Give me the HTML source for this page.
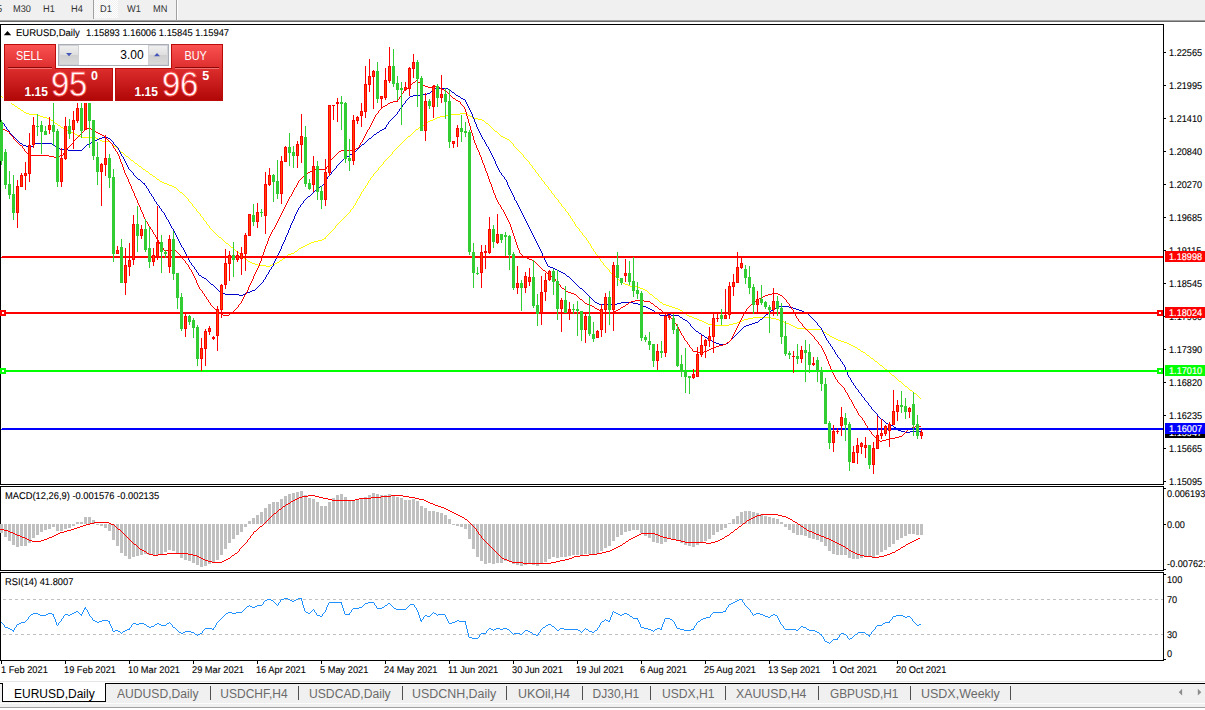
<!DOCTYPE html><html><head><meta charset="utf-8"><title>EURUSD,Daily</title><style>
html,body{margin:0;padding:0}
body{width:1205px;height:710px;overflow:hidden;background:#fff;position:relative;font-family:"Liberation Sans",sans-serif}
div{position:absolute;white-space:nowrap}
.ax{font-size:9.8px;text-rendering:geometricPrecision;line-height:10px;color:#000;left:1169px;transform:scaleX(.936);transform-origin:0 0;-webkit-text-stroke:.1px #000}
.lb{left:1165px;width:40px;height:11px}
.lb span{position:absolute;left:4px;top:2px;font-size:9.8px;text-rendering:geometricPrecision;line-height:10px;color:#fff;transform:scaleX(.936);transform-origin:0 0;-webkit-text-stroke:.2px #fff}
.dt{font-size:9.8px;text-rendering:geometricPrecision;line-height:10px;color:#000;-webkit-text-stroke:.1px #000;transform:scaleX(.944);transform-origin:0 0;top:666px}
.tb{font-size:9.8px;text-rendering:geometricPrecision;line-height:10px;color:#333;top:5px;transform:scaleX(.94);transform-origin:0 0}
.tab{font-size:12px;line-height:12px;color:#6a6a6a;top:688px}
.sep{top:686px;width:1px;height:14px;background:#505050}
</style></head><body>
<div style="left:0;top:0;width:1205px;height:20px;background:#f0f0f0"></div>
<div style="left:0;top:20px;width:1205px;height:1px;background:#a0a0a0"></div>
<div style="left:0;top:21px;width:1205px;height:1px;background:#696969"></div>
<div style="left:94px;top:0;width:24px;height:18px;background:repeating-conic-gradient(#fff 0 25%,#f0f0f0 0 50%) 0 0/2px 2px"></div>
<div style="left:93px;top:0;width:1px;height:19px;background:#a0a0a0"></div>
<div style="left:176px;top:0;width:1px;height:20px;background:#a0a0a0"></div><div style="left:177px;top:0;width:1px;height:20px;background:#fff"></div>
<div class="tb" style="left:-3.2px">5</div>
<div class="tb" style="left:12.5px">M30</div>
<div class="tb" style="left:43.3px">H1</div>
<div class="tb" style="left:70.5px">H4</div>
<div class="tb" style="left:99.7px">D1</div>
<div class="tb" style="left:127.2px">W1</div>
<div class="tb" style="left:153.3px">MN</div>
<svg width="1205" height="710" viewBox="0 0 1205 710" shape-rendering="crispEdges" style="position:absolute;left:0;top:0">
<rect x="0" y="24" width="1164" height="1" fill="#000"/>
<rect x="0" y="24" width="1" height="461" fill="#000"/>
<rect x="0" y="484" width="1164" height="1" fill="#000"/>
<rect x="1163" y="24" width="1" height="461" fill="#000"/>
<rect x="0" y="486" width="1164" height="1" fill="#000"/>
<rect x="0" y="486" width="1" height="85" fill="#000"/>
<rect x="0" y="570" width="1164" height="1" fill="#000"/>
<rect x="1163" y="486" width="1" height="85" fill="#000"/>
<rect x="0" y="572" width="1164" height="1" fill="#000"/>
<rect x="0" y="572" width="1" height="89" fill="#000"/>
<rect x="0" y="660" width="1164" height="1" fill="#000"/>
<rect x="1163" y="572" width="1" height="89" fill="#000"/>
<rect x="1164" y="52" width="2" height="1" fill="#000"/>
<rect x="1164" y="85" width="2" height="1" fill="#000"/>
<rect x="1164" y="118" width="2" height="1" fill="#000"/>
<rect x="1164" y="151" width="2" height="1" fill="#000"/>
<rect x="1164" y="184" width="2" height="1" fill="#000"/>
<rect x="1164" y="217" width="2" height="1" fill="#000"/>
<rect x="1164" y="250" width="2" height="1" fill="#000"/>
<rect x="1164" y="283" width="2" height="1" fill="#000"/>
<rect x="1164" y="316" width="2" height="1" fill="#000"/>
<rect x="1164" y="349" width="2" height="1" fill="#000"/>
<rect x="1164" y="382" width="2" height="1" fill="#000"/>
<rect x="1164" y="415" width="2" height="1" fill="#000"/>
<rect x="1164" y="448" width="2" height="1" fill="#000"/>
<rect x="1164" y="481" width="2" height="1" fill="#000"/>
<rect x="1164" y="488" width="2" height="1" fill="#000"/>
<rect x="1164" y="524" width="2" height="1" fill="#000"/>
<rect x="1164" y="569" width="2" height="1" fill="#000"/>
<rect x="1164" y="574" width="2" height="1" fill="#000"/>
<rect x="1164" y="659" width="2" height="1" fill="#000"/>
<rect x="1" y="661" width="1" height="3" fill="#000"/>
<rect x="65" y="661" width="1" height="3" fill="#000"/>
<rect x="129" y="661" width="1" height="3" fill="#000"/>
<rect x="193" y="661" width="1" height="3" fill="#000"/>
<rect x="257" y="661" width="1" height="3" fill="#000"/>
<rect x="321" y="661" width="1" height="3" fill="#000"/>
<rect x="385" y="661" width="1" height="3" fill="#000"/>
<rect x="449" y="661" width="1" height="3" fill="#000"/>
<rect x="513" y="661" width="1" height="3" fill="#000"/>
<rect x="577" y="661" width="1" height="3" fill="#000"/>
<rect x="641" y="661" width="1" height="3" fill="#000"/>
<rect x="705" y="661" width="1" height="3" fill="#000"/>
<rect x="769" y="661" width="1" height="3" fill="#000"/>
<rect x="833" y="661" width="1" height="3" fill="#000"/>
<rect x="897" y="661" width="1" height="3" fill="#000"/>
<path d="M1 96h1v1h-1zM2 97h1v1h-1zM3 97h1v1h-1zM4 98h1v1h-1zM5 99h1v1h-1zM6 99h1v1h-1zM7 100h1v1h-1zM8 101h1v1h-1zM9 101h1v1h-1zM10 102h1v1h-1zM11 103h1v1h-1zM12 104h1v1h-1zM13 104h1v1h-1zM14 105h1v1h-1zM15 106h1v1h-1zM16 106h1v1h-1zM17 107h1v1h-1zM18 108h1v1h-1zM19 108h1v1h-1zM20 109h1v1h-1zM21 110h1v1h-1zM22 110h1v1h-1zM23 111h1v1h-1zM24 112h1v1h-1zM25 112h1v1h-1zM26 113h1v1h-1zM27 113h1v1h-1zM28 113h1v1h-1zM29 114h1v1h-1zM30 114h1v1h-1zM31 114h1v1h-1zM32 114h1v1h-1zM33 114h1v1h-1zM34 114h1v1h-1zM35 114h1v1h-1zM36 114h1v1h-1zM37 115h1v1h-1zM38 115h1v1h-1zM39 115h1v1h-1zM40 116h1v1h-1zM41 116h1v1h-1zM42 116h1v1h-1zM43 117h1v1h-1zM44 117h1v1h-1zM45 117h1v1h-1zM46 117h1v1h-1zM47 118h1v1h-1zM48 118h1v1h-1zM49 118h1v1h-1zM50 119h1v1h-1zM51 120h1v1h-1zM52 120h1v1h-1zM53 121h1v1h-1zM54 122h1v1h-1zM55 123h1v1h-1zM56 123h1v1h-1zM57 124h1v1h-1zM58 125h1v1h-1zM59 125h1v1h-1zM60 126h1v1h-1zM61 127h1v1h-1zM62 127h1v1h-1zM63 128h1v1h-1zM64 128h1v1h-1zM65 129h1v1h-1zM66 129h1v1h-1zM67 130h1v1h-1zM68 130h1v1h-1zM69 131h1v1h-1zM70 131h1v1h-1zM71 132h1v1h-1zM72 132h1v1h-1zM73 133h1v1h-1zM74 133h1v1h-1zM75 134h1v1h-1zM76 134h1v1h-1zM77 135h1v1h-1zM78 135h1v1h-1zM79 136h1v1h-1zM80 136h1v1h-1zM81 137h1v1h-1zM82 137h1v1h-1zM83 137h1v1h-1zM84 137h1v1h-1zM85 137h1v1h-1zM86 137h1v1h-1zM87 137h1v1h-1zM88 137h1v1h-1zM89 137h1v1h-1zM90 137h1v1h-1zM91 137h1v1h-1zM92 137h1v1h-1zM93 137h1v1h-1zM94 137h1v1h-1zM95 137h1v1h-1zM96 138h1v1h-1zM97 138h1v1h-1zM98 139h1v1h-1zM99 139h1v1h-1zM100 140h1v1h-1zM101 140h1v1h-1zM102 141h1v1h-1zM103 141h1v1h-1zM104 141h1v1h-1zM105 141h1v1h-1zM106 141h1v1h-1zM107 141h1v1h-1zM108 141h1v1h-1zM109 141h1v1h-1zM110 142h1v1h-1zM111 143h1v1h-1zM112 144h1v1h-1zM113 145h1v1h-1zM114 146h1v1h-1zM115 146h1v1h-1zM116 147h1v1h-1zM117 148h1v1h-1zM118 149h1v1h-1zM119 150h1v1h-1zM120 151h1v1h-1zM121 152h1v1h-1zM122 152h1v1h-1zM123 153h1v1h-1zM124 154h1v1h-1zM125 155h1v1h-1zM126 156h1v1h-1zM127 156h1v1h-1zM128 157h1v1h-1zM129 158h1v1h-1zM130 159h1v1h-1zM131 160h1v1h-1zM132 160h1v1h-1zM133 161h1v1h-1zM134 162h1v1h-1zM135 163h1v1h-1zM136 163h1v1h-1zM137 164h1v1h-1zM138 165h1v1h-1zM139 166h1v1h-1zM140 166h1v1h-1zM141 167h1v1h-1zM142 168h1v1h-1zM143 169h1v1h-1zM144 169h1v1h-1zM145 170h1v1h-1zM146 171h1v1h-1zM147 171h1v1h-1zM148 172h1v1h-1zM149 173h1v1h-1zM150 174h1v1h-1zM151 174h1v1h-1zM152 175h1v1h-1zM153 176h1v1h-1zM154 176h1v1h-1zM155 177h1v1h-1zM156 178h1v1h-1zM157 179h1v1h-1zM158 179h1v1h-1zM159 180h1v1h-1zM160 181h1v1h-1zM161 181h1v1h-1zM162 182h1v1h-1zM163 182h1v1h-1zM164 183h1v1h-1zM165 183h1v1h-1zM166 183h1v1h-1zM167 184h1v1h-1zM168 184h1v1h-1zM169 185h1v1h-1zM170 185h1v1h-1zM171 185h1v1h-1zM172 186h1v1h-1zM173 186h1v1h-1zM174 187h1v1h-1zM175 187h1v1h-1zM176 188h1v1h-1zM177 189h1v1h-1zM178 190h1v1h-1zM179 191h1v1h-1zM180 192h1v1h-1zM181 192h1v1h-1zM182 193h1v1h-1zM183 194h1v1h-1zM184 195h1v1h-1zM185 196h1v1h-1zM186 197h1v1h-1zM187 198h1v1h-1zM188 199h1v2h-1zM189 201h1v1h-1zM190 202h1v1h-1zM191 203h1v1h-1zM192 204h1v2h-1zM193 206h1v1h-1zM194 207h1v1h-1zM195 208h1v1h-1zM196 209h1v2h-1zM197 211h1v1h-1zM198 212h1v1h-1zM199 213h1v1h-1zM200 214h1v2h-1zM201 216h1v1h-1zM202 217h1v1h-1zM203 218h1v2h-1zM204 220h1v1h-1zM205 221h1v1h-1zM206 222h1v2h-1zM207 224h1v1h-1zM208 225h1v1h-1zM209 226h1v2h-1zM210 228h1v1h-1zM211 229h1v1h-1zM212 230h1v1h-1zM213 231h1v1h-1zM214 232h1v1h-1zM215 233h1v1h-1zM216 234h1v1h-1zM217 235h1v1h-1zM218 236h1v1h-1zM219 237h1v1h-1zM220 237h1v1h-1zM221 238h1v1h-1zM222 239h1v1h-1zM223 240h1v1h-1zM224 241h1v1h-1zM225 242h1v1h-1zM226 243h1v1h-1zM227 243h1v1h-1zM228 244h1v1h-1zM229 245h1v1h-1zM230 246h1v1h-1zM231 247h1v1h-1zM232 247h1v1h-1zM233 248h1v1h-1zM234 249h1v1h-1zM235 250h1v1h-1zM236 251h1v1h-1zM237 251h1v1h-1zM238 252h1v1h-1zM239 253h1v1h-1zM240 254h1v1h-1zM241 255h1v1h-1zM242 256h1v1h-1zM243 257h1v1h-1zM244 258h1v1h-1zM245 259h1v1h-1zM246 259h1v1h-1zM247 260h1v1h-1zM248 261h1v1h-1zM249 261h1v1h-1zM250 262h1v1h-1zM251 262h1v1h-1zM252 263h1v1h-1zM253 263h1v1h-1zM254 263h1v1h-1zM255 264h1v1h-1zM256 264h1v1h-1zM257 264h1v1h-1zM258 265h1v1h-1zM259 265h1v1h-1zM260 265h1v1h-1zM261 265h1v1h-1zM262 265h1v1h-1zM263 265h1v1h-1zM264 265h1v1h-1zM265 265h1v1h-1zM266 266h1v1h-1zM267 266h1v1h-1zM268 266h1v1h-1zM269 266h1v1h-1zM270 265h1v1h-1zM271 265h1v1h-1zM272 264h1v1h-1zM273 264h1v1h-1zM274 264h1v1h-1zM275 263h1v1h-1zM276 263h1v1h-1zM277 262h1v1h-1zM278 262h1v1h-1zM279 261h1v1h-1zM280 260h1v1h-1zM281 260h1v1h-1zM282 259h1v1h-1zM283 258h1v1h-1zM284 258h1v1h-1zM285 257h1v1h-1zM286 256h1v1h-1zM287 255h1v1h-1zM288 254h1v1h-1zM289 254h1v1h-1zM290 254h1v1h-1zM291 253h1v1h-1zM292 253h1v1h-1zM293 253h1v1h-1zM294 252h1v1h-1zM295 251h1v1h-1zM296 251h1v1h-1zM297 250h1v1h-1zM298 249h1v1h-1zM299 248h1v1h-1zM300 248h1v1h-1zM301 247h1v1h-1zM302 247h1v1h-1zM303 246h1v1h-1zM304 246h1v1h-1zM305 245h1v1h-1zM306 245h1v1h-1zM307 244h1v1h-1zM308 244h1v1h-1zM309 243h1v1h-1zM310 243h1v1h-1zM311 242h1v1h-1zM312 242h1v1h-1zM313 242h1v1h-1zM314 241h1v1h-1zM315 241h1v1h-1zM316 241h1v1h-1zM317 241h1v1h-1zM318 240h1v1h-1zM319 240h1v1h-1zM320 240h1v1h-1zM321 240h1v1h-1zM322 239h1v1h-1zM323 239h1v1h-1zM324 238h1v1h-1zM325 237h1v2h-1zM326 236h1v1h-1zM327 235h1v1h-1zM328 234h1v1h-1zM329 233h1v1h-1zM330 232h1v1h-1zM331 231h1v1h-1zM332 230h1v1h-1zM333 229h1v1h-1zM334 228h1v1h-1zM335 226h1v2h-1zM336 225h1v1h-1zM337 224h1v1h-1zM338 223h1v1h-1zM339 222h1v1h-1zM340 221h1v1h-1zM341 220h1v1h-1zM342 219h1v1h-1zM343 218h1v1h-1zM344 217h1v1h-1zM345 216h1v1h-1zM346 215h1v1h-1zM347 214h1v1h-1zM348 213h1v1h-1zM349 212h1v1h-1zM350 210h1v2h-1zM351 209h1v1h-1zM352 208h1v1h-1zM353 206h1v2h-1zM354 205h1v1h-1zM355 203h1v2h-1zM356 201h1v2h-1zM357 199h1v2h-1zM358 198h1v1h-1zM359 196h1v2h-1zM360 194h1v2h-1zM361 192h1v2h-1zM362 191h1v1h-1zM363 189h1v2h-1zM364 188h1v1h-1zM365 186h1v2h-1zM366 185h1v1h-1zM367 183h1v2h-1zM368 181h1v2h-1zM369 180h1v1h-1zM370 178h1v2h-1zM371 177h1v1h-1zM372 176h1v1h-1zM373 174h1v2h-1zM374 173h1v1h-1zM375 172h1v1h-1zM376 171h1v1h-1zM377 170h1v1h-1zM378 168h1v2h-1zM379 167h1v1h-1zM380 166h1v1h-1zM381 165h1v1h-1zM382 164h1v1h-1zM383 162h1v2h-1zM384 161h1v1h-1zM385 160h1v1h-1zM386 159h1v1h-1zM387 158h1v1h-1zM388 157h1v1h-1zM389 156h1v1h-1zM390 155h1v1h-1zM391 154h1v1h-1zM392 152h1v2h-1zM393 151h1v1h-1zM394 150h1v1h-1zM395 149h1v1h-1zM396 148h1v1h-1zM397 147h1v1h-1zM398 146h1v1h-1zM399 145h1v1h-1zM400 144h1v1h-1zM401 143h1v1h-1zM402 142h1v1h-1zM403 141h1v1h-1zM404 140h1v1h-1zM405 139h1v1h-1zM406 138h1v1h-1zM407 137h1v1h-1zM408 136h1v1h-1zM409 136h1v1h-1zM410 135h1v1h-1zM411 134h1v1h-1zM412 133h1v1h-1zM413 132h1v1h-1zM414 131h1v1h-1zM415 130h1v1h-1zM416 129h1v1h-1zM417 129h1v1h-1zM418 128h1v1h-1zM419 127h1v1h-1zM420 127h1v1h-1zM421 126h1v1h-1zM422 125h1v1h-1zM423 125h1v1h-1zM424 124h1v1h-1zM425 123h1v1h-1zM426 123h1v1h-1zM427 122h1v1h-1zM428 121h1v1h-1zM429 121h1v1h-1zM430 120h1v1h-1zM431 120h1v1h-1zM432 120h1v1h-1zM433 119h1v1h-1zM434 119h1v1h-1zM435 118h1v1h-1zM436 118h1v1h-1zM437 117h1v1h-1zM438 117h1v1h-1zM439 117h1v1h-1zM440 116h1v1h-1zM441 116h1v1h-1zM442 116h1v1h-1zM443 116h1v1h-1zM444 116h1v1h-1zM445 115h1v1h-1zM446 115h1v1h-1zM447 115h1v1h-1zM448 115h1v1h-1zM449 115h1v1h-1zM450 115h1v1h-1zM451 114h1v1h-1zM452 114h1v1h-1zM453 114h1v1h-1zM454 114h1v1h-1zM455 114h1v1h-1zM456 114h1v1h-1zM457 114h1v1h-1zM458 114h1v1h-1zM459 114h1v1h-1zM460 113h1v1h-1zM461 113h1v1h-1zM462 113h1v1h-1zM463 113h1v1h-1zM464 113h1v1h-1zM465 113h1v1h-1zM466 114h1v1h-1zM467 114h1v1h-1zM468 115h1v1h-1zM469 115h1v1h-1zM470 116h1v1h-1zM471 116h1v1h-1zM472 117h1v1h-1zM473 117h1v1h-1zM474 118h1v1h-1zM475 118h1v1h-1zM476 118h1v1h-1zM477 118h1v1h-1zM478 119h1v1h-1zM479 119h1v1h-1zM480 119h1v1h-1zM481 119h1v1h-1zM482 120h1v1h-1zM483 120h1v1h-1zM484 121h1v1h-1zM485 122h1v1h-1zM486 123h1v1h-1zM487 123h1v1h-1zM488 124h1v1h-1zM489 125h1v1h-1zM490 126h1v1h-1zM491 127h1v1h-1zM492 128h1v1h-1zM493 129h1v1h-1zM494 130h1v1h-1zM495 131h1v1h-1zM496 131h1v1h-1zM497 132h1v1h-1zM498 133h1v1h-1zM499 134h1v1h-1zM500 135h1v1h-1zM501 136h1v1h-1zM502 136h1v1h-1zM503 137h1v1h-1zM504 137h1v1h-1zM505 138h1v1h-1zM506 138h1v1h-1zM507 139h1v1h-1zM508 139h1v1h-1zM509 140h1v1h-1zM510 141h1v1h-1zM511 142h1v1h-1zM512 143h1v1h-1zM513 144h1v2h-1zM514 146h1v1h-1zM515 147h1v1h-1zM516 148h1v1h-1zM517 149h1v1h-1zM518 150h1v1h-1zM519 151h1v1h-1zM520 152h1v1h-1zM521 153h1v1h-1zM522 154h1v1h-1zM523 155h1v2h-1zM524 157h1v1h-1zM525 158h1v1h-1zM526 159h1v1h-1zM527 160h1v1h-1zM528 161h1v1h-1zM529 162h1v2h-1zM530 164h1v1h-1zM531 165h1v1h-1zM532 166h1v2h-1zM533 168h1v1h-1zM534 169h1v1h-1zM535 170h1v2h-1zM536 172h1v1h-1zM537 173h1v1h-1zM538 174h1v2h-1zM539 176h1v1h-1zM540 177h1v1h-1zM541 178h1v2h-1zM542 180h1v1h-1zM543 181h1v1h-1zM544 182h1v2h-1zM545 184h1v1h-1zM546 185h1v1h-1zM547 186h1v1h-1zM548 187h1v2h-1zM549 189h1v1h-1zM550 190h1v1h-1zM551 191h1v2h-1zM552 193h1v1h-1zM553 194h1v1h-1zM554 195h1v2h-1zM555 197h1v1h-1zM556 198h1v1h-1zM557 199h1v1h-1zM558 200h1v2h-1zM559 202h1v1h-1zM560 203h1v1h-1zM561 204h1v2h-1zM562 206h1v1h-1zM563 207h1v1h-1zM564 208h1v1h-1zM565 209h1v2h-1zM566 211h1v1h-1zM567 212h1v1h-1zM568 213h1v2h-1zM569 215h1v1h-1zM570 216h1v2h-1zM571 218h1v1h-1zM572 219h1v2h-1zM573 221h1v1h-1zM574 222h1v2h-1zM575 224h1v2h-1zM576 226h1v1h-1zM577 227h1v1h-1zM578 228h1v1h-1zM579 229h1v2h-1zM580 231h1v1h-1zM581 232h1v1h-1zM582 233h1v2h-1zM583 235h1v1h-1zM584 236h1v1h-1zM585 237h1v1h-1zM586 238h1v2h-1zM587 240h1v1h-1zM588 241h1v2h-1zM589 243h1v1h-1zM590 244h1v2h-1zM591 246h1v2h-1zM592 248h1v1h-1zM593 249h1v2h-1zM594 251h1v1h-1zM595 252h1v2h-1zM596 254h1v1h-1zM597 255h1v2h-1zM598 257h1v1h-1zM599 258h1v1h-1zM600 259h1v2h-1zM601 261h1v1h-1zM602 262h1v1h-1zM603 263h1v2h-1zM604 265h1v1h-1zM605 266h1v1h-1zM606 267h1v1h-1zM607 268h1v1h-1zM608 269h1v1h-1zM609 270h1v2h-1zM610 272h1v1h-1zM611 273h1v1h-1zM612 274h1v1h-1zM613 274h1v1h-1zM614 275h1v1h-1zM615 276h1v1h-1zM616 277h1v1h-1zM617 278h1v1h-1zM618 279h1v1h-1zM619 280h1v1h-1zM620 281h1v1h-1zM621 281h1v1h-1zM622 282h1v1h-1zM623 283h1v1h-1zM624 283h1v1h-1zM625 284h1v1h-1zM626 284h1v1h-1zM627 284h1v1h-1zM628 285h1v1h-1zM629 285h1v1h-1zM630 286h1v1h-1zM631 286h1v1h-1zM632 286h1v1h-1zM633 286h1v1h-1zM634 286h1v1h-1zM635 286h1v1h-1zM636 286h1v1h-1zM637 286h1v1h-1zM638 287h1v1h-1zM639 287h1v1h-1zM640 288h1v1h-1zM641 288h1v1h-1zM642 288h1v1h-1zM643 289h1v1h-1zM644 289h1v1h-1zM645 290h1v1h-1zM646 290h1v1h-1zM647 291h1v1h-1zM648 292h1v1h-1zM649 293h1v1h-1zM650 294h1v1h-1zM651 294h1v1h-1zM652 295h1v1h-1zM653 296h1v1h-1zM654 297h1v1h-1zM655 298h1v1h-1zM656 298h1v1h-1zM657 299h1v1h-1zM658 300h1v1h-1zM659 301h1v1h-1zM660 302h1v1h-1zM661 302h1v1h-1zM662 303h1v1h-1zM663 304h1v1h-1zM664 304h1v1h-1zM665 304h1v1h-1zM666 305h1v1h-1zM667 305h1v1h-1zM668 305h1v1h-1zM669 306h1v1h-1zM670 306h1v1h-1zM671 306h1v1h-1zM672 307h1v1h-1zM673 307h1v1h-1zM674 307h1v1h-1zM675 308h1v1h-1zM676 308h1v1h-1zM677 308h1v1h-1zM678 309h1v1h-1zM679 309h1v1h-1zM680 310h1v1h-1zM681 310h1v1h-1zM682 311h1v1h-1zM683 312h1v1h-1zM684 313h1v1h-1zM685 313h1v1h-1zM686 314h1v1h-1zM687 315h1v1h-1zM688 315h1v1h-1zM689 316h1v1h-1zM690 316h1v1h-1zM691 316h1v1h-1zM692 317h1v1h-1zM693 317h1v1h-1zM694 318h1v1h-1zM695 318h1v1h-1zM696 318h1v1h-1zM697 319h1v1h-1zM698 319h1v1h-1zM699 320h1v1h-1zM700 320h1v1h-1zM701 320h1v1h-1zM702 321h1v1h-1zM703 321h1v1h-1zM704 322h1v1h-1zM705 322h1v1h-1zM706 323h1v1h-1zM707 323h1v1h-1zM708 324h1v1h-1zM709 324h1v1h-1zM710 324h1v1h-1zM711 324h1v1h-1zM712 324h1v1h-1zM713 324h1v1h-1zM714 324h1v1h-1zM715 325h1v1h-1zM716 325h1v1h-1zM717 325h1v1h-1zM718 325h1v1h-1zM719 325h1v1h-1zM720 325h1v1h-1zM721 325h1v1h-1zM722 325h1v1h-1zM723 325h1v1h-1zM724 325h1v1h-1zM725 325h1v1h-1zM726 325h1v1h-1zM727 325h1v1h-1zM728 325h1v1h-1zM729 324h1v1h-1zM730 324h1v1h-1zM731 324h1v1h-1zM732 324h1v1h-1zM733 323h1v1h-1zM734 323h1v1h-1zM735 323h1v1h-1zM736 323h1v1h-1zM737 322h1v1h-1zM738 322h1v1h-1zM739 321h1v1h-1zM740 321h1v1h-1zM741 321h1v1h-1zM742 320h1v1h-1zM743 320h1v1h-1zM744 319h1v1h-1zM745 319h1v1h-1zM746 319h1v1h-1zM747 319h1v1h-1zM748 318h1v1h-1zM749 318h1v1h-1zM750 318h1v1h-1zM751 318h1v1h-1zM752 318h1v1h-1zM753 317h1v1h-1zM754 317h1v1h-1zM755 317h1v1h-1zM756 317h1v1h-1zM757 317h1v1h-1zM758 317h1v1h-1zM759 317h1v1h-1zM760 317h1v1h-1zM761 317h1v1h-1zM762 317h1v1h-1zM763 317h1v1h-1zM764 317h1v1h-1zM765 317h1v1h-1zM766 317h1v1h-1zM767 317h1v1h-1zM768 317h1v1h-1zM769 317h1v1h-1zM770 317h1v1h-1zM771 318h1v1h-1zM772 318h1v1h-1zM773 318h1v1h-1zM774 318h1v1h-1zM775 318h1v1h-1zM776 319h1v1h-1zM777 319h1v1h-1zM778 319h1v1h-1zM779 320h1v1h-1zM780 320h1v1h-1zM781 321h1v1h-1zM782 321h1v1h-1zM783 321h1v1h-1zM784 322h1v1h-1zM785 322h1v1h-1zM786 323h1v1h-1zM787 323h1v1h-1zM788 323h1v1h-1zM789 324h1v1h-1zM790 324h1v1h-1zM791 325h1v1h-1zM792 325h1v1h-1zM793 326h1v1h-1zM794 326h1v1h-1zM795 327h1v1h-1zM796 327h1v1h-1zM797 328h1v1h-1zM798 328h1v1h-1zM799 328h1v1h-1zM800 328h1v1h-1zM801 328h1v1h-1zM802 328h1v1h-1zM803 328h1v1h-1zM804 328h1v1h-1zM805 329h1v1h-1zM806 329h1v1h-1zM807 329h1v1h-1zM808 329h1v1h-1zM809 329h1v1h-1zM810 329h1v1h-1zM811 329h1v1h-1zM812 329h1v1h-1zM813 329h1v1h-1zM814 329h1v1h-1zM815 329h1v1h-1zM816 329h1v1h-1zM817 329h1v1h-1zM818 329h1v1h-1zM819 329h1v1h-1zM820 329h1v1h-1zM821 329h1v1h-1zM822 330h1v1h-1zM823 331h1v1h-1zM824 332h1v1h-1zM825 332h1v1h-1zM826 333h1v1h-1zM827 334h1v1h-1zM828 334h1v1h-1zM829 335h1v1h-1zM830 336h1v1h-1zM831 336h1v1h-1zM832 337h1v1h-1zM833 337h1v1h-1zM834 338h1v1h-1zM835 338h1v1h-1zM836 339h1v1h-1zM837 339h1v1h-1zM838 340h1v1h-1zM839 340h1v1h-1zM840 340h1v1h-1zM841 341h1v1h-1zM842 341h1v1h-1zM843 341h1v1h-1zM844 342h1v1h-1zM845 342h1v1h-1zM846 342h1v1h-1zM847 343h1v1h-1zM848 343h1v1h-1zM849 344h1v1h-1zM850 344h1v1h-1zM851 345h1v1h-1zM852 345h1v1h-1zM853 346h1v1h-1zM854 346h1v1h-1zM855 347h1v1h-1zM856 347h1v1h-1zM857 348h1v1h-1zM858 349h1v1h-1zM859 349h1v1h-1zM860 350h1v1h-1zM861 351h1v1h-1zM862 351h1v1h-1zM863 352h1v1h-1zM864 352h1v1h-1zM865 353h1v1h-1zM866 354h1v1h-1zM867 355h1v1h-1zM868 355h1v1h-1zM869 356h1v1h-1zM870 357h1v1h-1zM871 358h1v1h-1zM872 358h1v1h-1zM873 359h1v1h-1zM874 360h1v1h-1zM875 361h1v1h-1zM876 361h1v1h-1zM877 362h1v1h-1zM878 363h1v1h-1zM879 364h1v1h-1zM880 365h1v1h-1zM881 365h1v1h-1zM882 366h1v1h-1zM883 367h1v1h-1zM884 368h1v1h-1zM885 369h1v1h-1zM886 369h1v1h-1zM887 370h1v1h-1zM888 371h1v1h-1zM889 372h1v1h-1zM890 373h1v1h-1zM891 374h1v1h-1zM892 375h1v1h-1zM893 375h1v1h-1zM894 376h1v1h-1zM895 377h1v1h-1zM896 378h1v1h-1zM897 379h1v1h-1zM898 380h1v1h-1zM899 381h1v1h-1zM900 381h1v1h-1zM901 382h1v1h-1zM902 383h1v1h-1zM903 384h1v1h-1zM904 385h1v1h-1zM905 386h1v1h-1zM906 386h1v1h-1zM907 387h1v1h-1zM908 388h1v1h-1zM909 389h1v1h-1zM910 390h1v1h-1zM911 390h1v1h-1zM912 391h1v1h-1zM913 392h1v1h-1zM914 393h1v1h-1zM915 393h1v1h-1zM916 394h1v1h-1zM917 395h1v1h-1zM918 396h1v1h-1zM919 397h1v1h-1zM920 398h1v1h-1z" fill="#ffff00"/>
<path d="M1 120h1v2h-1zM2 122h1v1h-1zM3 123h1v1h-1zM4 124h1v2h-1zM5 126h1v1h-1zM6 127h1v2h-1zM7 129h1v1h-1zM8 130h1v1h-1zM9 131h1v2h-1zM10 133h1v1h-1zM11 134h1v1h-1zM12 135h1v1h-1zM13 136h1v1h-1zM14 137h1v1h-1zM15 138h1v1h-1zM16 139h1v1h-1zM17 140h1v1h-1zM18 141h1v1h-1zM19 142h1v1h-1zM20 143h1v1h-1zM21 143h1v1h-1zM22 144h1v1h-1zM23 145h1v1h-1zM24 145h1v1h-1zM25 145h1v1h-1zM26 146h1v1h-1zM27 146h1v1h-1zM28 146h1v1h-1zM29 146h1v1h-1zM30 146h1v1h-1zM31 146h1v1h-1zM32 146h1v1h-1zM33 144h1v2h-1zM34 143h1v1h-1zM35 143h1v1h-1zM36 143h1v1h-1zM37 143h1v1h-1zM38 143h1v1h-1zM39 143h1v1h-1zM40 143h1v1h-1zM41 143h1v1h-1zM42 143h1v1h-1zM43 143h1v1h-1zM44 143h1v1h-1zM45 143h1v1h-1zM46 143h1v1h-1zM47 143h1v1h-1zM48 143h1v1h-1zM49 143h1v1h-1zM50 143h1v1h-1zM51 143h1v1h-1zM52 144h1v1h-1zM53 145h1v1h-1zM54 145h1v1h-1zM55 146h1v1h-1zM56 146h1v1h-1zM57 147h1v1h-1zM58 148h1v1h-1zM59 148h1v1h-1zM60 149h1v1h-1zM61 149h1v1h-1zM62 149h1v1h-1zM63 149h1v1h-1zM64 149h1v1h-1zM65 149h1v1h-1zM66 149h1v1h-1zM67 149h1v1h-1zM68 150h1v1h-1zM69 150h1v1h-1zM70 150h1v1h-1zM71 150h1v1h-1zM72 150h1v1h-1zM73 150h1v1h-1zM74 150h1v1h-1zM75 150h1v1h-1zM76 150h1v1h-1zM77 150h1v1h-1zM78 150h1v1h-1zM79 150h1v1h-1zM80 150h1v1h-1zM81 150h1v1h-1zM82 149h1v1h-1zM83 148h1v1h-1zM84 147h1v1h-1zM85 146h1v1h-1zM86 145h1v1h-1zM87 144h1v1h-1zM88 144h1v1h-1zM89 143h1v1h-1zM90 143h1v1h-1zM91 142h1v1h-1zM92 142h1v1h-1zM93 142h1v1h-1zM94 141h1v1h-1zM95 140h1v1h-1zM96 140h1v1h-1zM97 139h1v1h-1zM98 139h1v1h-1zM99 138h1v1h-1zM100 138h1v1h-1zM101 138h1v1h-1zM102 137h1v1h-1zM103 137h1v1h-1zM104 137h1v1h-1zM105 137h1v1h-1zM106 137h1v1h-1zM107 137h1v1h-1zM108 138h1v1h-1zM109 138h1v1h-1zM110 139h1v1h-1zM111 140h1v1h-1zM112 141h1v1h-1zM113 142h1v2h-1zM114 144h1v1h-1zM115 145h1v1h-1zM116 146h1v1h-1zM117 147h1v1h-1zM118 148h1v2h-1zM119 150h1v2h-1zM120 152h1v2h-1zM121 154h1v2h-1zM122 156h1v1h-1zM123 157h1v2h-1zM124 159h1v2h-1zM125 161h1v2h-1zM126 163h1v2h-1zM127 165h1v2h-1zM128 167h1v2h-1zM129 169h1v1h-1zM130 170h1v1h-1zM131 171h1v1h-1zM132 172h1v1h-1zM133 173h1v2h-1zM134 175h1v1h-1zM135 176h1v1h-1zM136 177h1v1h-1zM137 178h1v1h-1zM138 179h1v1h-1zM139 179h1v1h-1zM140 180h1v1h-1zM141 181h1v1h-1zM142 182h1v1h-1zM143 183h1v1h-1zM144 183h1v2h-1zM145 185h1v1h-1zM146 186h1v2h-1zM147 188h1v1h-1zM148 189h1v2h-1zM149 191h1v2h-1zM150 193h1v1h-1zM151 194h1v2h-1zM152 196h1v1h-1zM153 197h1v2h-1zM154 199h1v2h-1zM155 201h1v1h-1zM156 202h1v2h-1zM157 204h1v1h-1zM158 205h1v1h-1zM159 206h1v2h-1zM160 208h1v1h-1zM161 209h1v2h-1zM162 211h1v1h-1zM163 212h1v1h-1zM164 213h1v2h-1zM165 215h1v2h-1zM166 217h1v2h-1zM167 219h1v1h-1zM168 220h1v2h-1zM169 222h1v2h-1zM170 224h1v2h-1zM171 226h1v2h-1zM172 228h1v1h-1zM173 229h1v2h-1zM174 231h1v2h-1zM175 233h1v2h-1zM176 235h1v2h-1zM177 237h1v2h-1zM178 239h1v2h-1zM179 241h1v2h-1zM180 243h1v2h-1zM181 245h1v2h-1zM182 247h1v1h-1zM183 248h1v2h-1zM184 250h1v2h-1zM185 252h1v2h-1zM186 254h1v2h-1zM187 256h1v2h-1zM188 258h1v2h-1zM189 260h1v2h-1zM190 262h1v1h-1zM191 263h1v2h-1zM192 265h1v1h-1zM193 266h1v1h-1zM194 267h1v2h-1zM195 269h1v1h-1zM196 270h1v2h-1zM197 272h1v1h-1zM198 273h1v2h-1zM199 275h1v1h-1zM200 275h1v1h-1zM201 276h1v1h-1zM202 277h1v1h-1zM203 277h1v1h-1zM204 278h1v1h-1zM205 278h1v1h-1zM206 279h1v1h-1zM207 280h1v1h-1zM208 281h1v1h-1zM209 282h1v1h-1zM210 283h1v1h-1zM211 284h1v1h-1zM212 284h1v1h-1zM213 285h1v1h-1zM214 286h1v1h-1zM215 287h1v1h-1zM216 288h1v1h-1zM217 289h1v1h-1zM218 290h1v1h-1zM219 291h1v1h-1zM220 291h1v1h-1zM221 292h1v1h-1zM222 292h1v1h-1zM223 293h1v1h-1zM224 293h1v1h-1zM225 294h1v1h-1zM226 294h1v1h-1zM227 294h1v1h-1zM228 294h1v1h-1zM229 294h1v1h-1zM230 294h1v1h-1zM231 294h1v1h-1zM232 294h1v1h-1zM233 294h1v1h-1zM234 294h1v1h-1zM235 294h1v1h-1zM236 294h1v1h-1zM237 294h1v1h-1zM238 294h1v1h-1zM239 295h1v1h-1zM240 295h1v1h-1zM241 295h1v1h-1zM242 295h1v1h-1zM243 294h1v1h-1zM244 294h1v1h-1zM245 293h1v1h-1zM246 293h1v1h-1zM247 292h1v1h-1zM248 292h1v1h-1zM249 292h1v1h-1zM250 291h1v1h-1zM251 291h1v1h-1zM252 290h1v1h-1zM253 290h1v1h-1zM254 290h1v1h-1zM255 289h1v1h-1zM256 288h1v1h-1zM257 287h1v1h-1zM258 286h1v1h-1zM259 285h1v1h-1zM260 284h1v1h-1zM261 283h1v1h-1zM262 282h1v1h-1zM263 280h1v2h-1zM264 279h1v1h-1zM265 277h1v2h-1zM266 275h1v2h-1zM267 274h1v1h-1zM268 272h1v2h-1zM269 270h1v2h-1zM270 269h1v1h-1zM271 267h1v2h-1zM272 266h1v1h-1zM273 263h1v3h-1zM274 261h1v2h-1zM275 259h1v2h-1zM276 257h1v2h-1zM277 255h1v2h-1zM278 253h1v2h-1zM279 251h1v2h-1zM280 249h1v2h-1zM281 246h1v3h-1zM282 244h1v2h-1zM283 242h1v2h-1zM284 240h1v2h-1zM285 237h1v3h-1zM286 235h1v2h-1zM287 233h1v2h-1zM288 230h1v3h-1zM289 228h1v2h-1zM290 225h1v3h-1zM291 223h1v2h-1zM292 221h1v2h-1zM293 219h1v2h-1zM294 216h1v3h-1zM295 214h1v2h-1zM296 212h1v2h-1zM297 210h1v2h-1zM298 208h1v2h-1zM299 207h1v1h-1zM300 205h1v2h-1zM301 204h1v1h-1zM302 203h1v1h-1zM303 201h1v2h-1zM304 200h1v1h-1zM305 199h1v1h-1zM306 198h1v1h-1zM307 197h1v1h-1zM308 196h1v1h-1zM309 196h1v1h-1zM310 195h1v1h-1zM311 194h1v1h-1zM312 193h1v1h-1zM313 192h1v1h-1zM314 191h1v1h-1zM315 190h1v1h-1zM316 189h1v1h-1zM317 189h1v1h-1zM318 188h1v1h-1zM319 187h1v1h-1zM320 186h1v1h-1zM321 186h1v1h-1zM322 185h1v1h-1zM323 184h1v1h-1zM324 182h1v2h-1zM325 181h1v1h-1zM326 179h1v2h-1zM327 177h1v2h-1zM328 176h1v1h-1zM329 175h1v1h-1zM330 174h1v1h-1zM331 172h1v2h-1zM332 171h1v1h-1zM333 170h1v1h-1zM334 169h1v1h-1zM335 168h1v1h-1zM336 166h1v2h-1zM337 165h1v1h-1zM338 164h1v1h-1zM339 163h1v1h-1zM340 162h1v1h-1zM341 161h1v1h-1zM342 160h1v1h-1zM343 159h1v1h-1zM344 158h1v1h-1zM345 157h1v1h-1zM346 157h1v1h-1zM347 156h1v1h-1zM348 156h1v1h-1zM349 155h1v1h-1zM350 154h1v1h-1zM351 154h1v1h-1zM352 153h1v1h-1zM353 152h1v1h-1zM354 152h1v1h-1zM355 151h1v1h-1zM356 150h1v1h-1zM357 149h1v1h-1zM358 148h1v1h-1zM359 147h1v1h-1zM360 146h1v1h-1zM361 145h1v1h-1zM362 144h1v1h-1zM363 144h1v1h-1zM364 143h1v1h-1zM365 142h1v1h-1zM366 141h1v1h-1zM367 140h1v1h-1zM368 139h1v1h-1zM369 138h1v1h-1zM370 138h1v1h-1zM371 137h1v1h-1zM372 136h1v1h-1zM373 135h1v1h-1zM374 134h1v1h-1zM375 134h1v1h-1zM376 133h1v1h-1zM377 132h1v1h-1zM378 132h1v1h-1zM379 131h1v1h-1zM380 130h1v1h-1zM381 130h1v1h-1zM382 129h1v1h-1zM383 129h1v1h-1zM384 128h1v1h-1zM385 127h1v2h-1zM386 125h1v2h-1zM387 124h1v1h-1zM388 122h1v2h-1zM389 121h1v1h-1zM390 120h1v1h-1zM391 119h1v1h-1zM392 118h1v1h-1zM393 117h1v1h-1zM394 116h1v1h-1zM395 115h1v1h-1zM396 114h1v1h-1zM397 112h1v2h-1zM398 111h1v1h-1zM399 109h1v2h-1zM400 108h1v1h-1zM401 107h1v1h-1zM402 105h1v2h-1zM403 104h1v1h-1zM404 103h1v1h-1zM405 101h1v2h-1zM406 100h1v1h-1zM407 99h1v1h-1zM408 98h1v1h-1zM409 97h1v1h-1zM410 96h1v1h-1zM411 96h1v1h-1zM412 96h1v1h-1zM413 95h1v1h-1zM414 95h1v1h-1zM415 95h1v1h-1zM416 95h1v1h-1zM417 95h1v1h-1zM418 95h1v1h-1zM419 95h1v1h-1zM420 95h1v1h-1zM421 95h1v1h-1zM422 95h1v1h-1zM423 94h1v1h-1zM424 94h1v1h-1zM425 94h1v1h-1zM426 94h1v1h-1zM427 93h1v1h-1zM428 93h1v1h-1zM429 93h1v1h-1zM430 92h1v1h-1zM431 91h1v1h-1zM432 90h1v1h-1zM433 89h1v1h-1zM434 88h1v1h-1zM435 88h1v1h-1zM436 88h1v1h-1zM437 88h1v1h-1zM438 88h1v1h-1zM439 88h1v1h-1zM440 88h1v1h-1zM441 88h1v1h-1zM442 88h1v1h-1zM443 88h1v1h-1zM444 88h1v1h-1zM445 88h1v1h-1zM446 88h1v1h-1zM447 88h1v1h-1zM448 89h1v1h-1zM449 89h1v1h-1zM450 90h1v1h-1zM451 91h1v1h-1zM452 92h1v1h-1zM453 92h1v1h-1zM454 93h1v1h-1zM455 94h1v1h-1zM456 95h1v1h-1zM457 95h1v1h-1zM458 96h1v1h-1zM459 96h1v1h-1zM460 97h1v1h-1zM461 98h1v1h-1zM462 98h1v1h-1zM463 99h1v1h-1zM464 99h1v1h-1zM465 100h1v2h-1zM466 102h1v2h-1zM467 104h1v2h-1zM468 106h1v2h-1zM469 108h1v2h-1zM470 110h1v2h-1zM471 112h1v2h-1zM472 114h1v3h-1zM473 117h1v2h-1zM474 119h1v3h-1zM475 122h1v2h-1zM476 124h1v3h-1zM477 127h1v2h-1zM478 129h1v2h-1zM479 131h1v2h-1zM480 133h1v2h-1zM481 135h1v2h-1zM482 137h1v2h-1zM483 139h1v1h-1zM484 140h1v2h-1zM485 142h1v2h-1zM486 144h1v2h-1zM487 146h1v1h-1zM488 147h1v2h-1zM489 149h1v2h-1zM490 151h1v2h-1zM491 153h1v2h-1zM492 155h1v2h-1zM493 157h1v2h-1zM494 159h1v2h-1zM495 161h1v3h-1zM496 164h1v2h-1zM497 166h1v2h-1zM498 168h1v2h-1zM499 170h1v2h-1zM500 172h1v1h-1zM501 173h1v2h-1zM502 175h1v1h-1zM503 176h1v1h-1zM504 177h1v2h-1zM505 179h1v1h-1zM506 180h1v2h-1zM507 182h1v3h-1zM508 185h1v2h-1zM509 187h1v2h-1zM510 189h1v2h-1zM511 191h1v2h-1zM512 193h1v2h-1zM513 195h1v2h-1zM514 197h1v3h-1zM515 200h1v1h-1zM516 201h1v2h-1zM517 203h1v2h-1zM518 205h1v2h-1zM519 207h1v2h-1zM520 209h1v2h-1zM521 211h1v2h-1zM522 213h1v2h-1zM523 215h1v2h-1zM524 217h1v2h-1zM525 219h1v2h-1zM526 221h1v2h-1zM527 223h1v2h-1zM528 225h1v2h-1zM529 227h1v2h-1zM530 229h1v2h-1zM531 231h1v2h-1zM532 233h1v2h-1zM533 235h1v2h-1zM534 237h1v2h-1zM535 239h1v2h-1zM536 241h1v2h-1zM537 243h1v2h-1zM538 245h1v2h-1zM539 247h1v2h-1zM540 249h1v2h-1zM541 251h1v2h-1zM542 253h1v3h-1zM543 256h1v2h-1zM544 258h1v2h-1zM545 260h1v2h-1zM546 262h1v2h-1zM547 264h1v2h-1zM548 266h1v1h-1zM549 266h1v1h-1zM550 267h1v1h-1zM551 267h1v1h-1zM552 267h1v1h-1zM553 268h1v1h-1zM554 268h1v1h-1zM555 269h1v1h-1zM556 269h1v1h-1zM557 270h1v1h-1zM558 270h1v1h-1zM559 271h1v1h-1zM560 271h1v1h-1zM561 272h1v1h-1zM562 272h1v1h-1zM563 273h1v1h-1zM564 273h1v1h-1zM565 274h1v1h-1zM566 275h1v1h-1zM567 276h1v1h-1zM568 276h1v1h-1zM569 277h1v1h-1zM570 278h1v1h-1zM571 279h1v1h-1zM572 280h1v1h-1zM573 281h1v1h-1zM574 282h1v1h-1zM575 283h1v1h-1zM576 284h1v1h-1zM577 285h1v1h-1zM578 286h1v1h-1zM579 287h1v1h-1zM580 288h1v1h-1zM581 288h1v1h-1zM582 289h1v1h-1zM583 290h1v1h-1zM584 291h1v1h-1zM585 292h1v1h-1zM586 293h1v1h-1zM587 294h1v1h-1zM588 295h1v1h-1zM589 296h1v1h-1zM590 297h1v1h-1zM591 298h1v1h-1zM592 299h1v1h-1zM593 300h1v1h-1zM594 301h1v1h-1zM595 302h1v1h-1zM596 302h1v1h-1zM597 303h1v1h-1zM598 303h1v1h-1zM599 304h1v1h-1zM600 304h1v1h-1zM601 304h1v1h-1zM602 304h1v1h-1zM603 304h1v1h-1zM604 304h1v1h-1zM605 304h1v1h-1zM606 304h1v1h-1zM607 304h1v1h-1zM608 304h1v1h-1zM609 304h1v1h-1zM610 304h1v1h-1zM611 304h1v1h-1zM612 304h1v1h-1zM613 304h1v1h-1zM614 304h1v1h-1zM615 304h1v1h-1zM616 304h1v1h-1zM617 303h1v1h-1zM618 303h1v1h-1zM619 303h1v1h-1zM620 303h1v1h-1zM621 302h1v1h-1zM622 302h1v1h-1zM623 302h1v1h-1zM624 302h1v1h-1zM625 302h1v1h-1zM626 302h1v1h-1zM627 302h1v1h-1zM628 302h1v1h-1zM629 302h1v1h-1zM630 302h1v1h-1zM631 302h1v1h-1zM632 302h1v1h-1zM633 303h1v1h-1zM634 303h1v1h-1zM635 303h1v1h-1zM636 303h1v1h-1zM637 303h1v1h-1zM638 304h1v1h-1zM639 304h1v1h-1zM640 304h1v1h-1zM641 305h1v1h-1zM642 305h1v1h-1zM643 306h1v1h-1zM644 306h1v1h-1zM645 306h1v1h-1zM646 307h1v1h-1zM647 307h1v1h-1zM648 308h1v1h-1zM649 308h1v1h-1zM650 309h1v1h-1zM651 309h1v1h-1zM652 310h1v1h-1zM653 310h1v1h-1zM654 311h1v1h-1zM655 312h1v1h-1zM656 312h1v1h-1zM657 313h1v1h-1zM658 313h1v1h-1zM659 314h1v1h-1zM660 315h1v1h-1zM661 315h1v1h-1zM662 315h1v1h-1zM663 315h1v1h-1zM664 315h1v1h-1zM665 315h1v1h-1zM666 315h1v1h-1zM667 315h1v1h-1zM668 314h1v1h-1zM669 314h1v1h-1zM670 314h1v1h-1zM671 315h1v1h-1zM672 315h1v1h-1zM673 315h1v1h-1zM674 315h1v1h-1zM675 315h1v1h-1zM676 315h1v1h-1zM677 315h1v1h-1zM678 315h1v1h-1zM679 316h1v1h-1zM680 317h1v1h-1zM681 317h1v1h-1zM682 318h1v1h-1zM683 319h1v1h-1zM684 319h1v1h-1zM685 320h1v1h-1zM686 320h1v1h-1zM687 321h1v1h-1zM688 322h1v1h-1zM689 323h1v1h-1zM690 324h1v2h-1zM691 326h1v1h-1zM692 327h1v1h-1zM693 328h1v1h-1zM694 329h1v1h-1zM695 330h1v1h-1zM696 331h1v1h-1zM697 331h1v1h-1zM698 332h1v1h-1zM699 333h1v1h-1zM700 333h1v1h-1zM701 334h1v1h-1zM702 335h1v1h-1zM703 335h1v1h-1zM704 336h1v1h-1zM705 337h1v1h-1zM706 337h1v1h-1zM707 338h1v1h-1zM708 339h1v1h-1zM709 339h1v1h-1zM710 340h1v1h-1zM711 340h1v1h-1zM712 341h1v1h-1zM713 342h1v1h-1zM714 342h1v1h-1zM715 342h1v1h-1zM716 343h1v1h-1zM717 343h1v1h-1zM718 343h1v1h-1zM719 344h1v1h-1zM720 344h1v1h-1zM721 344h1v1h-1zM722 344h1v1h-1zM723 344h1v1h-1zM724 344h1v1h-1zM725 344h1v1h-1zM726 343h1v1h-1zM727 343h1v1h-1zM728 342h1v1h-1zM729 341h1v1h-1zM730 340h1v1h-1zM731 339h1v1h-1zM732 338h1v1h-1zM733 337h1v1h-1zM734 336h1v1h-1zM735 335h1v1h-1zM736 334h1v1h-1zM737 333h1v1h-1zM738 332h1v1h-1zM739 331h1v1h-1zM740 330h1v1h-1zM741 329h1v1h-1zM742 328h1v1h-1zM743 327h1v1h-1zM744 326h1v1h-1zM745 326h1v1h-1zM746 325h1v1h-1zM747 325h1v1h-1zM748 325h1v1h-1zM749 324h1v1h-1zM750 324h1v1h-1zM751 324h1v1h-1zM752 323h1v1h-1zM753 323h1v1h-1zM754 323h1v1h-1zM755 322h1v1h-1zM756 322h1v1h-1zM757 322h1v1h-1zM758 321h1v1h-1zM759 320h1v1h-1zM760 319h1v1h-1zM761 319h1v1h-1zM762 318h1v1h-1zM763 317h1v1h-1zM764 316h1v1h-1zM765 315h1v1h-1zM766 314h1v1h-1zM767 314h1v1h-1zM768 313h1v1h-1zM769 312h1v1h-1zM770 311h1v1h-1zM771 310h1v1h-1zM772 310h1v1h-1zM773 309h1v1h-1zM774 309h1v1h-1zM775 308h1v1h-1zM776 307h1v1h-1zM777 307h1v1h-1zM778 306h1v1h-1zM779 306h1v1h-1zM780 306h1v1h-1zM781 306h1v1h-1zM782 306h1v1h-1zM783 306h1v1h-1zM784 306h1v1h-1zM785 306h1v1h-1zM786 306h1v1h-1zM787 306h1v1h-1zM788 306h1v1h-1zM789 307h1v1h-1zM790 307h1v1h-1zM791 307h1v1h-1zM792 307h1v1h-1zM793 308h1v1h-1zM794 308h1v1h-1zM795 308h1v1h-1zM796 309h1v1h-1zM797 309h1v1h-1zM798 309h1v1h-1zM799 310h1v1h-1zM800 310h1v1h-1zM801 310h1v1h-1zM802 311h1v1h-1zM803 311h1v1h-1zM804 312h1v1h-1zM805 312h1v1h-1zM806 313h1v1h-1zM807 313h1v1h-1zM808 314h1v1h-1zM809 315h1v1h-1zM810 316h1v1h-1zM811 317h1v1h-1zM812 318h1v1h-1zM813 319h1v1h-1zM814 320h1v1h-1zM815 321h1v1h-1zM816 322h1v1h-1zM817 323h1v2h-1zM818 325h1v1h-1zM819 326h1v1h-1zM820 327h1v1h-1zM821 328h1v2h-1zM822 330h1v2h-1zM823 332h1v2h-1zM824 334h1v2h-1zM825 336h1v2h-1zM826 338h1v2h-1zM827 340h1v1h-1zM828 341h1v2h-1zM829 343h1v1h-1zM830 344h1v2h-1zM831 346h1v1h-1zM832 347h1v2h-1zM833 349h1v1h-1zM834 350h1v2h-1zM835 352h1v2h-1zM836 354h1v1h-1zM837 355h1v2h-1zM838 357h1v1h-1zM839 358h1v1h-1zM840 359h1v2h-1zM841 361h1v1h-1zM842 362h1v2h-1zM843 364h1v1h-1zM844 365h1v2h-1zM845 367h1v3h-1zM846 370h1v2h-1zM847 372h1v3h-1zM848 375h1v2h-1zM849 377h1v1h-1zM850 378h1v2h-1zM851 380h1v2h-1zM852 382h1v1h-1zM853 383h1v2h-1zM854 385h1v1h-1zM855 386h1v2h-1zM856 388h1v1h-1zM857 389h1v1h-1zM858 390h1v2h-1zM859 392h1v1h-1zM860 393h1v1h-1zM861 394h1v2h-1zM862 396h1v1h-1zM863 397h1v1h-1zM864 398h1v2h-1zM865 400h1v1h-1zM866 401h1v1h-1zM867 402h1v1h-1zM868 403h1v2h-1zM869 405h1v1h-1zM870 406h1v1h-1zM871 407h1v2h-1zM872 409h1v1h-1zM873 410h1v1h-1zM874 411h1v1h-1zM875 412h1v1h-1zM876 413h1v1h-1zM877 414h1v2h-1zM878 416h1v1h-1zM879 417h1v1h-1zM880 418h1v1h-1zM881 419h1v1h-1zM882 419h1v1h-1zM883 420h1v1h-1zM884 421h1v1h-1zM885 422h1v1h-1zM886 423h1v1h-1zM887 423h1v1h-1zM888 424h1v1h-1zM889 424h1v1h-1zM890 424h1v1h-1zM891 425h1v1h-1zM892 425h1v1h-1zM893 426h1v1h-1zM894 427h1v1h-1zM895 427h1v1h-1zM896 428h1v1h-1zM897 429h1v1h-1zM898 430h1v1h-1zM899 430h1v1h-1zM900 430h1v1h-1zM901 431h1v1h-1zM902 431h1v1h-1zM903 431h1v1h-1zM904 431h1v1h-1zM905 432h1v1h-1zM906 432h1v1h-1zM907 432h1v1h-1zM908 432h1v1h-1zM909 432h1v1h-1zM910 431h1v1h-1zM911 431h1v1h-1zM912 431h1v1h-1zM913 431h1v1h-1zM914 431h1v1h-1zM915 431h1v1h-1zM916 431h1v1h-1zM917 431h1v1h-1zM918 431h1v1h-1zM919 431h1v1h-1zM920 431h1v1h-1z" fill="#0000cd"/>
<path d="M2 129h1v1h-1zM3 129h1v1h-1zM4 129h1v1h-1zM5 130h1v1h-1zM6 130h1v1h-1zM7 131h1v1h-1zM8 131h1v1h-1zM9 132h1v2h-1zM10 134h1v1h-1zM11 135h1v1h-1zM12 136h1v1h-1zM13 137h1v2h-1zM14 139h1v1h-1zM15 140h1v1h-1zM16 141h1v1h-1zM17 142h1v1h-1zM18 143h1v1h-1zM19 144h1v1h-1zM20 145h1v1h-1zM21 145h1v1h-1zM22 146h1v2h-1zM23 148h1v1h-1zM24 149h1v2h-1zM25 151h1v1h-1zM26 152h1v1h-1zM27 153h1v1h-1zM28 154h1v1h-1zM29 154h1v1h-1zM30 155h1v1h-1zM31 155h1v1h-1zM32 155h1v1h-1zM33 155h1v1h-1zM34 155h1v1h-1zM35 155h1v1h-1zM36 155h1v1h-1zM37 155h1v1h-1zM38 155h1v1h-1zM39 155h1v1h-1zM40 155h1v1h-1zM41 155h1v1h-1zM42 155h1v1h-1zM43 155h1v1h-1zM44 155h1v1h-1zM45 155h1v1h-1zM46 155h1v1h-1zM47 155h1v1h-1zM48 155h1v1h-1zM49 156h1v1h-1zM50 156h1v1h-1zM51 156h1v1h-1zM52 156h1v1h-1zM53 156h1v1h-1zM54 157h1v1h-1zM55 157h1v1h-1zM56 157h1v1h-1zM57 157h1v1h-1zM58 156h1v1h-1zM59 156h1v1h-1zM60 155h1v1h-1zM61 155h1v1h-1zM62 155h1v1h-1zM63 153h1v2h-1zM64 152h1v1h-1zM65 151h1v1h-1zM66 149h1v2h-1zM67 148h1v1h-1zM68 147h1v1h-1zM69 146h1v1h-1zM70 145h1v1h-1zM71 144h1v1h-1zM72 143h1v1h-1zM73 141h1v2h-1zM74 140h1v1h-1zM75 139h1v1h-1zM76 138h1v1h-1zM77 137h1v1h-1zM78 136h1v1h-1zM79 135h1v1h-1zM80 134h1v1h-1zM81 133h1v1h-1zM82 132h1v1h-1zM83 131h1v1h-1zM84 130h1v1h-1zM85 129h1v1h-1zM86 128h1v1h-1zM87 128h1v1h-1zM88 128h1v1h-1zM89 128h1v1h-1zM90 128h1v1h-1zM91 129h1v1h-1zM92 129h1v1h-1zM93 130h1v1h-1zM94 131h1v1h-1zM95 131h1v1h-1zM96 132h1v1h-1zM97 132h1v1h-1zM98 133h1v1h-1zM99 133h1v1h-1zM100 134h1v1h-1zM101 134h1v1h-1zM102 135h1v1h-1zM103 135h1v1h-1zM104 136h1v1h-1zM105 137h1v1h-1zM106 138h1v1h-1zM107 139h1v1h-1zM108 140h1v1h-1zM109 141h1v1h-1zM110 142h1v1h-1zM111 143h1v1h-1zM112 144h1v2h-1zM113 146h1v2h-1zM114 148h1v1h-1zM115 149h1v2h-1zM116 151h1v1h-1zM117 152h1v2h-1zM118 154h1v2h-1zM119 156h1v3h-1zM120 159h1v3h-1zM121 162h1v2h-1zM122 164h1v3h-1zM123 167h1v3h-1zM124 170h1v3h-1zM125 173h1v2h-1zM126 175h1v2h-1zM127 177h1v2h-1zM128 179h1v3h-1zM129 182h1v2h-1zM130 184h1v2h-1zM131 186h1v3h-1zM132 189h1v2h-1zM133 191h1v2h-1zM134 193h1v3h-1zM135 196h1v2h-1zM136 198h1v2h-1zM137 200h1v3h-1zM138 203h1v2h-1zM139 205h1v2h-1zM140 207h1v3h-1zM141 210h1v2h-1zM142 212h1v2h-1zM143 214h1v3h-1zM144 217h1v2h-1zM145 219h1v2h-1zM146 221h1v1h-1zM147 222h1v2h-1zM148 224h1v2h-1zM149 226h1v1h-1zM150 227h1v2h-1zM151 229h1v1h-1zM152 230h1v2h-1zM153 232h1v2h-1zM154 234h1v1h-1zM155 235h1v2h-1zM156 237h1v2h-1zM157 239h1v1h-1zM158 240h1v2h-1zM159 242h1v2h-1zM160 244h1v1h-1zM161 245h1v2h-1zM162 247h1v1h-1zM163 248h1v2h-1zM164 250h1v1h-1zM165 250h1v1h-1zM166 250h1v1h-1zM167 250h1v1h-1zM168 250h1v1h-1zM169 250h1v1h-1zM170 250h1v1h-1zM171 250h1v1h-1zM172 250h1v1h-1zM173 250h1v1h-1zM174 250h1v1h-1zM175 250h1v1h-1zM176 251h1v1h-1zM177 252h1v1h-1zM178 253h1v1h-1zM179 254h1v1h-1zM180 255h1v2h-1zM181 257h1v1h-1zM182 258h1v1h-1zM183 259h1v1h-1zM184 260h1v1h-1zM185 261h1v2h-1zM186 263h1v1h-1zM187 264h1v1h-1zM188 265h1v2h-1zM189 267h1v2h-1zM190 269h1v1h-1zM191 270h1v2h-1zM192 272h1v2h-1zM193 274h1v2h-1zM194 276h1v2h-1zM195 278h1v2h-1zM196 280h1v3h-1zM197 283h1v2h-1zM198 285h1v2h-1zM199 287h1v2h-1zM200 289h1v1h-1zM201 290h1v1h-1zM202 291h1v2h-1zM203 293h1v1h-1zM204 294h1v2h-1zM205 296h1v1h-1zM206 297h1v2h-1zM207 299h1v1h-1zM208 300h1v2h-1zM209 302h1v1h-1zM210 303h1v2h-1zM211 305h1v1h-1zM212 306h1v1h-1zM213 307h1v1h-1zM214 308h1v1h-1zM215 309h1v1h-1zM216 310h1v1h-1zM217 310h1v1h-1zM218 311h1v1h-1zM219 312h1v1h-1zM220 313h1v1h-1zM221 313h1v1h-1zM222 314h1v1h-1zM223 315h1v1h-1zM224 315h1v1h-1zM225 315h1v1h-1zM226 315h1v1h-1zM227 315h1v1h-1zM228 315h1v1h-1zM229 314h1v1h-1zM230 313h1v1h-1zM231 313h1v1h-1zM232 312h1v1h-1zM233 311h1v2h-1zM234 310h1v1h-1zM235 309h1v1h-1zM236 308h1v1h-1zM237 307h1v1h-1zM238 305h1v2h-1zM239 304h1v1h-1zM240 303h1v1h-1zM241 301h1v2h-1zM242 299h1v2h-1zM243 297h1v2h-1zM244 295h1v2h-1zM245 294h1v1h-1zM246 292h1v2h-1zM247 290h1v2h-1zM248 287h1v3h-1zM249 285h1v2h-1zM250 283h1v2h-1zM251 281h1v2h-1zM252 279h1v2h-1zM253 276h1v3h-1zM254 274h1v2h-1zM255 272h1v2h-1zM256 270h1v2h-1zM257 268h1v2h-1zM258 266h1v2h-1zM259 263h1v3h-1zM260 261h1v2h-1zM261 258h1v3h-1zM262 255h1v3h-1zM263 252h1v3h-1zM264 249h1v3h-1zM265 246h1v3h-1zM266 244h1v2h-1zM267 241h1v3h-1zM268 238h1v3h-1zM269 236h1v2h-1zM270 234h1v2h-1zM271 232h1v2h-1zM272 230h1v2h-1zM273 229h1v1h-1zM274 227h1v2h-1zM275 225h1v2h-1zM276 223h1v2h-1zM277 221h1v2h-1zM278 219h1v2h-1zM279 217h1v2h-1zM280 215h1v2h-1zM281 213h1v2h-1zM282 211h1v2h-1zM283 209h1v2h-1zM284 207h1v2h-1zM285 205h1v2h-1zM286 203h1v2h-1zM287 201h1v2h-1zM288 199h1v2h-1zM289 197h1v2h-1zM290 196h1v1h-1zM291 194h1v2h-1zM292 192h1v2h-1zM293 190h1v2h-1zM294 188h1v2h-1zM295 187h1v1h-1zM296 185h1v2h-1zM297 183h1v2h-1zM298 181h1v2h-1zM299 180h1v1h-1zM300 179h1v1h-1zM301 178h1v1h-1zM302 177h1v1h-1zM303 176h1v1h-1zM304 175h1v1h-1zM305 174h1v1h-1zM306 174h1v1h-1zM307 173h1v1h-1zM308 172h1v1h-1zM309 172h1v1h-1zM310 171h1v1h-1zM311 171h1v1h-1zM312 170h1v1h-1zM313 170h1v1h-1zM314 170h1v1h-1zM315 169h1v1h-1zM316 169h1v1h-1zM317 169h1v1h-1zM318 169h1v1h-1zM319 169h1v1h-1zM320 169h1v1h-1zM321 169h1v1h-1zM322 169h1v1h-1zM323 169h1v1h-1zM324 169h1v1h-1zM325 169h1v1h-1zM326 167h1v2h-1zM327 166h1v1h-1zM328 164h1v2h-1zM329 162h1v2h-1zM330 160h1v2h-1zM331 159h1v1h-1zM332 158h1v1h-1zM333 157h1v1h-1zM334 156h1v1h-1zM335 155h1v1h-1zM336 154h1v1h-1zM337 153h1v1h-1zM338 152h1v1h-1zM339 151h1v1h-1zM340 151h1v1h-1zM341 150h1v1h-1zM342 150h1v1h-1zM343 150h1v1h-1zM344 150h1v1h-1zM345 150h1v1h-1zM346 150h1v1h-1zM347 150h1v1h-1zM348 150h1v1h-1zM349 150h1v1h-1zM350 150h1v1h-1zM351 150h1v1h-1zM352 150h1v1h-1zM353 150h1v1h-1zM354 150h1v1h-1zM355 149h1v1h-1zM356 148h1v1h-1zM357 148h1v1h-1zM358 147h1v1h-1zM359 145h1v2h-1zM360 143h1v2h-1zM361 142h1v1h-1zM362 140h1v2h-1zM363 138h1v2h-1zM364 136h1v2h-1zM365 134h1v2h-1zM366 132h1v2h-1zM367 130h1v2h-1zM368 129h1v1h-1zM369 127h1v2h-1zM370 125h1v2h-1zM371 123h1v2h-1zM372 121h1v2h-1zM373 119h1v2h-1zM374 117h1v2h-1zM375 115h1v2h-1zM376 114h1v1h-1zM377 113h1v1h-1zM378 111h1v2h-1zM379 110h1v1h-1zM380 109h1v1h-1zM381 108h1v1h-1zM382 107h1v1h-1zM383 106h1v1h-1zM384 106h1v1h-1zM385 105h1v1h-1zM386 105h1v1h-1zM387 104h1v1h-1zM388 103h1v1h-1zM389 103h1v1h-1zM390 102h1v1h-1zM391 102h1v1h-1zM392 102h1v1h-1zM393 101h1v1h-1zM394 101h1v1h-1zM395 101h1v1h-1zM396 101h1v1h-1zM397 100h1v2h-1zM398 99h1v1h-1zM399 97h1v2h-1zM400 96h1v1h-1zM401 94h1v2h-1zM402 93h1v1h-1zM403 91h1v2h-1zM404 90h1v1h-1zM405 89h1v1h-1zM406 88h1v1h-1zM407 88h1v1h-1zM408 87h1v1h-1zM409 86h1v1h-1zM410 85h1v1h-1zM411 84h1v1h-1zM412 83h1v1h-1zM413 82h1v1h-1zM414 82h1v1h-1zM415 81h1v1h-1zM416 80h1v1h-1zM417 81h1v1h-1zM418 82h1v1h-1zM419 82h1v1h-1zM420 83h1v1h-1zM421 84h1v1h-1zM422 84h1v1h-1zM423 85h1v1h-1zM424 85h1v1h-1zM425 86h1v1h-1zM426 86h1v1h-1zM427 86h1v1h-1zM428 87h1v1h-1zM429 87h1v1h-1zM430 87h1v1h-1zM431 87h1v1h-1zM432 86h1v1h-1zM433 85h1v1h-1zM434 85h1v1h-1zM435 86h1v1h-1zM436 86h1v1h-1zM437 86h1v1h-1zM438 87h1v1h-1zM439 87h1v1h-1zM440 88h1v1h-1zM441 88h1v1h-1zM442 89h1v1h-1zM443 89h1v1h-1zM444 90h1v1h-1zM445 91h1v1h-1zM446 91h1v1h-1zM447 92h1v1h-1zM448 93h1v1h-1zM449 94h1v1h-1zM450 95h1v1h-1zM451 96h1v1h-1zM452 97h1v1h-1zM453 98h1v1h-1zM454 98h1v1h-1zM455 99h1v1h-1zM456 100h1v1h-1zM457 100h1v1h-1zM458 101h1v1h-1zM459 101h1v1h-1zM460 102h1v2h-1zM461 104h1v1h-1zM462 105h1v1h-1zM463 106h1v1h-1zM464 107h1v2h-1zM465 109h1v3h-1zM466 112h1v4h-1zM467 116h1v3h-1zM468 119h1v4h-1zM469 123h1v3h-1zM470 126h1v4h-1zM471 130h1v3h-1zM472 133h1v3h-1zM473 136h1v4h-1zM474 140h1v3h-1zM475 143h1v2h-1zM476 145h1v3h-1zM477 148h1v2h-1zM478 150h1v2h-1zM479 152h1v3h-1zM480 155h1v2h-1zM481 157h1v3h-1zM482 160h1v3h-1zM483 163h1v2h-1zM484 165h1v3h-1zM485 168h1v3h-1zM486 171h1v2h-1zM487 173h1v3h-1zM488 176h1v3h-1zM489 179h1v3h-1zM490 182h1v2h-1zM491 184h1v3h-1zM492 187h1v3h-1zM493 190h1v3h-1zM494 193h1v2h-1zM495 195h1v3h-1zM496 198h1v2h-1zM497 200h1v2h-1zM498 202h1v2h-1zM499 204h1v1h-1zM500 205h1v2h-1zM501 207h1v2h-1zM502 209h1v1h-1zM503 210h1v2h-1zM504 212h1v2h-1zM505 214h1v2h-1zM506 216h1v2h-1zM507 218h1v2h-1zM508 220h1v2h-1zM509 222h1v2h-1zM510 224h1v3h-1zM511 227h1v3h-1zM512 230h1v3h-1zM513 233h1v3h-1zM514 236h1v3h-1zM515 239h1v3h-1zM516 242h1v3h-1zM517 245h1v3h-1zM518 248h1v2h-1zM519 250h1v3h-1zM520 253h1v1h-1zM521 254h1v1h-1zM522 255h1v1h-1zM523 256h1v1h-1zM524 256h1v1h-1zM525 257h1v1h-1zM526 257h1v1h-1zM527 258h1v1h-1zM528 258h1v1h-1zM529 259h1v1h-1zM530 259h1v1h-1zM531 259h1v1h-1zM532 260h1v1h-1zM533 260h1v1h-1zM534 261h1v1h-1zM535 262h1v1h-1zM536 263h1v1h-1zM537 264h1v1h-1zM538 265h1v1h-1zM539 266h1v1h-1zM540 267h1v1h-1zM541 268h1v1h-1zM542 269h1v1h-1zM543 270h1v1h-1zM544 270h1v1h-1zM545 271h1v1h-1zM546 272h1v1h-1zM547 273h1v1h-1zM548 274h1v1h-1zM549 274h1v1h-1zM550 275h1v1h-1zM551 276h1v1h-1zM552 277h1v1h-1zM553 278h1v1h-1zM554 279h1v1h-1zM555 279h1v2h-1zM556 281h1v1h-1zM557 282h1v1h-1zM558 283h1v1h-1zM559 284h1v1h-1zM560 285h1v2h-1zM561 287h1v1h-1zM562 288h1v1h-1zM563 288h1v1h-1zM564 289h1v1h-1zM565 290h1v1h-1zM566 291h1v1h-1zM567 291h1v1h-1zM568 292h1v1h-1zM569 292h1v1h-1zM570 292h1v1h-1zM571 293h1v1h-1zM572 293h1v1h-1zM573 293h1v1h-1zM574 294h1v1h-1zM575 294h1v1h-1zM576 295h1v1h-1zM577 296h1v1h-1zM578 297h1v1h-1zM579 298h1v1h-1zM580 299h1v1h-1zM581 299h1v1h-1zM582 300h1v1h-1zM583 301h1v1h-1zM584 302h1v1h-1zM585 303h1v1h-1zM586 303h1v1h-1zM587 304h1v1h-1zM588 304h1v1h-1zM589 305h1v1h-1zM590 305h1v1h-1zM591 305h1v1h-1zM592 306h1v1h-1zM593 306h1v1h-1zM594 307h1v1h-1zM595 308h1v1h-1zM596 308h1v1h-1zM597 309h1v1h-1zM598 309h1v1h-1zM599 310h1v1h-1zM600 310h1v1h-1zM601 311h1v1h-1zM602 311h1v1h-1zM603 312h1v1h-1zM604 312h1v1h-1zM605 313h1v1h-1zM606 313h1v1h-1zM607 313h1v1h-1zM608 313h1v1h-1zM609 313h1v1h-1zM610 312h1v1h-1zM611 312h1v1h-1zM612 312h1v1h-1zM613 312h1v1h-1zM614 311h1v1h-1zM615 311h1v1h-1zM616 310h1v1h-1zM617 310h1v1h-1zM618 309h1v1h-1zM619 309h1v1h-1zM620 308h1v1h-1zM621 307h1v1h-1zM622 307h1v1h-1zM623 306h1v1h-1zM624 306h1v1h-1zM625 305h1v1h-1zM626 304h1v1h-1zM627 304h1v1h-1zM628 303h1v1h-1zM629 302h1v1h-1zM630 302h1v1h-1zM631 301h1v1h-1zM632 301h1v1h-1zM633 301h1v1h-1zM634 301h1v1h-1zM635 300h1v1h-1zM636 300h1v1h-1zM637 300h1v1h-1zM638 300h1v1h-1zM639 300h1v1h-1zM640 300h1v1h-1zM641 300h1v1h-1zM642 300h1v1h-1zM643 300h1v1h-1zM644 301h1v1h-1zM645 301h1v1h-1zM646 301h1v1h-1zM647 301h1v1h-1zM648 301h1v1h-1zM649 301h1v1h-1zM650 302h1v1h-1zM651 303h1v1h-1zM652 303h1v1h-1zM653 304h1v1h-1zM654 305h1v1h-1zM655 306h1v1h-1zM656 306h1v1h-1zM657 307h1v1h-1zM658 308h1v1h-1zM659 309h1v1h-1zM660 309h1v1h-1zM661 310h1v1h-1zM662 311h1v1h-1zM663 312h1v1h-1zM664 312h1v1h-1zM665 313h1v1h-1zM666 313h1v1h-1zM667 314h1v1h-1zM668 315h1v1h-1zM669 316h1v1h-1zM670 317h1v1h-1zM671 318h1v1h-1zM672 319h1v2h-1zM673 321h1v1h-1zM674 322h1v1h-1zM675 323h1v1h-1zM676 324h1v2h-1zM677 326h1v1h-1zM678 327h1v2h-1zM679 329h1v2h-1zM680 331h1v2h-1zM681 333h1v2h-1zM682 335h1v1h-1zM683 336h1v2h-1zM684 338h1v2h-1zM685 340h1v1h-1zM686 341h1v1h-1zM687 342h1v2h-1zM688 344h1v1h-1zM689 345h1v2h-1zM690 347h1v1h-1zM691 348h1v1h-1zM692 349h1v2h-1zM693 351h1v1h-1zM694 351h1v1h-1zM695 351h1v1h-1zM696 351h1v1h-1zM697 352h1v1h-1zM698 352h1v1h-1zM699 352h1v1h-1zM700 352h1v1h-1zM701 352h1v1h-1zM702 352h1v1h-1zM703 352h1v1h-1zM704 351h1v1h-1zM705 351h1v1h-1zM706 351h1v1h-1zM707 350h1v1h-1zM708 350h1v1h-1zM709 349h1v1h-1zM710 349h1v1h-1zM711 348h1v1h-1zM712 348h1v1h-1zM713 348h1v1h-1zM714 347h1v1h-1zM715 347h1v1h-1zM716 346h1v1h-1zM717 346h1v1h-1zM718 346h1v1h-1zM719 345h1v1h-1zM720 345h1v1h-1zM721 345h1v1h-1zM722 345h1v1h-1zM723 344h1v1h-1zM724 344h1v1h-1zM725 344h1v1h-1zM726 343h1v1h-1zM727 342h1v1h-1zM728 342h1v1h-1zM729 341h1v1h-1zM730 340h1v1h-1zM731 338h1v2h-1zM732 336h1v2h-1zM733 334h1v2h-1zM734 332h1v2h-1zM735 330h1v2h-1zM736 328h1v2h-1zM737 326h1v2h-1zM738 324h1v2h-1zM739 322h1v2h-1zM740 320h1v2h-1zM741 318h1v2h-1zM742 316h1v2h-1zM743 314h1v2h-1zM744 312h1v2h-1zM745 311h1v1h-1zM746 309h1v2h-1zM747 308h1v1h-1zM748 307h1v1h-1zM749 306h1v1h-1zM750 305h1v1h-1zM751 304h1v1h-1zM752 303h1v1h-1zM753 303h1v1h-1zM754 302h1v1h-1zM755 301h1v1h-1zM756 300h1v1h-1zM757 300h1v1h-1zM758 299h1v1h-1zM759 298h1v1h-1zM760 298h1v1h-1zM761 297h1v1h-1zM762 297h1v1h-1zM763 296h1v1h-1zM764 296h1v1h-1zM765 295h1v1h-1zM766 295h1v1h-1zM767 295h1v1h-1zM768 294h1v1h-1zM769 294h1v1h-1zM770 294h1v1h-1zM771 294h1v1h-1zM772 293h1v1h-1zM773 293h1v1h-1zM774 293h1v1h-1zM775 293h1v1h-1zM776 293h1v1h-1zM777 293h1v1h-1zM778 294h1v1h-1zM779 294h1v1h-1zM780 295h1v1h-1zM781 295h1v1h-1zM782 296h1v1h-1zM783 297h1v1h-1zM784 298h1v1h-1zM785 299h1v1h-1zM786 300h1v2h-1zM787 302h1v1h-1zM788 303h1v1h-1zM789 304h1v2h-1zM790 306h1v1h-1zM791 307h1v2h-1zM792 309h1v1h-1zM793 310h1v2h-1zM794 312h1v2h-1zM795 314h1v2h-1zM796 316h1v2h-1zM797 318h1v1h-1zM798 319h1v2h-1zM799 321h1v1h-1zM800 322h1v1h-1zM801 323h1v1h-1zM802 324h1v2h-1zM803 326h1v1h-1zM804 327h1v1h-1zM805 328h1v1h-1zM806 329h1v1h-1zM807 330h1v1h-1zM808 331h1v1h-1zM809 332h1v1h-1zM810 333h1v1h-1zM811 334h1v1h-1zM812 335h1v1h-1zM813 336h1v1h-1zM814 337h1v2h-1zM815 339h1v1h-1zM816 340h1v1h-1zM817 341h1v1h-1zM818 342h1v2h-1zM819 344h1v1h-1zM820 345h1v1h-1zM821 346h1v2h-1zM822 348h1v2h-1zM823 350h1v2h-1zM824 352h1v2h-1zM825 354h1v2h-1zM826 356h1v3h-1zM827 359h1v2h-1zM828 361h1v3h-1zM829 364h1v2h-1zM830 366h1v3h-1zM831 369h1v2h-1zM832 371h1v2h-1zM833 373h1v2h-1zM834 375h1v2h-1zM835 377h1v2h-1zM836 379h1v1h-1zM837 380h1v2h-1zM838 382h1v1h-1zM839 383h1v1h-1zM840 384h1v1h-1zM841 385h1v1h-1zM842 386h1v1h-1zM843 387h1v1h-1zM844 388h1v2h-1zM845 390h1v2h-1zM846 392h1v1h-1zM847 393h1v2h-1zM848 395h1v2h-1zM849 397h1v2h-1zM850 399h1v1h-1zM851 400h1v2h-1zM852 402h1v2h-1zM853 404h1v2h-1zM854 406h1v2h-1zM855 408h1v1h-1zM856 409h1v2h-1zM857 411h1v2h-1zM858 413h1v2h-1zM859 415h1v1h-1zM860 416h1v1h-1zM861 417h1v1h-1zM862 418h1v2h-1zM863 420h1v1h-1zM864 421h1v2h-1zM865 423h1v2h-1zM866 425h1v1h-1zM867 426h1v2h-1zM868 428h1v2h-1zM869 430h1v1h-1zM870 431h1v1h-1zM871 432h1v2h-1zM872 434h1v1h-1zM873 435h1v1h-1zM874 436h1v1h-1zM875 437h1v1h-1zM876 438h1v1h-1zM877 439h1v1h-1zM878 440h1v1h-1zM879 440h1v1h-1zM880 441h1v1h-1zM881 441h1v1h-1zM882 440h1v1h-1zM883 440h1v1h-1zM884 440h1v1h-1zM885 440h1v1h-1zM886 439h1v1h-1zM887 439h1v1h-1zM888 439h1v1h-1zM889 439h1v1h-1zM890 438h1v1h-1zM891 438h1v1h-1zM892 438h1v1h-1zM893 438h1v1h-1zM894 438h1v1h-1zM895 437h1v1h-1zM896 437h1v1h-1zM897 437h1v1h-1zM898 437h1v1h-1zM899 436h1v1h-1zM900 436h1v1h-1zM901 436h1v1h-1zM902 435h1v1h-1zM903 434h1v1h-1zM904 433h1v1h-1zM905 432h1v1h-1zM906 431h1v1h-1zM907 430h1v1h-1zM908 429h1v1h-1zM909 429h1v1h-1zM910 428h1v1h-1zM911 428h1v1h-1zM912 427h1v1h-1zM913 427h1v1h-1zM914 427h1v1h-1zM915 426h1v1h-1zM916 426h1v1h-1zM917 426h1v1h-1zM918 426h1v1h-1zM919 426h1v1h-1zM920 426h1v1h-1z" fill="#ff0000"/>
<rect x="2" y="256" width="1161" height="1" fill="#ff0000"/>
<rect x="1" y="257" width="1162" height="1" fill="#ff0000"/>
<rect x="2" y="312" width="1161" height="1" fill="#ff0000"/>
<rect x="1" y="313" width="1162" height="1" fill="#ff0000"/>
<rect x="2" y="370" width="1161" height="1" fill="#00ff00"/>
<rect x="1" y="371" width="1162" height="1" fill="#00ff00"/>
<rect x="2" y="428" width="1161" height="1" fill="#0000ff"/>
<rect x="1" y="429" width="1162" height="1" fill="#0000ff"/>
<g id="candles">
<rect x="1" y="120" width="1" height="45" fill="#32cd32"/>
<rect x="0" y="122" width="3" height="39" fill="#32cd32"/>
<rect x="5" y="149" width="1" height="40" fill="#32cd32"/>
<rect x="4" y="152" width="3" height="33" fill="#32cd32"/>
<rect x="9" y="171" width="1" height="28" fill="#32cd32"/>
<rect x="8" y="184" width="3" height="11" fill="#32cd32"/>
<rect x="13" y="175" width="1" height="45" fill="#32cd32"/>
<rect x="12" y="194" width="3" height="19" fill="#32cd32"/>
<rect x="17" y="180" width="1" height="48" fill="#ff0000"/>
<rect x="16" y="186" width="3" height="27" fill="#ff0000"/>
<rect x="17" y="187" width="1" height="25" fill="#ff4500"/>
<rect x="21" y="173" width="1" height="14" fill="#ff0000"/>
<rect x="20" y="175" width="3" height="12" fill="#ff0000"/>
<rect x="21" y="176" width="1" height="10" fill="#ff4500"/>
<rect x="25" y="162" width="1" height="28" fill="#ff0000"/>
<rect x="24" y="173" width="3" height="3" fill="#ff0000"/>
<rect x="25" y="174" width="1" height="1" fill="#ff4500"/>
<rect x="29" y="133" width="1" height="49" fill="#ff0000"/>
<rect x="28" y="145" width="3" height="29" fill="#ff0000"/>
<rect x="29" y="146" width="1" height="27" fill="#ff4500"/>
<rect x="33" y="117" width="1" height="31" fill="#ff0000"/>
<rect x="32" y="125" width="3" height="20" fill="#ff0000"/>
<rect x="33" y="126" width="1" height="18" fill="#ff4500"/>
<rect x="37" y="114" width="1" height="22" fill="#32cd32"/>
<rect x="36" y="126" width="3" height="1" fill="#32cd32"/>
<rect x="41" y="121" width="1" height="33" fill="#32cd32"/>
<rect x="40" y="125" width="3" height="7" fill="#32cd32"/>
<rect x="45" y="126" width="1" height="9" fill="#32cd32"/>
<rect x="44" y="131" width="3" height="4" fill="#32cd32"/>
<rect x="49" y="117" width="1" height="17" fill="#ff0000"/>
<rect x="48" y="125" width="3" height="5" fill="#ff0000"/>
<rect x="49" y="126" width="1" height="3" fill="#ff4500"/>
<rect x="53" y="103" width="1" height="43" fill="#32cd32"/>
<rect x="52" y="125" width="3" height="7" fill="#32cd32"/>
<rect x="57" y="129" width="1" height="58" fill="#32cd32"/>
<rect x="56" y="131" width="3" height="51" fill="#32cd32"/>
<rect x="61" y="148" width="1" height="39" fill="#ff0000"/>
<rect x="60" y="158" width="3" height="24" fill="#ff0000"/>
<rect x="61" y="159" width="1" height="22" fill="#ff4500"/>
<rect x="65" y="117" width="1" height="43" fill="#ff0000"/>
<rect x="64" y="126" width="3" height="33" fill="#ff0000"/>
<rect x="65" y="127" width="1" height="31" fill="#ff4500"/>
<rect x="69" y="119" width="1" height="20" fill="#32cd32"/>
<rect x="68" y="126" width="3" height="8" fill="#32cd32"/>
<rect x="73" y="111" width="1" height="38" fill="#ff0000"/>
<rect x="72" y="120" width="3" height="10" fill="#ff0000"/>
<rect x="73" y="121" width="1" height="8" fill="#ff4500"/>
<rect x="77" y="99" width="1" height="24" fill="#ff0000"/>
<rect x="76" y="108" width="3" height="13" fill="#ff0000"/>
<rect x="77" y="109" width="1" height="11" fill="#ff4500"/>
<rect x="81" y="98" width="1" height="40" fill="#32cd32"/>
<rect x="80" y="108" width="3" height="23" fill="#32cd32"/>
<rect x="85" y="90" width="1" height="40" fill="#ff0000"/>
<rect x="84" y="96" width="3" height="34" fill="#ff0000"/>
<rect x="85" y="97" width="1" height="32" fill="#ff4500"/>
<rect x="89" y="90" width="1" height="58" fill="#32cd32"/>
<rect x="88" y="96" width="3" height="25" fill="#32cd32"/>
<rect x="93" y="120" width="1" height="40" fill="#32cd32"/>
<rect x="92" y="120" width="3" height="36" fill="#32cd32"/>
<rect x="97" y="142" width="1" height="43" fill="#32cd32"/>
<rect x="96" y="157" width="3" height="15" fill="#32cd32"/>
<rect x="101" y="163" width="1" height="43" fill="#ff0000"/>
<rect x="100" y="164" width="3" height="8" fill="#ff0000"/>
<rect x="101" y="165" width="1" height="6" fill="#ff4500"/>
<rect x="105" y="135" width="1" height="41" fill="#ff0000"/>
<rect x="104" y="158" width="3" height="7" fill="#ff0000"/>
<rect x="105" y="159" width="1" height="5" fill="#ff4500"/>
<rect x="109" y="154" width="1" height="34" fill="#32cd32"/>
<rect x="108" y="158" width="3" height="20" fill="#32cd32"/>
<rect x="113" y="169" width="1" height="93" fill="#32cd32"/>
<rect x="112" y="177" width="3" height="77" fill="#32cd32"/>
<rect x="117" y="246" width="1" height="8" fill="#ff0000"/>
<rect x="116" y="250" width="3" height="4" fill="#ff0000"/>
<rect x="117" y="251" width="1" height="2" fill="#ff4500"/>
<rect x="121" y="239" width="1" height="44" fill="#32cd32"/>
<rect x="120" y="247" width="3" height="36" fill="#32cd32"/>
<rect x="125" y="248" width="1" height="47" fill="#ff0000"/>
<rect x="124" y="265" width="3" height="18" fill="#ff0000"/>
<rect x="125" y="266" width="1" height="16" fill="#ff4500"/>
<rect x="129" y="243" width="1" height="33" fill="#ff0000"/>
<rect x="128" y="260" width="3" height="7" fill="#ff0000"/>
<rect x="129" y="261" width="1" height="5" fill="#ff4500"/>
<rect x="133" y="215" width="1" height="50" fill="#ff0000"/>
<rect x="132" y="224" width="3" height="36" fill="#ff0000"/>
<rect x="133" y="225" width="1" height="34" fill="#ff4500"/>
<rect x="137" y="206" width="1" height="46" fill="#32cd32"/>
<rect x="136" y="224" width="3" height="12" fill="#32cd32"/>
<rect x="141" y="225" width="1" height="14" fill="#ff0000"/>
<rect x="140" y="229" width="3" height="7" fill="#ff0000"/>
<rect x="141" y="230" width="1" height="5" fill="#ff4500"/>
<rect x="145" y="219" width="1" height="33" fill="#32cd32"/>
<rect x="144" y="229" width="3" height="21" fill="#32cd32"/>
<rect x="149" y="227" width="1" height="41" fill="#32cd32"/>
<rect x="148" y="248" width="3" height="14" fill="#32cd32"/>
<rect x="153" y="248" width="1" height="18" fill="#ff0000"/>
<rect x="152" y="255" width="3" height="7" fill="#ff0000"/>
<rect x="153" y="256" width="1" height="5" fill="#ff4500"/>
<rect x="157" y="206" width="1" height="54" fill="#ff0000"/>
<rect x="156" y="242" width="3" height="15" fill="#ff0000"/>
<rect x="157" y="243" width="1" height="13" fill="#ff4500"/>
<rect x="161" y="235" width="1" height="38" fill="#32cd32"/>
<rect x="160" y="242" width="3" height="10" fill="#32cd32"/>
<rect x="165" y="250" width="1" height="8" fill="#32cd32"/>
<rect x="164" y="252" width="3" height="2" fill="#32cd32"/>
<rect x="169" y="235" width="1" height="38" fill="#ff0000"/>
<rect x="168" y="239" width="3" height="28" fill="#ff0000"/>
<rect x="169" y="240" width="1" height="26" fill="#ff4500"/>
<rect x="173" y="231" width="1" height="49" fill="#32cd32"/>
<rect x="172" y="239" width="3" height="35" fill="#32cd32"/>
<rect x="177" y="273" width="1" height="36" fill="#32cd32"/>
<rect x="176" y="273" width="3" height="25" fill="#32cd32"/>
<rect x="181" y="293" width="1" height="38" fill="#32cd32"/>
<rect x="180" y="297" width="3" height="32" fill="#32cd32"/>
<rect x="185" y="314" width="1" height="23" fill="#ff0000"/>
<rect x="184" y="316" width="3" height="13" fill="#ff0000"/>
<rect x="185" y="317" width="1" height="11" fill="#ff4500"/>
<rect x="189" y="315" width="1" height="10" fill="#32cd32"/>
<rect x="188" y="316" width="3" height="6" fill="#32cd32"/>
<rect x="193" y="318" width="1" height="20" fill="#32cd32"/>
<rect x="192" y="320" width="3" height="8" fill="#32cd32"/>
<rect x="197" y="325" width="1" height="41" fill="#32cd32"/>
<rect x="196" y="327" width="3" height="32" fill="#32cd32"/>
<rect x="201" y="338" width="1" height="33" fill="#ff0000"/>
<rect x="200" y="348" width="3" height="11" fill="#ff0000"/>
<rect x="201" y="349" width="1" height="9" fill="#ff4500"/>
<rect x="205" y="329" width="1" height="37" fill="#ff0000"/>
<rect x="204" y="331" width="3" height="18" fill="#ff0000"/>
<rect x="205" y="332" width="1" height="16" fill="#ff4500"/>
<rect x="209" y="326" width="1" height="9" fill="#ff0000"/>
<rect x="208" y="328" width="3" height="4" fill="#ff0000"/>
<rect x="209" y="329" width="1" height="2" fill="#ff4500"/>
<rect x="213" y="336" width="1" height="4" fill="#ff0000"/>
<rect x="212" y="337" width="3" height="2" fill="#ff0000"/>
<rect x="217" y="306" width="1" height="45" fill="#ff0000"/>
<rect x="216" y="309" width="3" height="27" fill="#ff0000"/>
<rect x="217" y="310" width="1" height="25" fill="#ff4500"/>
<rect x="221" y="284" width="1" height="34" fill="#ff0000"/>
<rect x="220" y="285" width="3" height="25" fill="#ff0000"/>
<rect x="221" y="286" width="1" height="23" fill="#ff4500"/>
<rect x="225" y="249" width="1" height="40" fill="#ff0000"/>
<rect x="224" y="263" width="3" height="22" fill="#ff0000"/>
<rect x="225" y="264" width="1" height="20" fill="#ff4500"/>
<rect x="229" y="251" width="1" height="30" fill="#ff0000"/>
<rect x="228" y="255" width="3" height="9" fill="#ff0000"/>
<rect x="229" y="256" width="1" height="7" fill="#ff4500"/>
<rect x="233" y="242" width="1" height="35" fill="#32cd32"/>
<rect x="232" y="255" width="3" height="5" fill="#32cd32"/>
<rect x="237" y="251" width="1" height="11" fill="#ff0000"/>
<rect x="236" y="255" width="3" height="5" fill="#ff0000"/>
<rect x="237" y="256" width="1" height="3" fill="#ff4500"/>
<rect x="241" y="247" width="1" height="28" fill="#ff0000"/>
<rect x="240" y="253" width="3" height="6" fill="#ff0000"/>
<rect x="241" y="254" width="1" height="4" fill="#ff4500"/>
<rect x="245" y="233" width="1" height="38" fill="#ff0000"/>
<rect x="244" y="235" width="3" height="19" fill="#ff0000"/>
<rect x="245" y="236" width="1" height="17" fill="#ff4500"/>
<rect x="249" y="214" width="1" height="22" fill="#ff0000"/>
<rect x="248" y="214" width="3" height="22" fill="#ff0000"/>
<rect x="249" y="215" width="1" height="20" fill="#ff4500"/>
<rect x="253" y="204" width="1" height="22" fill="#32cd32"/>
<rect x="252" y="215" width="3" height="7" fill="#32cd32"/>
<rect x="257" y="203" width="1" height="25" fill="#ff0000"/>
<rect x="256" y="212" width="3" height="10" fill="#ff0000"/>
<rect x="257" y="213" width="1" height="8" fill="#ff4500"/>
<rect x="261" y="209" width="1" height="8" fill="#32cd32"/>
<rect x="260" y="212" width="3" height="1" fill="#32cd32"/>
<rect x="265" y="172" width="1" height="62" fill="#ff0000"/>
<rect x="264" y="184" width="3" height="32" fill="#ff0000"/>
<rect x="265" y="185" width="1" height="30" fill="#ff4500"/>
<rect x="269" y="168" width="1" height="18" fill="#ff0000"/>
<rect x="268" y="175" width="3" height="10" fill="#ff0000"/>
<rect x="269" y="176" width="1" height="8" fill="#ff4500"/>
<rect x="273" y="174" width="1" height="28" fill="#32cd32"/>
<rect x="272" y="175" width="3" height="7" fill="#32cd32"/>
<rect x="277" y="160" width="1" height="39" fill="#32cd32"/>
<rect x="276" y="181" width="3" height="13" fill="#32cd32"/>
<rect x="281" y="156" width="1" height="48" fill="#ff0000"/>
<rect x="280" y="161" width="3" height="33" fill="#ff0000"/>
<rect x="281" y="162" width="1" height="31" fill="#ff4500"/>
<rect x="285" y="146" width="1" height="16" fill="#ff0000"/>
<rect x="284" y="147" width="3" height="15" fill="#ff0000"/>
<rect x="285" y="148" width="1" height="13" fill="#ff4500"/>
<rect x="289" y="133" width="1" height="33" fill="#32cd32"/>
<rect x="288" y="147" width="3" height="6" fill="#32cd32"/>
<rect x="293" y="146" width="1" height="22" fill="#32cd32"/>
<rect x="292" y="152" width="3" height="4" fill="#32cd32"/>
<rect x="297" y="141" width="1" height="27" fill="#ff0000"/>
<rect x="296" y="144" width="3" height="12" fill="#ff0000"/>
<rect x="297" y="145" width="1" height="10" fill="#ff4500"/>
<rect x="301" y="114" width="1" height="49" fill="#ff0000"/>
<rect x="300" y="136" width="3" height="9" fill="#ff0000"/>
<rect x="301" y="137" width="1" height="7" fill="#ff4500"/>
<rect x="305" y="126" width="1" height="61" fill="#32cd32"/>
<rect x="304" y="137" width="3" height="47" fill="#32cd32"/>
<rect x="309" y="179" width="1" height="11" fill="#32cd32"/>
<rect x="308" y="183" width="3" height="6" fill="#32cd32"/>
<rect x="313" y="156" width="1" height="36" fill="#ff0000"/>
<rect x="312" y="166" width="3" height="19" fill="#ff0000"/>
<rect x="313" y="167" width="1" height="17" fill="#ff4500"/>
<rect x="317" y="161" width="1" height="39" fill="#32cd32"/>
<rect x="316" y="166" width="3" height="26" fill="#32cd32"/>
<rect x="321" y="186" width="1" height="23" fill="#32cd32"/>
<rect x="320" y="191" width="3" height="9" fill="#32cd32"/>
<rect x="325" y="159" width="1" height="47" fill="#ff0000"/>
<rect x="324" y="172" width="3" height="28" fill="#ff0000"/>
<rect x="325" y="173" width="1" height="26" fill="#ff4500"/>
<rect x="329" y="105" width="1" height="71" fill="#ff0000"/>
<rect x="328" y="105" width="3" height="68" fill="#ff0000"/>
<rect x="329" y="106" width="1" height="66" fill="#ff4500"/>
<rect x="333" y="105" width="1" height="15" fill="#ff0000"/>
<rect x="332" y="105" width="3" height="1" fill="#ff0000"/>
<rect x="337" y="98" width="1" height="24" fill="#ff0000"/>
<rect x="336" y="102" width="3" height="2" fill="#ff0000"/>
<rect x="341" y="96" width="1" height="34" fill="#32cd32"/>
<rect x="340" y="102" width="3" height="2" fill="#32cd32"/>
<rect x="345" y="102" width="1" height="61" fill="#32cd32"/>
<rect x="344" y="103" width="3" height="56" fill="#32cd32"/>
<rect x="349" y="139" width="1" height="32" fill="#32cd32"/>
<rect x="348" y="158" width="3" height="3" fill="#32cd32"/>
<rect x="353" y="115" width="1" height="50" fill="#ff0000"/>
<rect x="352" y="120" width="3" height="41" fill="#ff0000"/>
<rect x="353" y="121" width="1" height="39" fill="#ff4500"/>
<rect x="357" y="116" width="1" height="8" fill="#ff0000"/>
<rect x="356" y="117" width="3" height="4" fill="#ff0000"/>
<rect x="357" y="118" width="1" height="2" fill="#ff4500"/>
<rect x="361" y="103" width="1" height="24" fill="#ff0000"/>
<rect x="360" y="111" width="3" height="5" fill="#ff0000"/>
<rect x="361" y="112" width="1" height="3" fill="#ff4500"/>
<rect x="365" y="66" width="1" height="52" fill="#ff0000"/>
<rect x="364" y="84" width="3" height="28" fill="#ff0000"/>
<rect x="365" y="85" width="1" height="26" fill="#ff4500"/>
<rect x="369" y="59" width="1" height="33" fill="#ff0000"/>
<rect x="368" y="76" width="3" height="9" fill="#ff0000"/>
<rect x="369" y="77" width="1" height="7" fill="#ff4500"/>
<rect x="373" y="70" width="1" height="39" fill="#ff0000"/>
<rect x="372" y="71" width="3" height="6" fill="#ff0000"/>
<rect x="373" y="72" width="1" height="4" fill="#ff4500"/>
<rect x="377" y="62" width="1" height="41" fill="#32cd32"/>
<rect x="376" y="71" width="3" height="28" fill="#32cd32"/>
<rect x="381" y="96" width="1" height="12" fill="#ff0000"/>
<rect x="380" y="96" width="3" height="3" fill="#ff0000"/>
<rect x="381" y="97" width="1" height="1" fill="#ff4500"/>
<rect x="385" y="68" width="1" height="32" fill="#ff0000"/>
<rect x="384" y="80" width="3" height="18" fill="#ff0000"/>
<rect x="385" y="81" width="1" height="16" fill="#ff4500"/>
<rect x="389" y="47" width="1" height="36" fill="#ff0000"/>
<rect x="388" y="66" width="3" height="15" fill="#ff0000"/>
<rect x="389" y="67" width="1" height="13" fill="#ff4500"/>
<rect x="393" y="49" width="1" height="38" fill="#32cd32"/>
<rect x="392" y="66" width="3" height="18" fill="#32cd32"/>
<rect x="397" y="76" width="1" height="24" fill="#32cd32"/>
<rect x="396" y="83" width="3" height="7" fill="#32cd32"/>
<rect x="401" y="82" width="1" height="43" fill="#32cd32"/>
<rect x="400" y="88" width="3" height="2" fill="#32cd32"/>
<rect x="405" y="82" width="1" height="9" fill="#ff0000"/>
<rect x="404" y="87" width="3" height="3" fill="#ff0000"/>
<rect x="405" y="88" width="1" height="1" fill="#ff4500"/>
<rect x="409" y="67" width="1" height="29" fill="#ff0000"/>
<rect x="408" y="68" width="3" height="21" fill="#ff0000"/>
<rect x="409" y="69" width="1" height="19" fill="#ff4500"/>
<rect x="413" y="54" width="1" height="24" fill="#ff0000"/>
<rect x="412" y="62" width="3" height="7" fill="#ff0000"/>
<rect x="413" y="63" width="1" height="5" fill="#ff4500"/>
<rect x="417" y="60" width="1" height="47" fill="#32cd32"/>
<rect x="416" y="62" width="3" height="17" fill="#32cd32"/>
<rect x="421" y="76" width="1" height="55" fill="#32cd32"/>
<rect x="420" y="78" width="3" height="53" fill="#32cd32"/>
<rect x="425" y="93" width="1" height="48" fill="#ff0000"/>
<rect x="424" y="101" width="3" height="30" fill="#ff0000"/>
<rect x="425" y="102" width="1" height="28" fill="#ff4500"/>
<rect x="429" y="99" width="1" height="10" fill="#32cd32"/>
<rect x="428" y="101" width="3" height="5" fill="#32cd32"/>
<rect x="433" y="85" width="1" height="33" fill="#ff0000"/>
<rect x="432" y="86" width="3" height="21" fill="#ff0000"/>
<rect x="433" y="87" width="1" height="19" fill="#ff4500"/>
<rect x="437" y="84" width="1" height="23" fill="#32cd32"/>
<rect x="436" y="86" width="3" height="12" fill="#32cd32"/>
<rect x="441" y="75" width="1" height="28" fill="#ff0000"/>
<rect x="440" y="94" width="3" height="4" fill="#ff0000"/>
<rect x="441" y="95" width="1" height="2" fill="#ff4500"/>
<rect x="445" y="88" width="1" height="31" fill="#32cd32"/>
<rect x="444" y="94" width="3" height="8" fill="#32cd32"/>
<rect x="449" y="89" width="1" height="59" fill="#32cd32"/>
<rect x="448" y="101" width="3" height="41" fill="#32cd32"/>
<rect x="453" y="141" width="1" height="7" fill="#ff0000"/>
<rect x="452" y="141" width="3" height="3" fill="#ff0000"/>
<rect x="453" y="142" width="1" height="1" fill="#ff4500"/>
<rect x="457" y="125" width="1" height="22" fill="#ff0000"/>
<rect x="456" y="128" width="3" height="9" fill="#ff0000"/>
<rect x="457" y="129" width="1" height="7" fill="#ff4500"/>
<rect x="461" y="115" width="1" height="27" fill="#32cd32"/>
<rect x="460" y="128" width="3" height="4" fill="#32cd32"/>
<rect x="465" y="122" width="1" height="15" fill="#32cd32"/>
<rect x="464" y="131" width="3" height="2" fill="#32cd32"/>
<rect x="469" y="130" width="1" height="125" fill="#32cd32"/>
<rect x="468" y="132" width="3" height="120" fill="#32cd32"/>
<rect x="473" y="243" width="1" height="45" fill="#32cd32"/>
<rect x="472" y="252" width="3" height="21" fill="#32cd32"/>
<rect x="477" y="267" width="1" height="8" fill="#32cd32"/>
<rect x="476" y="273" width="3" height="1" fill="#32cd32"/>
<rect x="481" y="245" width="1" height="43" fill="#ff0000"/>
<rect x="480" y="252" width="3" height="21" fill="#ff0000"/>
<rect x="481" y="253" width="1" height="19" fill="#ff4500"/>
<rect x="485" y="245" width="1" height="24" fill="#ff0000"/>
<rect x="484" y="251" width="3" height="2" fill="#ff0000"/>
<rect x="489" y="217" width="1" height="37" fill="#ff0000"/>
<rect x="488" y="229" width="3" height="24" fill="#ff0000"/>
<rect x="489" y="230" width="1" height="22" fill="#ff4500"/>
<rect x="493" y="225" width="1" height="23" fill="#32cd32"/>
<rect x="492" y="229" width="3" height="13" fill="#32cd32"/>
<rect x="497" y="214" width="1" height="30" fill="#ff0000"/>
<rect x="496" y="234" width="3" height="9" fill="#ff0000"/>
<rect x="497" y="235" width="1" height="7" fill="#ff4500"/>
<rect x="501" y="234" width="1" height="9" fill="#32cd32"/>
<rect x="500" y="234" width="3" height="6" fill="#32cd32"/>
<rect x="505" y="232" width="1" height="24" fill="#32cd32"/>
<rect x="504" y="235" width="3" height="2" fill="#32cd32"/>
<rect x="509" y="235" width="1" height="35" fill="#32cd32"/>
<rect x="508" y="236" width="3" height="19" fill="#32cd32"/>
<rect x="513" y="252" width="1" height="38" fill="#32cd32"/>
<rect x="512" y="254" width="3" height="34" fill="#32cd32"/>
<rect x="517" y="266" width="1" height="28" fill="#ff0000"/>
<rect x="516" y="283" width="3" height="5" fill="#ff0000"/>
<rect x="517" y="284" width="1" height="3" fill="#ff4500"/>
<rect x="521" y="280" width="1" height="31" fill="#32cd32"/>
<rect x="520" y="283" width="3" height="5" fill="#32cd32"/>
<rect x="525" y="272" width="1" height="21" fill="#ff0000"/>
<rect x="524" y="276" width="3" height="12" fill="#ff0000"/>
<rect x="525" y="277" width="1" height="10" fill="#ff4500"/>
<rect x="529" y="268" width="1" height="18" fill="#ff0000"/>
<rect x="528" y="277" width="3" height="5" fill="#ff0000"/>
<rect x="529" y="278" width="1" height="3" fill="#ff4500"/>
<rect x="533" y="260" width="1" height="48" fill="#32cd32"/>
<rect x="532" y="277" width="3" height="29" fill="#32cd32"/>
<rect x="537" y="294" width="1" height="32" fill="#32cd32"/>
<rect x="536" y="305" width="3" height="9" fill="#32cd32"/>
<rect x="541" y="276" width="1" height="49" fill="#ff0000"/>
<rect x="540" y="292" width="3" height="21" fill="#ff0000"/>
<rect x="541" y="293" width="1" height="19" fill="#ff4500"/>
<rect x="545" y="273" width="1" height="28" fill="#ff0000"/>
<rect x="544" y="280" width="3" height="12" fill="#ff0000"/>
<rect x="545" y="281" width="1" height="10" fill="#ff4500"/>
<rect x="549" y="270" width="1" height="11" fill="#ff0000"/>
<rect x="548" y="271" width="3" height="9" fill="#ff0000"/>
<rect x="549" y="272" width="1" height="7" fill="#ff4500"/>
<rect x="553" y="269" width="1" height="26" fill="#32cd32"/>
<rect x="552" y="271" width="3" height="11" fill="#32cd32"/>
<rect x="557" y="270" width="1" height="50" fill="#32cd32"/>
<rect x="556" y="281" width="3" height="28" fill="#32cd32"/>
<rect x="561" y="298" width="1" height="34" fill="#ff0000"/>
<rect x="560" y="300" width="3" height="9" fill="#ff0000"/>
<rect x="561" y="301" width="1" height="7" fill="#ff4500"/>
<rect x="565" y="286" width="1" height="27" fill="#32cd32"/>
<rect x="564" y="300" width="3" height="13" fill="#32cd32"/>
<rect x="569" y="302" width="1" height="18" fill="#ff0000"/>
<rect x="568" y="309" width="3" height="4" fill="#ff0000"/>
<rect x="569" y="310" width="1" height="2" fill="#ff4500"/>
<rect x="573" y="304" width="1" height="10" fill="#32cd32"/>
<rect x="572" y="309" width="3" height="1" fill="#32cd32"/>
<rect x="577" y="301" width="1" height="35" fill="#32cd32"/>
<rect x="576" y="309" width="3" height="2" fill="#32cd32"/>
<rect x="581" y="311" width="1" height="30" fill="#32cd32"/>
<rect x="580" y="311" width="3" height="19" fill="#32cd32"/>
<rect x="585" y="314" width="1" height="29" fill="#ff0000"/>
<rect x="584" y="316" width="3" height="14" fill="#ff0000"/>
<rect x="585" y="317" width="1" height="12" fill="#ff4500"/>
<rect x="589" y="297" width="1" height="39" fill="#32cd32"/>
<rect x="588" y="316" width="3" height="18" fill="#32cd32"/>
<rect x="593" y="322" width="1" height="20" fill="#32cd32"/>
<rect x="592" y="334" width="3" height="5" fill="#32cd32"/>
<rect x="597" y="330" width="1" height="8" fill="#ff0000"/>
<rect x="596" y="331" width="3" height="7" fill="#ff0000"/>
<rect x="597" y="332" width="1" height="5" fill="#ff4500"/>
<rect x="601" y="304" width="1" height="33" fill="#ff0000"/>
<rect x="600" y="309" width="3" height="21" fill="#ff0000"/>
<rect x="601" y="310" width="1" height="19" fill="#ff4500"/>
<rect x="605" y="293" width="1" height="40" fill="#ff0000"/>
<rect x="604" y="297" width="3" height="13" fill="#ff0000"/>
<rect x="605" y="298" width="1" height="11" fill="#ff4500"/>
<rect x="609" y="291" width="1" height="34" fill="#32cd32"/>
<rect x="608" y="297" width="3" height="13" fill="#32cd32"/>
<rect x="613" y="262" width="1" height="69" fill="#ff0000"/>
<rect x="612" y="265" width="3" height="45" fill="#ff0000"/>
<rect x="613" y="266" width="1" height="43" fill="#ff4500"/>
<rect x="617" y="252" width="1" height="34" fill="#32cd32"/>
<rect x="616" y="265" width="3" height="13" fill="#32cd32"/>
<rect x="621" y="278" width="1" height="7" fill="#32cd32"/>
<rect x="620" y="278" width="3" height="5" fill="#32cd32"/>
<rect x="625" y="259" width="1" height="23" fill="#ff0000"/>
<rect x="624" y="273" width="3" height="3" fill="#ff0000"/>
<rect x="625" y="274" width="1" height="1" fill="#ff4500"/>
<rect x="629" y="261" width="1" height="24" fill="#32cd32"/>
<rect x="628" y="273" width="3" height="9" fill="#32cd32"/>
<rect x="633" y="257" width="1" height="40" fill="#32cd32"/>
<rect x="632" y="281" width="3" height="10" fill="#32cd32"/>
<rect x="637" y="282" width="1" height="17" fill="#32cd32"/>
<rect x="636" y="290" width="3" height="4" fill="#32cd32"/>
<rect x="641" y="291" width="1" height="50" fill="#32cd32"/>
<rect x="640" y="293" width="3" height="45" fill="#32cd32"/>
<rect x="645" y="335" width="1" height="7" fill="#32cd32"/>
<rect x="644" y="337" width="3" height="3" fill="#32cd32"/>
<rect x="649" y="332" width="1" height="18" fill="#32cd32"/>
<rect x="648" y="341" width="3" height="4" fill="#32cd32"/>
<rect x="653" y="344" width="1" height="23" fill="#32cd32"/>
<rect x="652" y="344" width="3" height="17" fill="#32cd32"/>
<rect x="657" y="344" width="1" height="26" fill="#ff0000"/>
<rect x="656" y="351" width="3" height="10" fill="#ff0000"/>
<rect x="657" y="352" width="1" height="8" fill="#ff4500"/>
<rect x="661" y="341" width="1" height="17" fill="#32cd32"/>
<rect x="660" y="351" width="3" height="2" fill="#32cd32"/>
<rect x="665" y="314" width="1" height="43" fill="#ff0000"/>
<rect x="664" y="316" width="3" height="37" fill="#ff0000"/>
<rect x="665" y="317" width="1" height="35" fill="#ff4500"/>
<rect x="669" y="315" width="1" height="5" fill="#ff0000"/>
<rect x="668" y="316" width="3" height="2" fill="#ff0000"/>
<rect x="673" y="314" width="1" height="20" fill="#32cd32"/>
<rect x="672" y="318" width="3" height="12" fill="#32cd32"/>
<rect x="677" y="324" width="1" height="43" fill="#32cd32"/>
<rect x="676" y="329" width="3" height="37" fill="#32cd32"/>
<rect x="681" y="355" width="1" height="22" fill="#32cd32"/>
<rect x="680" y="364" width="3" height="8" fill="#32cd32"/>
<rect x="685" y="348" width="1" height="45" fill="#32cd32"/>
<rect x="684" y="371" width="3" height="6" fill="#32cd32"/>
<rect x="689" y="376" width="1" height="18" fill="#32cd32"/>
<rect x="688" y="376" width="3" height="2" fill="#32cd32"/>
<rect x="693" y="369" width="1" height="10" fill="#ff0000"/>
<rect x="692" y="374" width="3" height="4" fill="#ff0000"/>
<rect x="693" y="375" width="1" height="2" fill="#ff4500"/>
<rect x="697" y="347" width="1" height="30" fill="#ff0000"/>
<rect x="696" y="354" width="3" height="23" fill="#ff0000"/>
<rect x="697" y="355" width="1" height="21" fill="#ff4500"/>
<rect x="701" y="335" width="1" height="22" fill="#ff0000"/>
<rect x="700" y="345" width="3" height="10" fill="#ff0000"/>
<rect x="701" y="346" width="1" height="8" fill="#ff4500"/>
<rect x="705" y="339" width="1" height="19" fill="#ff0000"/>
<rect x="704" y="340" width="3" height="6" fill="#ff0000"/>
<rect x="705" y="341" width="1" height="4" fill="#ff4500"/>
<rect x="709" y="327" width="1" height="20" fill="#ff0000"/>
<rect x="708" y="336" width="3" height="5" fill="#ff0000"/>
<rect x="709" y="337" width="1" height="3" fill="#ff4500"/>
<rect x="713" y="314" width="1" height="39" fill="#ff0000"/>
<rect x="712" y="318" width="3" height="19" fill="#ff0000"/>
<rect x="713" y="319" width="1" height="17" fill="#ff4500"/>
<rect x="717" y="314" width="1" height="8" fill="#ff0000"/>
<rect x="716" y="318" width="3" height="1" fill="#ff0000"/>
<rect x="721" y="309" width="1" height="16" fill="#32cd32"/>
<rect x="720" y="315" width="3" height="4" fill="#32cd32"/>
<rect x="725" y="289" width="1" height="30" fill="#ff0000"/>
<rect x="724" y="315" width="3" height="4" fill="#ff0000"/>
<rect x="725" y="316" width="1" height="2" fill="#ff4500"/>
<rect x="729" y="282" width="1" height="37" fill="#ff0000"/>
<rect x="728" y="286" width="3" height="29" fill="#ff0000"/>
<rect x="729" y="287" width="1" height="27" fill="#ff4500"/>
<rect x="733" y="274" width="1" height="22" fill="#ff0000"/>
<rect x="732" y="282" width="3" height="5" fill="#ff0000"/>
<rect x="733" y="283" width="1" height="3" fill="#ff4500"/>
<rect x="737" y="252" width="1" height="31" fill="#ff0000"/>
<rect x="736" y="267" width="3" height="16" fill="#ff0000"/>
<rect x="737" y="268" width="1" height="14" fill="#ff4500"/>
<rect x="741" y="258" width="1" height="11" fill="#ff0000"/>
<rect x="740" y="263" width="3" height="5" fill="#ff0000"/>
<rect x="741" y="264" width="1" height="3" fill="#ff4500"/>
<rect x="745" y="265" width="1" height="19" fill="#32cd32"/>
<rect x="744" y="269" width="3" height="9" fill="#32cd32"/>
<rect x="749" y="266" width="1" height="28" fill="#32cd32"/>
<rect x="748" y="277" width="3" height="11" fill="#32cd32"/>
<rect x="753" y="284" width="1" height="30" fill="#32cd32"/>
<rect x="752" y="287" width="3" height="18" fill="#32cd32"/>
<rect x="757" y="291" width="1" height="21" fill="#ff0000"/>
<rect x="756" y="299" width="3" height="6" fill="#ff0000"/>
<rect x="757" y="300" width="1" height="4" fill="#ff4500"/>
<rect x="761" y="285" width="1" height="20" fill="#32cd32"/>
<rect x="760" y="299" width="3" height="4" fill="#32cd32"/>
<rect x="765" y="301" width="1" height="8" fill="#32cd32"/>
<rect x="764" y="302" width="3" height="5" fill="#32cd32"/>
<rect x="769" y="305" width="1" height="28" fill="#32cd32"/>
<rect x="768" y="307" width="3" height="3" fill="#32cd32"/>
<rect x="773" y="288" width="1" height="28" fill="#ff0000"/>
<rect x="772" y="301" width="3" height="9" fill="#ff0000"/>
<rect x="773" y="302" width="1" height="7" fill="#ff4500"/>
<rect x="777" y="296" width="1" height="20" fill="#32cd32"/>
<rect x="776" y="301" width="3" height="8" fill="#32cd32"/>
<rect x="781" y="303" width="1" height="41" fill="#32cd32"/>
<rect x="780" y="308" width="3" height="29" fill="#32cd32"/>
<rect x="785" y="321" width="1" height="35" fill="#32cd32"/>
<rect x="784" y="336" width="3" height="18" fill="#32cd32"/>
<rect x="789" y="351" width="1" height="8" fill="#32cd32"/>
<rect x="788" y="353" width="3" height="2" fill="#32cd32"/>
<rect x="793" y="351" width="1" height="22" fill="#ff0000"/>
<rect x="792" y="356" width="3" height="1" fill="#ff0000"/>
<rect x="797" y="344" width="1" height="20" fill="#32cd32"/>
<rect x="796" y="356" width="3" height="3" fill="#32cd32"/>
<rect x="801" y="346" width="1" height="17" fill="#ff0000"/>
<rect x="800" y="350" width="3" height="9" fill="#ff0000"/>
<rect x="801" y="351" width="1" height="7" fill="#ff4500"/>
<rect x="805" y="340" width="1" height="42" fill="#32cd32"/>
<rect x="804" y="350" width="3" height="3" fill="#32cd32"/>
<rect x="809" y="344" width="1" height="29" fill="#32cd32"/>
<rect x="808" y="352" width="3" height="13" fill="#32cd32"/>
<rect x="813" y="357" width="1" height="9" fill="#ff0000"/>
<rect x="812" y="363" width="3" height="2" fill="#ff0000"/>
<rect x="817" y="357" width="1" height="25" fill="#32cd32"/>
<rect x="816" y="360" width="3" height="11" fill="#32cd32"/>
<rect x="821" y="367" width="1" height="24" fill="#32cd32"/>
<rect x="820" y="371" width="3" height="13" fill="#32cd32"/>
<rect x="825" y="378" width="1" height="46" fill="#32cd32"/>
<rect x="824" y="384" width="3" height="40" fill="#32cd32"/>
<rect x="829" y="421" width="1" height="28" fill="#32cd32"/>
<rect x="828" y="423" width="3" height="20" fill="#32cd32"/>
<rect x="833" y="425" width="1" height="27" fill="#ff0000"/>
<rect x="832" y="431" width="3" height="12" fill="#ff0000"/>
<rect x="833" y="432" width="1" height="10" fill="#ff4500"/>
<rect x="837" y="428" width="1" height="6" fill="#ff0000"/>
<rect x="836" y="431" width="3" height="1" fill="#ff0000"/>
<rect x="841" y="407" width="1" height="29" fill="#ff0000"/>
<rect x="840" y="417" width="3" height="9" fill="#ff0000"/>
<rect x="841" y="418" width="1" height="7" fill="#ff4500"/>
<rect x="845" y="413" width="1" height="28" fill="#32cd32"/>
<rect x="844" y="418" width="3" height="7" fill="#32cd32"/>
<rect x="849" y="422" width="1" height="49" fill="#32cd32"/>
<rect x="848" y="424" width="3" height="38" fill="#32cd32"/>
<rect x="853" y="446" width="1" height="17" fill="#ff0000"/>
<rect x="852" y="452" width="3" height="11" fill="#ff0000"/>
<rect x="853" y="453" width="1" height="9" fill="#ff4500"/>
<rect x="857" y="438" width="1" height="26" fill="#ff0000"/>
<rect x="856" y="445" width="3" height="8" fill="#ff0000"/>
<rect x="857" y="446" width="1" height="6" fill="#ff4500"/>
<rect x="861" y="442" width="1" height="12" fill="#ff0000"/>
<rect x="860" y="443" width="3" height="4" fill="#ff0000"/>
<rect x="861" y="444" width="1" height="2" fill="#ff4500"/>
<rect x="865" y="437" width="1" height="21" fill="#ff0000"/>
<rect x="864" y="445" width="3" height="3" fill="#ff0000"/>
<rect x="865" y="446" width="1" height="1" fill="#ff4500"/>
<rect x="869" y="445" width="1" height="24" fill="#32cd32"/>
<rect x="868" y="445" width="3" height="20" fill="#32cd32"/>
<rect x="873" y="442" width="1" height="32" fill="#ff0000"/>
<rect x="872" y="448" width="3" height="17" fill="#ff0000"/>
<rect x="873" y="449" width="1" height="15" fill="#ff4500"/>
<rect x="877" y="416" width="1" height="33" fill="#ff0000"/>
<rect x="876" y="435" width="3" height="14" fill="#ff0000"/>
<rect x="877" y="436" width="1" height="12" fill="#ff4500"/>
<rect x="881" y="419" width="1" height="20" fill="#ff0000"/>
<rect x="880" y="433" width="3" height="3" fill="#ff0000"/>
<rect x="881" y="434" width="1" height="1" fill="#ff4500"/>
<rect x="885" y="425" width="1" height="11" fill="#ff0000"/>
<rect x="884" y="426" width="3" height="8" fill="#ff0000"/>
<rect x="885" y="427" width="1" height="6" fill="#ff4500"/>
<rect x="889" y="422" width="1" height="25" fill="#ff0000"/>
<rect x="888" y="424" width="3" height="7" fill="#ff0000"/>
<rect x="889" y="425" width="1" height="5" fill="#ff4500"/>
<rect x="893" y="390" width="1" height="35" fill="#ff0000"/>
<rect x="892" y="411" width="3" height="14" fill="#ff0000"/>
<rect x="893" y="412" width="1" height="12" fill="#ff4500"/>
<rect x="897" y="400" width="1" height="21" fill="#ff0000"/>
<rect x="896" y="405" width="3" height="7" fill="#ff0000"/>
<rect x="897" y="406" width="1" height="5" fill="#ff4500"/>
<rect x="901" y="391" width="1" height="22" fill="#32cd32"/>
<rect x="900" y="405" width="3" height="2" fill="#32cd32"/>
<rect x="905" y="398" width="1" height="21" fill="#32cd32"/>
<rect x="904" y="406" width="3" height="6" fill="#32cd32"/>
<rect x="909" y="407" width="1" height="11" fill="#ff0000"/>
<rect x="908" y="408" width="3" height="4" fill="#ff0000"/>
<rect x="909" y="409" width="1" height="2" fill="#ff4500"/>
<rect x="913" y="392" width="1" height="44" fill="#32cd32"/>
<rect x="912" y="404" width="3" height="21" fill="#32cd32"/>
<rect x="917" y="415" width="1" height="24" fill="#32cd32"/>
<rect x="916" y="424" width="3" height="12" fill="#32cd32"/>
<rect x="921" y="429" width="1" height="10" fill="#ff0000"/>
<rect x="920" y="432" width="3" height="4" fill="#ff0000"/>
<rect x="921" y="433" width="1" height="2" fill="#ff4500"/>
</g>
<rect x="0" y="310" width="6" height="6" fill="#ff0000"/>
<rect x="2" y="312" width="2" height="2" fill="#fff"/>
<rect x="1157" y="310" width="6" height="6" fill="#ff0000"/>
<rect x="1159" y="312" width="2" height="2" fill="#fff"/>
<rect x="0" y="368" width="6" height="6" fill="#00ff00"/>
<rect x="2" y="370" width="2" height="2" fill="#fff"/>
<rect x="1157" y="368" width="6" height="6" fill="#00ff00"/>
<rect x="1159" y="370" width="2" height="2" fill="#fff"/>
<rect x="0" y="524" width="3" height="9" fill="#c0c0c0"/>
<rect x="4" y="524" width="3" height="13" fill="#c0c0c0"/>
<rect x="8" y="524" width="3" height="17" fill="#c0c0c0"/>
<rect x="12" y="524" width="3" height="21" fill="#c0c0c0"/>
<rect x="16" y="524" width="3" height="23" fill="#c0c0c0"/>
<rect x="20" y="524" width="3" height="22" fill="#c0c0c0"/>
<rect x="24" y="524" width="3" height="22" fill="#c0c0c0"/>
<rect x="28" y="524" width="3" height="19" fill="#c0c0c0"/>
<rect x="32" y="524" width="3" height="14" fill="#c0c0c0"/>
<rect x="36" y="524" width="3" height="11" fill="#c0c0c0"/>
<rect x="40" y="524" width="3" height="8" fill="#c0c0c0"/>
<rect x="44" y="524" width="3" height="6" fill="#c0c0c0"/>
<rect x="48" y="524" width="3" height="5" fill="#c0c0c0"/>
<rect x="52" y="524" width="3" height="3" fill="#c0c0c0"/>
<rect x="56" y="524" width="3" height="7" fill="#c0c0c0"/>
<rect x="60" y="524" width="3" height="7" fill="#c0c0c0"/>
<rect x="64" y="524" width="3" height="5" fill="#c0c0c0"/>
<rect x="68" y="524" width="3" height="4" fill="#c0c0c0"/>
<rect x="72" y="524" width="3" height="2" fill="#c0c0c0"/>
<rect x="76" y="522" width="3" height="2" fill="#c0c0c0"/>
<rect x="80" y="522" width="3" height="2" fill="#c0c0c0"/>
<rect x="84" y="517" width="3" height="7" fill="#c0c0c0"/>
<rect x="88" y="517" width="3" height="7" fill="#c0c0c0"/>
<rect x="92" y="520" width="3" height="4" fill="#c0c0c0"/>
<rect x="96" y="524" width="3" height="1" fill="#c0c0c0"/>
<rect x="100" y="524" width="3" height="2" fill="#c0c0c0"/>
<rect x="104" y="524" width="3" height="4" fill="#c0c0c0"/>
<rect x="108" y="524" width="3" height="7" fill="#c0c0c0"/>
<rect x="112" y="524" width="3" height="16" fill="#c0c0c0"/>
<rect x="116" y="524" width="3" height="22" fill="#c0c0c0"/>
<rect x="120" y="524" width="3" height="29" fill="#c0c0c0"/>
<rect x="124" y="524" width="3" height="32" fill="#c0c0c0"/>
<rect x="128" y="524" width="3" height="35" fill="#c0c0c0"/>
<rect x="132" y="524" width="3" height="33" fill="#c0c0c0"/>
<rect x="136" y="524" width="3" height="32" fill="#c0c0c0"/>
<rect x="140" y="524" width="3" height="31" fill="#c0c0c0"/>
<rect x="144" y="524" width="3" height="30" fill="#c0c0c0"/>
<rect x="148" y="524" width="3" height="31" fill="#c0c0c0"/>
<rect x="152" y="524" width="3" height="31" fill="#c0c0c0"/>
<rect x="156" y="524" width="3" height="31" fill="#c0c0c0"/>
<rect x="160" y="524" width="3" height="30" fill="#c0c0c0"/>
<rect x="164" y="524" width="3" height="28" fill="#c0c0c0"/>
<rect x="168" y="524" width="3" height="26" fill="#c0c0c0"/>
<rect x="172" y="524" width="3" height="27" fill="#c0c0c0"/>
<rect x="176" y="524" width="3" height="30" fill="#c0c0c0"/>
<rect x="180" y="524" width="3" height="34" fill="#c0c0c0"/>
<rect x="184" y="524" width="3" height="36" fill="#c0c0c0"/>
<rect x="188" y="524" width="3" height="37" fill="#c0c0c0"/>
<rect x="192" y="524" width="3" height="39" fill="#c0c0c0"/>
<rect x="196" y="524" width="3" height="41" fill="#c0c0c0"/>
<rect x="200" y="524" width="3" height="43" fill="#c0c0c0"/>
<rect x="204" y="524" width="3" height="42" fill="#c0c0c0"/>
<rect x="208" y="524" width="3" height="40" fill="#c0c0c0"/>
<rect x="212" y="524" width="3" height="38" fill="#c0c0c0"/>
<rect x="216" y="524" width="3" height="36" fill="#c0c0c0"/>
<rect x="220" y="524" width="3" height="31" fill="#c0c0c0"/>
<rect x="224" y="524" width="3" height="25" fill="#c0c0c0"/>
<rect x="228" y="524" width="3" height="19" fill="#c0c0c0"/>
<rect x="232" y="524" width="3" height="15" fill="#c0c0c0"/>
<rect x="236" y="524" width="3" height="11" fill="#c0c0c0"/>
<rect x="240" y="524" width="3" height="8" fill="#c0c0c0"/>
<rect x="244" y="524" width="3" height="3" fill="#c0c0c0"/>
<rect x="248" y="521" width="3" height="3" fill="#c0c0c0"/>
<rect x="252" y="518" width="3" height="6" fill="#c0c0c0"/>
<rect x="256" y="515" width="3" height="9" fill="#c0c0c0"/>
<rect x="260" y="512" width="3" height="12" fill="#c0c0c0"/>
<rect x="264" y="508" width="3" height="16" fill="#c0c0c0"/>
<rect x="268" y="504" width="3" height="20" fill="#c0c0c0"/>
<rect x="272" y="502" width="3" height="22" fill="#c0c0c0"/>
<rect x="276" y="502" width="3" height="22" fill="#c0c0c0"/>
<rect x="280" y="499" width="3" height="25" fill="#c0c0c0"/>
<rect x="284" y="496" width="3" height="28" fill="#c0c0c0"/>
<rect x="288" y="494" width="3" height="30" fill="#c0c0c0"/>
<rect x="292" y="493" width="3" height="31" fill="#c0c0c0"/>
<rect x="296" y="492" width="3" height="32" fill="#c0c0c0"/>
<rect x="300" y="491" width="3" height="33" fill="#c0c0c0"/>
<rect x="304" y="495" width="3" height="29" fill="#c0c0c0"/>
<rect x="308" y="498" width="3" height="26" fill="#c0c0c0"/>
<rect x="312" y="499" width="3" height="25" fill="#c0c0c0"/>
<rect x="316" y="502" width="3" height="22" fill="#c0c0c0"/>
<rect x="320" y="506" width="3" height="18" fill="#c0c0c0"/>
<rect x="324" y="506" width="3" height="18" fill="#c0c0c0"/>
<rect x="328" y="502" width="3" height="22" fill="#c0c0c0"/>
<rect x="332" y="498" width="3" height="26" fill="#c0c0c0"/>
<rect x="336" y="495" width="3" height="29" fill="#c0c0c0"/>
<rect x="340" y="494" width="3" height="30" fill="#c0c0c0"/>
<rect x="344" y="497" width="3" height="27" fill="#c0c0c0"/>
<rect x="348" y="500" width="3" height="24" fill="#c0c0c0"/>
<rect x="352" y="500" width="3" height="24" fill="#c0c0c0"/>
<rect x="356" y="499" width="3" height="25" fill="#c0c0c0"/>
<rect x="360" y="498" width="3" height="26" fill="#c0c0c0"/>
<rect x="364" y="497" width="3" height="27" fill="#c0c0c0"/>
<rect x="368" y="495" width="3" height="29" fill="#c0c0c0"/>
<rect x="372" y="493" width="3" height="31" fill="#c0c0c0"/>
<rect x="376" y="494" width="3" height="30" fill="#c0c0c0"/>
<rect x="380" y="495" width="3" height="29" fill="#c0c0c0"/>
<rect x="384" y="495" width="3" height="29" fill="#c0c0c0"/>
<rect x="388" y="494" width="3" height="30" fill="#c0c0c0"/>
<rect x="392" y="496" width="3" height="28" fill="#c0c0c0"/>
<rect x="396" y="497" width="3" height="27" fill="#c0c0c0"/>
<rect x="400" y="498" width="3" height="26" fill="#c0c0c0"/>
<rect x="404" y="500" width="3" height="24" fill="#c0c0c0"/>
<rect x="408" y="500" width="3" height="24" fill="#c0c0c0"/>
<rect x="412" y="499" width="3" height="25" fill="#c0c0c0"/>
<rect x="416" y="501" width="3" height="23" fill="#c0c0c0"/>
<rect x="420" y="506" width="3" height="18" fill="#c0c0c0"/>
<rect x="424" y="508" width="3" height="16" fill="#c0c0c0"/>
<rect x="428" y="511" width="3" height="13" fill="#c0c0c0"/>
<rect x="432" y="511" width="3" height="13" fill="#c0c0c0"/>
<rect x="436" y="512" width="3" height="12" fill="#c0c0c0"/>
<rect x="440" y="513" width="3" height="11" fill="#c0c0c0"/>
<rect x="444" y="515" width="3" height="9" fill="#c0c0c0"/>
<rect x="448" y="519" width="3" height="5" fill="#c0c0c0"/>
<rect x="452" y="524" width="3" height="1" fill="#c0c0c0"/>
<rect x="456" y="524" width="3" height="2" fill="#c0c0c0"/>
<rect x="460" y="524" width="3" height="3" fill="#c0c0c0"/>
<rect x="464" y="524" width="3" height="5" fill="#c0c0c0"/>
<rect x="468" y="524" width="3" height="15" fill="#c0c0c0"/>
<rect x="472" y="524" width="3" height="25" fill="#c0c0c0"/>
<rect x="476" y="524" width="3" height="33" fill="#c0c0c0"/>
<rect x="480" y="524" width="3" height="37" fill="#c0c0c0"/>
<rect x="484" y="524" width="3" height="40" fill="#c0c0c0"/>
<rect x="488" y="524" width="3" height="39" fill="#c0c0c0"/>
<rect x="492" y="524" width="3" height="40" fill="#c0c0c0"/>
<rect x="496" y="524" width="3" height="39" fill="#c0c0c0"/>
<rect x="500" y="524" width="3" height="39" fill="#c0c0c0"/>
<rect x="504" y="524" width="3" height="37" fill="#c0c0c0"/>
<rect x="508" y="524" width="3" height="37" fill="#c0c0c0"/>
<rect x="512" y="524" width="3" height="40" fill="#c0c0c0"/>
<rect x="516" y="524" width="3" height="41" fill="#c0c0c0"/>
<rect x="520" y="524" width="3" height="42" fill="#c0c0c0"/>
<rect x="524" y="524" width="3" height="41" fill="#c0c0c0"/>
<rect x="528" y="524" width="3" height="40" fill="#c0c0c0"/>
<rect x="532" y="524" width="3" height="41" fill="#c0c0c0"/>
<rect x="536" y="524" width="3" height="42" fill="#c0c0c0"/>
<rect x="540" y="524" width="3" height="40" fill="#c0c0c0"/>
<rect x="544" y="524" width="3" height="38" fill="#c0c0c0"/>
<rect x="548" y="524" width="3" height="35" fill="#c0c0c0"/>
<rect x="552" y="524" width="3" height="33" fill="#c0c0c0"/>
<rect x="556" y="524" width="3" height="34" fill="#c0c0c0"/>
<rect x="560" y="524" width="3" height="33" fill="#c0c0c0"/>
<rect x="564" y="524" width="3" height="33" fill="#c0c0c0"/>
<rect x="568" y="524" width="3" height="32" fill="#c0c0c0"/>
<rect x="572" y="524" width="3" height="31" fill="#c0c0c0"/>
<rect x="576" y="524" width="3" height="31" fill="#c0c0c0"/>
<rect x="580" y="524" width="3" height="31" fill="#c0c0c0"/>
<rect x="584" y="524" width="3" height="30" fill="#c0c0c0"/>
<rect x="588" y="524" width="3" height="30" fill="#c0c0c0"/>
<rect x="592" y="524" width="3" height="30" fill="#c0c0c0"/>
<rect x="596" y="524" width="3" height="30" fill="#c0c0c0"/>
<rect x="600" y="524" width="3" height="27" fill="#c0c0c0"/>
<rect x="604" y="524" width="3" height="24" fill="#c0c0c0"/>
<rect x="608" y="524" width="3" height="22" fill="#c0c0c0"/>
<rect x="612" y="524" width="3" height="17" fill="#c0c0c0"/>
<rect x="616" y="524" width="3" height="13" fill="#c0c0c0"/>
<rect x="620" y="524" width="3" height="11" fill="#c0c0c0"/>
<rect x="624" y="524" width="3" height="8" fill="#c0c0c0"/>
<rect x="628" y="524" width="3" height="7" fill="#c0c0c0"/>
<rect x="632" y="524" width="3" height="6" fill="#c0c0c0"/>
<rect x="636" y="524" width="3" height="6" fill="#c0c0c0"/>
<rect x="640" y="524" width="3" height="9" fill="#c0c0c0"/>
<rect x="644" y="524" width="3" height="12" fill="#c0c0c0"/>
<rect x="648" y="524" width="3" height="14" fill="#c0c0c0"/>
<rect x="652" y="524" width="3" height="18" fill="#c0c0c0"/>
<rect x="656" y="524" width="3" height="19" fill="#c0c0c0"/>
<rect x="660" y="524" width="3" height="20" fill="#c0c0c0"/>
<rect x="664" y="524" width="3" height="18" fill="#c0c0c0"/>
<rect x="668" y="524" width="3" height="15" fill="#c0c0c0"/>
<rect x="672" y="524" width="3" height="16" fill="#c0c0c0"/>
<rect x="676" y="524" width="3" height="17" fill="#c0c0c0"/>
<rect x="680" y="524" width="3" height="19" fill="#c0c0c0"/>
<rect x="684" y="524" width="3" height="21" fill="#c0c0c0"/>
<rect x="688" y="524" width="3" height="22" fill="#c0c0c0"/>
<rect x="692" y="524" width="3" height="23" fill="#c0c0c0"/>
<rect x="696" y="524" width="3" height="21" fill="#c0c0c0"/>
<rect x="700" y="524" width="3" height="19" fill="#c0c0c0"/>
<rect x="704" y="524" width="3" height="17" fill="#c0c0c0"/>
<rect x="708" y="524" width="3" height="15" fill="#c0c0c0"/>
<rect x="712" y="524" width="3" height="11" fill="#c0c0c0"/>
<rect x="716" y="524" width="3" height="8" fill="#c0c0c0"/>
<rect x="720" y="524" width="3" height="6" fill="#c0c0c0"/>
<rect x="724" y="524" width="3" height="4" fill="#c0c0c0"/>
<rect x="728" y="523" width="3" height="1" fill="#c0c0c0"/>
<rect x="732" y="519" width="3" height="5" fill="#c0c0c0"/>
<rect x="736" y="516" width="3" height="8" fill="#c0c0c0"/>
<rect x="740" y="512" width="3" height="12" fill="#c0c0c0"/>
<rect x="744" y="511" width="3" height="13" fill="#c0c0c0"/>
<rect x="748" y="511" width="3" height="13" fill="#c0c0c0"/>
<rect x="752" y="512" width="3" height="12" fill="#c0c0c0"/>
<rect x="756" y="513" width="3" height="11" fill="#c0c0c0"/>
<rect x="760" y="514" width="3" height="10" fill="#c0c0c0"/>
<rect x="764" y="516" width="3" height="8" fill="#c0c0c0"/>
<rect x="768" y="517" width="3" height="7" fill="#c0c0c0"/>
<rect x="772" y="518" width="3" height="6" fill="#c0c0c0"/>
<rect x="776" y="519" width="3" height="5" fill="#c0c0c0"/>
<rect x="780" y="522" width="3" height="2" fill="#c0c0c0"/>
<rect x="784" y="524" width="3" height="3" fill="#c0c0c0"/>
<rect x="788" y="524" width="3" height="6" fill="#c0c0c0"/>
<rect x="792" y="524" width="3" height="9" fill="#c0c0c0"/>
<rect x="796" y="524" width="3" height="11" fill="#c0c0c0"/>
<rect x="800" y="524" width="3" height="11" fill="#c0c0c0"/>
<rect x="804" y="524" width="3" height="12" fill="#c0c0c0"/>
<rect x="808" y="524" width="3" height="14" fill="#c0c0c0"/>
<rect x="812" y="524" width="3" height="15" fill="#c0c0c0"/>
<rect x="816" y="524" width="3" height="16" fill="#c0c0c0"/>
<rect x="820" y="524" width="3" height="18" fill="#c0c0c0"/>
<rect x="824" y="524" width="3" height="22" fill="#c0c0c0"/>
<rect x="828" y="524" width="3" height="27" fill="#c0c0c0"/>
<rect x="832" y="524" width="3" height="30" fill="#c0c0c0"/>
<rect x="836" y="524" width="3" height="31" fill="#c0c0c0"/>
<rect x="840" y="524" width="3" height="31" fill="#c0c0c0"/>
<rect x="844" y="524" width="3" height="31" fill="#c0c0c0"/>
<rect x="848" y="524" width="3" height="34" fill="#c0c0c0"/>
<rect x="852" y="524" width="3" height="35" fill="#c0c0c0"/>
<rect x="856" y="524" width="3" height="35" fill="#c0c0c0"/>
<rect x="860" y="524" width="3" height="34" fill="#c0c0c0"/>
<rect x="864" y="524" width="3" height="33" fill="#c0c0c0"/>
<rect x="868" y="524" width="3" height="33" fill="#c0c0c0"/>
<rect x="872" y="524" width="3" height="33" fill="#c0c0c0"/>
<rect x="876" y="524" width="3" height="31" fill="#c0c0c0"/>
<rect x="880" y="524" width="3" height="28" fill="#c0c0c0"/>
<rect x="884" y="524" width="3" height="26" fill="#c0c0c0"/>
<rect x="888" y="524" width="3" height="23" fill="#c0c0c0"/>
<rect x="892" y="524" width="3" height="20" fill="#c0c0c0"/>
<rect x="896" y="524" width="3" height="16" fill="#c0c0c0"/>
<rect x="900" y="524" width="3" height="14" fill="#c0c0c0"/>
<rect x="904" y="524" width="3" height="12" fill="#c0c0c0"/>
<rect x="908" y="524" width="3" height="10" fill="#c0c0c0"/>
<rect x="912" y="524" width="3" height="10" fill="#c0c0c0"/>
<rect x="916" y="524" width="3" height="11" fill="#c0c0c0"/>
<rect x="920" y="524" width="3" height="11" fill="#c0c0c0"/>
<path d="M0 529h1v1h-1zM1 529h1v1h-1zM2 529h1v1h-1zM3 529h1v1h-1zM4 530h1v1h-1zM5 530h1v1h-1zM6 530h1v1h-1zM7 530h1v1h-1zM8 531h1v1h-1zM9 531h1v1h-1zM10 532h1v1h-1zM11 532h1v1h-1zM12 532h1v1h-1zM13 533h1v1h-1zM14 533h1v1h-1zM15 534h1v1h-1zM16 534h1v1h-1zM17 535h1v1h-1zM18 535h1v1h-1zM19 535h1v1h-1zM20 536h1v1h-1zM21 536h1v1h-1zM22 537h1v1h-1zM23 537h1v1h-1zM24 537h1v1h-1zM25 538h1v1h-1zM26 538h1v1h-1zM27 539h1v1h-1zM28 539h1v1h-1zM29 540h1v1h-1zM30 540h1v1h-1zM31 540h1v1h-1zM32 541h1v1h-1zM33 541h1v1h-1zM34 541h1v1h-1zM35 541h1v1h-1zM36 541h1v1h-1zM37 541h1v1h-1zM38 541h1v1h-1zM39 541h1v1h-1zM40 541h1v1h-1zM41 540h1v1h-1zM42 540h1v1h-1zM43 540h1v1h-1zM44 539h1v1h-1zM45 539h1v1h-1zM46 539h1v1h-1zM47 538h1v1h-1zM48 538h1v1h-1zM49 537h1v1h-1zM50 537h1v1h-1zM51 537h1v1h-1zM52 536h1v1h-1zM53 536h1v1h-1zM54 535h1v1h-1zM55 535h1v1h-1zM56 534h1v1h-1zM57 534h1v1h-1zM58 533h1v1h-1zM59 533h1v1h-1zM60 532h1v1h-1zM61 532h1v1h-1zM62 532h1v1h-1zM63 532h1v1h-1zM64 531h1v1h-1zM65 531h1v1h-1zM66 531h1v1h-1zM67 530h1v1h-1zM68 530h1v1h-1zM69 530h1v1h-1zM70 530h1v1h-1zM71 529h1v1h-1zM72 529h1v1h-1zM73 529h1v1h-1zM74 528h1v1h-1zM75 528h1v1h-1zM76 528h1v1h-1zM77 527h1v1h-1zM78 527h1v1h-1zM79 527h1v1h-1zM80 526h1v1h-1zM81 526h1v1h-1zM82 526h1v1h-1zM83 525h1v1h-1zM84 525h1v1h-1zM85 525h1v1h-1zM86 524h1v1h-1zM87 524h1v1h-1zM88 524h1v1h-1zM89 524h1v1h-1zM90 523h1v1h-1zM91 523h1v1h-1zM92 523h1v1h-1zM93 523h1v1h-1zM94 522h1v1h-1zM95 522h1v1h-1zM96 522h1v1h-1zM97 522h1v1h-1zM98 522h1v1h-1zM99 522h1v1h-1zM100 522h1v1h-1zM101 522h1v1h-1zM102 522h1v1h-1zM103 522h1v1h-1zM104 522h1v1h-1zM105 522h1v1h-1zM106 522h1v1h-1zM107 522h1v1h-1zM108 522h1v1h-1zM109 523h1v1h-1zM110 523h1v1h-1zM111 524h1v1h-1zM112 524h1v1h-1zM113 524h1v1h-1zM114 525h1v1h-1zM115 526h1v1h-1zM116 527h1v1h-1zM117 528h1v1h-1zM118 529h1v1h-1zM119 529h1v1h-1zM120 530h1v1h-1zM121 531h1v1h-1zM122 532h1v1h-1zM123 533h1v1h-1zM124 534h1v1h-1zM125 535h1v1h-1zM126 536h1v1h-1zM127 537h1v1h-1zM128 538h1v1h-1zM129 539h1v1h-1zM130 540h1v1h-1zM131 541h1v1h-1zM132 542h1v1h-1zM133 543h1v1h-1zM134 544h1v1h-1zM135 544h1v1h-1zM136 545h1v1h-1zM137 546h1v1h-1zM138 547h1v1h-1zM139 548h1v1h-1zM140 549h1v1h-1zM141 549h1v1h-1zM142 550h1v1h-1zM143 550h1v1h-1zM144 551h1v1h-1zM145 551h1v1h-1zM146 552h1v1h-1zM147 553h1v1h-1zM148 553h1v1h-1zM149 554h1v1h-1zM150 554h1v1h-1zM151 554h1v1h-1zM152 554h1v1h-1zM153 555h1v1h-1zM154 555h1v1h-1zM155 555h1v1h-1zM156 555h1v1h-1zM157 555h1v1h-1zM158 554h1v1h-1zM159 554h1v1h-1zM160 554h1v1h-1zM161 554h1v1h-1zM162 554h1v1h-1zM163 554h1v1h-1zM164 554h1v1h-1zM165 554h1v1h-1zM166 554h1v1h-1zM167 553h1v1h-1zM168 553h1v1h-1zM169 553h1v1h-1zM170 553h1v1h-1zM171 553h1v1h-1zM172 553h1v1h-1zM173 553h1v1h-1zM174 553h1v1h-1zM175 553h1v1h-1zM176 553h1v1h-1zM177 553h1v1h-1zM178 553h1v1h-1zM179 553h1v1h-1zM180 553h1v1h-1zM181 553h1v1h-1zM182 553h1v1h-1zM183 553h1v1h-1zM184 553h1v1h-1zM185 553h1v1h-1zM186 553h1v1h-1zM187 553h1v1h-1zM188 554h1v1h-1zM189 554h1v1h-1zM190 554h1v1h-1zM191 554h1v1h-1zM192 554h1v1h-1zM193 555h1v1h-1zM194 555h1v1h-1zM195 555h1v1h-1zM196 555h1v1h-1zM197 556h1v1h-1zM198 556h1v1h-1zM199 557h1v1h-1zM200 557h1v1h-1zM201 558h1v1h-1zM202 558h1v1h-1zM203 559h1v1h-1zM204 559h1v1h-1zM205 560h1v1h-1zM206 560h1v1h-1zM207 560h1v1h-1zM208 561h1v1h-1zM209 561h1v1h-1zM210 561h1v1h-1zM211 561h1v1h-1zM212 562h1v1h-1zM213 562h1v1h-1zM214 562h1v1h-1zM215 562h1v1h-1zM216 562h1v1h-1zM217 562h1v1h-1zM218 562h1v1h-1zM219 562h1v1h-1zM220 562h1v1h-1zM221 562h1v1h-1zM222 561h1v1h-1zM223 561h1v1h-1zM224 560h1v1h-1zM225 560h1v1h-1zM226 559h1v1h-1zM227 559h1v1h-1zM228 558h1v1h-1zM229 558h1v1h-1zM230 557h1v1h-1zM231 556h1v1h-1zM232 555h1v1h-1zM233 555h1v1h-1zM234 554h1v1h-1zM235 553h1v1h-1zM236 553h1v1h-1zM237 552h1v1h-1zM238 551h1v1h-1zM239 549h1v2h-1zM240 548h1v1h-1zM241 547h1v1h-1zM242 546h1v1h-1zM243 545h1v1h-1zM244 544h1v1h-1zM245 543h1v1h-1zM246 542h1v1h-1zM247 540h1v2h-1zM248 539h1v1h-1zM249 538h1v1h-1zM250 536h1v2h-1zM251 535h1v1h-1zM252 534h1v1h-1zM253 532h1v2h-1zM254 531h1v1h-1zM255 531h1v1h-1zM256 530h1v1h-1zM257 529h1v1h-1zM258 528h1v1h-1zM259 527h1v1h-1zM260 526h1v1h-1zM261 526h1v1h-1zM262 525h1v1h-1zM263 524h1v1h-1zM264 523h1v1h-1zM265 522h1v1h-1zM266 521h1v1h-1zM267 520h1v1h-1zM268 519h1v1h-1zM269 518h1v1h-1zM270 517h1v1h-1zM271 516h1v1h-1zM272 515h1v1h-1zM273 514h1v1h-1zM274 513h1v1h-1zM275 513h1v1h-1zM276 512h1v1h-1zM277 511h1v1h-1zM278 510h1v1h-1zM279 509h1v1h-1zM280 509h1v1h-1zM281 508h1v1h-1zM282 507h1v1h-1zM283 506h1v1h-1zM284 506h1v1h-1zM285 505h1v1h-1zM286 504h1v1h-1zM287 504h1v1h-1zM288 503h1v1h-1zM289 503h1v1h-1zM290 502h1v1h-1zM291 501h1v1h-1zM292 501h1v1h-1zM293 500h1v1h-1zM294 500h1v1h-1zM295 499h1v1h-1zM296 499h1v1h-1zM297 498h1v1h-1zM298 498h1v1h-1zM299 497h1v1h-1zM300 497h1v1h-1zM301 497h1v1h-1zM302 496h1v1h-1zM303 496h1v1h-1zM304 496h1v1h-1zM305 496h1v1h-1zM306 496h1v1h-1zM307 496h1v1h-1zM308 495h1v1h-1zM309 495h1v1h-1zM310 495h1v1h-1zM311 495h1v1h-1zM312 495h1v1h-1zM313 495h1v1h-1zM314 495h1v1h-1zM315 496h1v1h-1zM316 496h1v1h-1zM317 496h1v1h-1zM318 496h1v1h-1zM319 497h1v1h-1zM320 497h1v1h-1zM321 497h1v1h-1zM322 497h1v1h-1zM323 498h1v1h-1zM324 498h1v1h-1zM325 498h1v1h-1zM326 498h1v1h-1zM327 498h1v1h-1zM328 499h1v1h-1zM329 499h1v1h-1zM330 499h1v1h-1zM331 499h1v1h-1zM332 500h1v1h-1zM333 500h1v1h-1zM334 500h1v1h-1zM335 500h1v1h-1zM336 500h1v1h-1zM337 500h1v1h-1zM338 500h1v1h-1zM339 500h1v1h-1zM340 500h1v1h-1zM341 500h1v1h-1zM342 500h1v1h-1zM343 500h1v1h-1zM344 500h1v1h-1zM345 500h1v1h-1zM346 500h1v1h-1zM347 500h1v1h-1zM348 500h1v1h-1zM349 500h1v1h-1zM350 500h1v1h-1zM351 500h1v1h-1zM352 500h1v1h-1zM353 500h1v1h-1zM354 500h1v1h-1zM355 499h1v1h-1zM356 499h1v1h-1zM357 499h1v1h-1zM358 499h1v1h-1zM359 498h1v1h-1zM360 498h1v1h-1zM361 498h1v1h-1zM362 498h1v1h-1zM363 498h1v1h-1zM364 498h1v1h-1zM365 498h1v1h-1zM366 498h1v1h-1zM367 498h1v1h-1zM368 498h1v1h-1zM369 498h1v1h-1zM370 498h1v1h-1zM371 497h1v1h-1zM372 497h1v1h-1zM373 497h1v1h-1zM374 497h1v1h-1zM375 497h1v1h-1zM376 497h1v1h-1zM377 497h1v1h-1zM378 497h1v1h-1zM379 497h1v1h-1zM380 497h1v1h-1zM381 496h1v1h-1zM382 496h1v1h-1zM383 496h1v1h-1zM384 496h1v1h-1zM385 496h1v1h-1zM386 496h1v1h-1zM387 496h1v1h-1zM388 496h1v1h-1zM389 496h1v1h-1zM390 496h1v1h-1zM391 495h1v1h-1zM392 495h1v1h-1zM393 495h1v1h-1zM394 495h1v1h-1zM395 495h1v1h-1zM396 495h1v1h-1zM397 495h1v1h-1zM398 495h1v1h-1zM399 495h1v1h-1zM400 495h1v1h-1zM401 495h1v1h-1zM402 495h1v1h-1zM403 496h1v1h-1zM404 496h1v1h-1zM405 496h1v1h-1zM406 496h1v1h-1zM407 496h1v1h-1zM408 496h1v1h-1zM409 497h1v1h-1zM410 497h1v1h-1zM411 497h1v1h-1zM412 497h1v1h-1zM413 497h1v1h-1zM414 497h1v1h-1zM415 498h1v1h-1zM416 498h1v1h-1zM417 498h1v1h-1zM418 498h1v1h-1zM419 499h1v1h-1zM420 499h1v1h-1zM421 499h1v1h-1zM422 499h1v1h-1zM423 499h1v1h-1zM424 500h1v1h-1zM425 500h1v1h-1zM426 501h1v1h-1zM427 501h1v1h-1zM428 502h1v1h-1zM429 502h1v1h-1zM430 503h1v1h-1zM431 503h1v1h-1zM432 503h1v1h-1zM433 504h1v1h-1zM434 504h1v1h-1zM435 505h1v1h-1zM436 505h1v1h-1zM437 505h1v1h-1zM438 506h1v1h-1zM439 506h1v1h-1zM440 506h1v1h-1zM441 507h1v1h-1zM442 507h1v1h-1zM443 507h1v1h-1zM444 508h1v1h-1zM445 508h1v1h-1zM446 509h1v1h-1zM447 509h1v1h-1zM448 510h1v1h-1zM449 510h1v1h-1zM450 511h1v1h-1zM451 511h1v1h-1zM452 512h1v1h-1zM453 512h1v1h-1zM454 513h1v1h-1zM455 513h1v1h-1zM456 514h1v1h-1zM457 514h1v1h-1zM458 515h1v1h-1zM459 515h1v1h-1zM460 516h1v1h-1zM461 516h1v1h-1zM462 517h1v1h-1zM463 517h1v1h-1zM464 518h1v1h-1zM465 519h1v1h-1zM466 519h1v1h-1zM467 520h1v1h-1zM468 521h1v1h-1zM469 522h1v1h-1zM470 523h1v1h-1zM471 524h1v1h-1zM472 525h1v1h-1zM473 526h1v1h-1zM474 527h1v1h-1zM475 528h1v1h-1zM476 529h1v2h-1zM477 531h1v1h-1zM478 532h1v2h-1zM479 534h1v1h-1zM480 535h1v1h-1zM481 536h1v2h-1zM482 538h1v1h-1zM483 539h1v1h-1zM484 540h1v1h-1zM485 541h1v1h-1zM486 542h1v1h-1zM487 543h1v1h-1zM488 544h1v1h-1zM489 545h1v1h-1zM490 546h1v1h-1zM491 547h1v1h-1zM492 548h1v1h-1zM493 549h1v1h-1zM494 550h1v1h-1zM495 551h1v1h-1zM496 552h1v1h-1zM497 553h1v1h-1zM498 554h1v1h-1zM499 555h1v1h-1zM500 556h1v1h-1zM501 557h1v1h-1zM502 558h1v1h-1zM503 558h1v1h-1zM504 559h1v1h-1zM505 559h1v1h-1zM506 559h1v1h-1zM507 560h1v1h-1zM508 560h1v1h-1zM509 561h1v1h-1zM510 561h1v1h-1zM511 561h1v1h-1zM512 562h1v1h-1zM513 562h1v1h-1zM514 562h1v1h-1zM515 562h1v1h-1zM516 562h1v1h-1zM517 562h1v1h-1zM518 562h1v1h-1zM519 562h1v1h-1zM520 562h1v1h-1zM521 562h1v1h-1zM522 562h1v1h-1zM523 563h1v1h-1zM524 563h1v1h-1zM525 563h1v1h-1zM526 563h1v1h-1zM527 563h1v1h-1zM528 563h1v1h-1zM529 563h1v1h-1zM530 563h1v1h-1zM531 563h1v1h-1zM532 563h1v1h-1zM533 563h1v1h-1zM534 563h1v1h-1zM535 563h1v1h-1zM536 563h1v1h-1zM537 563h1v1h-1zM538 563h1v1h-1zM539 563h1v1h-1zM540 563h1v1h-1zM541 563h1v1h-1zM542 563h1v1h-1zM543 563h1v1h-1zM544 563h1v1h-1zM545 563h1v1h-1zM546 563h1v1h-1zM547 563h1v1h-1zM548 563h1v1h-1zM549 563h1v1h-1zM550 563h1v1h-1zM551 562h1v1h-1zM552 562h1v1h-1zM553 562h1v1h-1zM554 562h1v1h-1zM555 562h1v1h-1zM556 561h1v1h-1zM557 561h1v1h-1zM558 561h1v1h-1zM559 561h1v1h-1zM560 560h1v1h-1zM561 560h1v1h-1zM562 560h1v1h-1zM563 560h1v1h-1zM564 560h1v1h-1zM565 559h1v1h-1zM566 559h1v1h-1zM567 559h1v1h-1zM568 559h1v1h-1zM569 558h1v1h-1zM570 558h1v1h-1zM571 558h1v1h-1zM572 557h1v1h-1zM573 557h1v1h-1zM574 556h1v1h-1zM575 556h1v1h-1zM576 556h1v1h-1zM577 556h1v1h-1zM578 556h1v1h-1zM579 556h1v1h-1zM580 555h1v1h-1zM581 555h1v1h-1zM582 555h1v1h-1zM583 555h1v1h-1zM584 555h1v1h-1zM585 555h1v1h-1zM586 555h1v1h-1zM587 555h1v1h-1zM588 555h1v1h-1zM589 554h1v1h-1zM590 554h1v1h-1zM591 554h1v1h-1zM592 554h1v1h-1zM593 554h1v1h-1zM594 554h1v1h-1zM595 554h1v1h-1zM596 554h1v1h-1zM597 553h1v1h-1zM598 553h1v1h-1zM599 553h1v1h-1zM600 553h1v1h-1zM601 553h1v1h-1zM602 552h1v1h-1zM603 552h1v1h-1zM604 552h1v1h-1zM605 552h1v1h-1zM606 551h1v1h-1zM607 551h1v1h-1zM608 551h1v1h-1zM609 551h1v1h-1zM610 550h1v1h-1zM611 550h1v1h-1zM612 549h1v1h-1zM613 549h1v1h-1zM614 548h1v1h-1zM615 548h1v1h-1zM616 547h1v1h-1zM617 547h1v1h-1zM618 546h1v1h-1zM619 546h1v1h-1zM620 545h1v1h-1zM621 545h1v1h-1zM622 544h1v1h-1zM623 543h1v1h-1zM624 543h1v1h-1zM625 542h1v1h-1zM626 541h1v1h-1zM627 541h1v1h-1zM628 540h1v1h-1zM629 539h1v1h-1zM630 539h1v1h-1zM631 538h1v1h-1zM632 538h1v1h-1zM633 537h1v1h-1zM634 537h1v1h-1zM635 536h1v1h-1zM636 536h1v1h-1zM637 535h1v1h-1zM638 535h1v1h-1zM639 534h1v1h-1zM640 534h1v1h-1zM641 533h1v1h-1zM642 533h1v1h-1zM643 533h1v1h-1zM644 533h1v1h-1zM645 533h1v1h-1zM646 533h1v1h-1zM647 533h1v1h-1zM648 533h1v1h-1zM649 533h1v1h-1zM650 533h1v1h-1zM651 533h1v1h-1zM652 533h1v1h-1zM653 533h1v1h-1zM654 533h1v1h-1zM655 534h1v1h-1zM656 534h1v1h-1zM657 534h1v1h-1zM658 535h1v1h-1zM659 535h1v1h-1zM660 536h1v1h-1zM661 536h1v1h-1zM662 536h1v1h-1zM663 537h1v1h-1zM664 537h1v1h-1zM665 537h1v1h-1zM666 537h1v1h-1zM667 538h1v1h-1zM668 538h1v1h-1zM669 538h1v1h-1zM670 538h1v1h-1zM671 539h1v1h-1zM672 539h1v1h-1zM673 539h1v1h-1zM674 539h1v1h-1zM675 539h1v1h-1zM676 540h1v1h-1zM677 540h1v1h-1zM678 540h1v1h-1zM679 540h1v1h-1zM680 540h1v1h-1zM681 541h1v1h-1zM682 541h1v1h-1zM683 541h1v1h-1zM684 541h1v1h-1zM685 542h1v1h-1zM686 542h1v1h-1zM687 542h1v1h-1zM688 542h1v1h-1zM689 542h1v1h-1zM690 542h1v1h-1zM691 542h1v1h-1zM692 542h1v1h-1zM693 542h1v1h-1zM694 542h1v1h-1zM695 542h1v1h-1zM696 542h1v1h-1zM697 542h1v1h-1zM698 542h1v1h-1zM699 542h1v1h-1zM700 542h1v1h-1zM701 542h1v1h-1zM702 542h1v1h-1zM703 542h1v1h-1zM704 542h1v1h-1zM705 542h1v1h-1zM706 543h1v1h-1zM707 543h1v1h-1zM708 543h1v1h-1zM709 543h1v1h-1zM710 543h1v1h-1zM711 542h1v1h-1zM712 542h1v1h-1zM713 542h1v1h-1zM714 542h1v1h-1zM715 541h1v1h-1zM716 541h1v1h-1zM717 541h1v1h-1zM718 540h1v1h-1zM719 540h1v1h-1zM720 539h1v1h-1zM721 539h1v1h-1zM722 538h1v1h-1zM723 538h1v1h-1zM724 537h1v1h-1zM725 536h1v1h-1zM726 536h1v1h-1zM727 535h1v1h-1zM728 535h1v1h-1zM729 534h1v1h-1zM730 533h1v1h-1zM731 532h1v1h-1zM732 532h1v1h-1zM733 531h1v1h-1zM734 530h1v1h-1zM735 529h1v1h-1zM736 529h1v1h-1zM737 528h1v1h-1zM738 527h1v1h-1zM739 526h1v1h-1zM740 526h1v1h-1zM741 525h1v1h-1zM742 524h1v1h-1zM743 523h1v1h-1zM744 523h1v1h-1zM745 522h1v1h-1zM746 521h1v1h-1zM747 520h1v1h-1zM748 520h1v1h-1zM749 519h1v1h-1zM750 519h1v1h-1zM751 518h1v1h-1zM752 518h1v1h-1zM753 517h1v1h-1zM754 517h1v1h-1zM755 516h1v1h-1zM756 516h1v1h-1zM757 515h1v1h-1zM758 515h1v1h-1zM759 515h1v1h-1zM760 515h1v1h-1zM761 514h1v1h-1zM762 514h1v1h-1zM763 514h1v1h-1zM764 514h1v1h-1zM765 514h1v1h-1zM766 514h1v1h-1zM767 514h1v1h-1zM768 514h1v1h-1zM769 514h1v1h-1zM770 514h1v1h-1zM771 514h1v1h-1zM772 514h1v1h-1zM773 514h1v1h-1zM774 514h1v1h-1zM775 514h1v1h-1zM776 514h1v1h-1zM777 514h1v1h-1zM778 515h1v1h-1zM779 515h1v1h-1zM780 515h1v1h-1zM781 515h1v1h-1zM782 516h1v1h-1zM783 516h1v1h-1zM784 516h1v1h-1zM785 516h1v1h-1zM786 517h1v1h-1zM787 517h1v1h-1zM788 518h1v1h-1zM789 518h1v1h-1zM790 519h1v1h-1zM791 519h1v1h-1zM792 520h1v1h-1zM793 521h1v1h-1zM794 521h1v1h-1zM795 522h1v1h-1zM796 522h1v1h-1zM797 523h1v1h-1zM798 524h1v1h-1zM799 524h1v1h-1zM800 525h1v1h-1zM801 526h1v1h-1zM802 526h1v1h-1zM803 527h1v1h-1zM804 528h1v1h-1zM805 528h1v1h-1zM806 529h1v1h-1zM807 530h1v1h-1zM808 530h1v1h-1zM809 531h1v1h-1zM810 531h1v1h-1zM811 531h1v1h-1zM812 532h1v1h-1zM813 532h1v1h-1zM814 533h1v1h-1zM815 533h1v1h-1zM816 534h1v1h-1zM817 534h1v1h-1zM818 534h1v1h-1zM819 535h1v1h-1zM820 535h1v1h-1zM821 536h1v1h-1zM822 536h1v1h-1zM823 536h1v1h-1zM824 537h1v1h-1zM825 537h1v1h-1zM826 538h1v1h-1zM827 538h1v1h-1zM828 538h1v1h-1zM829 539h1v1h-1zM830 539h1v1h-1zM831 540h1v1h-1zM832 540h1v1h-1zM833 541h1v1h-1zM834 541h1v1h-1zM835 542h1v1h-1zM836 542h1v1h-1zM837 543h1v1h-1zM838 543h1v1h-1zM839 544h1v1h-1zM840 544h1v1h-1zM841 545h1v1h-1zM842 545h1v1h-1zM843 546h1v1h-1zM844 546h1v1h-1zM845 547h1v1h-1zM846 548h1v1h-1zM847 548h1v1h-1zM848 549h1v1h-1zM849 550h1v1h-1zM850 550h1v1h-1zM851 551h1v1h-1zM852 551h1v1h-1zM853 552h1v1h-1zM854 552h1v1h-1zM855 553h1v1h-1zM856 553h1v1h-1zM857 554h1v1h-1zM858 554h1v1h-1zM859 554h1v1h-1zM860 555h1v1h-1zM861 555h1v1h-1zM862 555h1v1h-1zM863 555h1v1h-1zM864 556h1v1h-1zM865 556h1v1h-1zM866 556h1v1h-1zM867 556h1v1h-1zM868 556h1v1h-1zM869 556h1v1h-1zM870 556h1v1h-1zM871 556h1v1h-1zM872 557h1v1h-1zM873 557h1v1h-1zM874 557h1v1h-1zM875 557h1v1h-1zM876 557h1v1h-1zM877 557h1v1h-1zM878 557h1v1h-1zM879 556h1v1h-1zM880 556h1v1h-1zM881 556h1v1h-1zM882 556h1v1h-1zM883 556h1v1h-1zM884 555h1v1h-1zM885 555h1v1h-1zM886 555h1v1h-1zM887 554h1v1h-1zM888 554h1v1h-1zM889 554h1v1h-1zM890 553h1v1h-1zM891 553h1v1h-1zM892 552h1v1h-1zM893 552h1v1h-1zM894 552h1v1h-1zM895 551h1v1h-1zM896 550h1v1h-1zM897 550h1v1h-1zM898 549h1v1h-1zM899 549h1v1h-1zM900 548h1v1h-1zM901 547h1v1h-1zM902 547h1v1h-1zM903 546h1v1h-1zM904 546h1v1h-1zM905 545h1v1h-1zM906 544h1v1h-1zM907 544h1v1h-1zM908 543h1v1h-1zM909 543h1v1h-1zM910 542h1v1h-1zM911 542h1v1h-1zM912 541h1v1h-1zM913 541h1v1h-1zM914 540h1v1h-1zM915 540h1v1h-1zM916 539h1v1h-1zM917 539h1v1h-1zM918 538h1v1h-1zM919 538h1v1h-1z" fill="#ff0000"/>
<line x1="3" y1="599.5" x2="1163" y2="599.5" stroke="#c0c0c0" stroke-width="1" stroke-dasharray="3,3"/>
<line x1="3" y1="634.5" x2="1163" y2="634.5" stroke="#c0c0c0" stroke-width="1" stroke-dasharray="3,3"/>
<path d="M1 622h1v1h-1zM2 623h1v1h-1zM3 624h1v1h-1zM4 625h1v2h-1zM5 627h1v1h-1zM6 627h1v1h-1zM7 627h1v1h-1zM8 628h1v1h-1zM9 628h1v1h-1zM10 629h1v1h-1zM11 629h1v1h-1zM12 630h1v1h-1zM13 630h1v2h-1zM14 628h1v2h-1zM15 627h1v1h-1zM16 625h1v2h-1zM17 624h1v1h-1zM18 624h1v1h-1zM19 623h1v1h-1zM20 623h1v1h-1zM21 622h1v1h-1zM22 622h1v1h-1zM23 622h1v1h-1zM24 622h1v1h-1zM25 621h1v1h-1zM26 620h1v1h-1zM27 619h1v1h-1zM28 617h1v2h-1zM29 616h1v1h-1zM30 615h1v1h-1zM31 614h1v1h-1zM32 614h1v1h-1zM33 613h1v1h-1zM34 613h1v1h-1zM35 613h1v1h-1zM36 613h1v1h-1zM37 613h1v1h-1zM38 614h1v1h-1zM39 614h1v1h-1zM40 615h1v1h-1zM41 615h1v1h-1zM42 615h1v1h-1zM43 615h1v1h-1zM44 615h1v1h-1zM45 615h1v1h-1zM46 614h1v1h-1zM47 614h1v1h-1zM48 613h1v1h-1zM49 613h1v1h-1zM50 613h1v1h-1zM51 613h1v1h-1zM52 614h1v1h-1zM53 614h1v3h-1zM54 617h1v2h-1zM55 619h1v3h-1zM56 622h1v3h-1zM57 625h1v1h-1zM58 623h1v2h-1zM59 622h1v1h-1zM60 621h1v1h-1zM61 619h1v2h-1zM62 618h1v1h-1zM63 616h1v2h-1zM64 615h1v1h-1zM65 614h1v1h-1zM66 614h1v1h-1zM67 614h1v1h-1zM68 615h1v1h-1zM69 615h1v1h-1zM70 614h1v1h-1zM71 614h1v1h-1zM72 613h1v1h-1zM73 613h1v1h-1zM74 612h1v1h-1zM75 612h1v1h-1zM76 611h1v1h-1zM77 611h1v1h-1zM78 612h1v1h-1zM79 613h1v1h-1zM80 614h1v1h-1zM81 614h1v2h-1zM82 612h1v2h-1zM83 610h1v2h-1zM84 608h1v2h-1zM85 607h1v2h-1zM86 609h1v1h-1zM87 610h1v2h-1zM88 612h1v2h-1zM89 614h1v2h-1zM90 616h1v1h-1zM91 617h1v1h-1zM92 618h1v2h-1zM93 620h1v1h-1zM94 620h1v1h-1zM95 621h1v1h-1zM96 621h1v1h-1zM97 622h1v1h-1zM98 622h1v1h-1zM99 621h1v1h-1zM100 621h1v1h-1zM101 621h1v1h-1zM102 620h1v1h-1zM103 620h1v1h-1zM104 620h1v1h-1zM105 620h1v1h-1zM106 620h1v1h-1zM107 620h1v1h-1zM108 621h1v1h-1zM109 621h1v3h-1zM110 624h1v2h-1zM111 626h1v2h-1zM112 628h1v3h-1zM113 631h1v1h-1zM114 631h1v1h-1zM115 630h1v1h-1zM116 630h1v1h-1zM117 630h1v1h-1zM118 631h1v1h-1zM119 631h1v1h-1zM120 632h1v1h-1zM121 633h1v1h-1zM122 632h1v1h-1zM123 631h1v1h-1zM124 631h1v1h-1zM125 630h1v1h-1zM126 630h1v1h-1zM127 629h1v1h-1zM128 629h1v1h-1zM129 628h1v2h-1zM130 627h1v1h-1zM131 625h1v2h-1zM132 624h1v1h-1zM133 623h1v1h-1zM134 623h1v1h-1zM135 623h1v1h-1zM136 624h1v1h-1zM137 624h1v1h-1zM138 624h1v1h-1zM139 623h1v1h-1zM140 623h1v1h-1zM141 623h1v1h-1zM142 623h1v1h-1zM143 623h1v1h-1zM144 624h1v1h-1zM145 624h1v1h-1zM146 625h1v1h-1zM147 626h1v1h-1zM148 626h1v1h-1zM149 627h1v1h-1zM150 627h1v1h-1zM151 626h1v1h-1zM152 626h1v1h-1zM153 626h1v1h-1zM154 625h1v1h-1zM155 624h1v1h-1zM156 624h1v1h-1zM157 623h1v1h-1zM158 623h1v1h-1zM159 624h1v1h-1zM160 624h1v1h-1zM161 625h1v1h-1zM162 625h1v1h-1zM163 625h1v1h-1zM164 625h1v1h-1zM165 625h1v1h-1zM166 624h1v1h-1zM167 623h1v1h-1zM168 623h1v1h-1zM169 622h1v1h-1zM170 623h1v1h-1zM171 624h1v1h-1zM172 625h1v2h-1zM173 627h1v1h-1zM174 627h1v1h-1zM175 628h1v1h-1zM176 629h1v1h-1zM177 630h1v1h-1zM178 631h1v1h-1zM179 632h1v1h-1zM180 632h1v1h-1zM181 633h1v1h-1zM182 633h1v1h-1zM183 632h1v1h-1zM184 632h1v1h-1zM185 631h1v1h-1zM186 631h1v1h-1zM187 631h1v1h-1zM188 631h1v1h-1zM189 631h1v1h-1zM190 631h1v1h-1zM191 632h1v1h-1zM192 632h1v1h-1zM193 632h1v1h-1zM194 633h1v1h-1zM195 634h1v1h-1zM196 634h1v1h-1zM197 635h1v1h-1zM198 634h1v1h-1zM199 634h1v1h-1zM200 633h1v1h-1zM201 633h1v1h-1zM202 631h1v2h-1zM203 630h1v1h-1zM204 629h1v1h-1zM205 628h1v1h-1zM206 628h1v1h-1zM207 628h1v1h-1zM208 628h1v1h-1zM209 628h1v1h-1zM210 628h1v1h-1zM211 628h1v1h-1zM212 629h1v1h-1zM213 628h1v2h-1zM214 627h1v1h-1zM215 625h1v2h-1zM216 623h1v2h-1zM217 622h1v1h-1zM218 621h1v1h-1zM219 620h1v1h-1zM220 619h1v1h-1zM221 618h1v1h-1zM222 617h1v1h-1zM223 616h1v1h-1zM224 615h1v1h-1zM225 614h1v1h-1zM226 613h1v1h-1zM227 613h1v1h-1zM228 612h1v1h-1zM229 612h1v1h-1zM230 612h1v1h-1zM231 612h1v1h-1zM232 613h1v1h-1zM233 613h1v1h-1zM234 613h1v1h-1zM235 613h1v1h-1zM236 612h1v1h-1zM237 612h1v1h-1zM238 612h1v1h-1zM239 612h1v1h-1zM240 612h1v1h-1zM241 612h1v1h-1zM242 611h1v1h-1zM243 610h1v1h-1zM244 609h1v1h-1zM245 608h1v1h-1zM246 607h1v1h-1zM247 606h1v1h-1zM248 606h1v1h-1zM249 605h1v1h-1zM250 606h1v1h-1zM251 606h1v1h-1zM252 607h1v1h-1zM253 607h1v1h-1zM254 607h1v1h-1zM255 606h1v1h-1zM256 606h1v1h-1zM257 605h1v1h-1zM258 605h1v1h-1zM259 605h1v1h-1zM260 605h1v1h-1zM261 605h1v1h-1zM262 604h1v1h-1zM263 602h1v2h-1zM264 601h1v1h-1zM265 600h1v1h-1zM266 600h1v1h-1zM267 599h1v1h-1zM268 599h1v1h-1zM269 599h1v1h-1zM270 599h1v1h-1zM271 600h1v1h-1zM272 600h1v1h-1zM273 601h1v1h-1zM274 602h1v1h-1zM275 603h1v1h-1zM276 604h1v1h-1zM277 605h1v1h-1zM278 603h1v2h-1zM279 602h1v1h-1zM280 600h1v2h-1zM281 599h1v1h-1zM282 599h1v1h-1zM283 599h1v1h-1zM284 598h1v1h-1zM285 598h1v1h-1zM286 598h1v1h-1zM287 598h1v1h-1zM288 599h1v1h-1zM289 599h1v1h-1zM290 600h1v1h-1zM291 600h1v1h-1zM292 601h1v1h-1zM293 601h1v1h-1zM294 600h1v1h-1zM295 600h1v1h-1zM296 599h1v1h-1zM297 599h1v1h-1zM298 598h1v1h-1zM299 598h1v1h-1zM300 598h1v1h-1zM301 598h1v3h-1zM302 601h1v4h-1zM303 605h1v3h-1zM304 608h1v3h-1zM305 611h1v1h-1zM306 612h1v1h-1zM307 612h1v1h-1zM308 613h1v1h-1zM309 613h1v1h-1zM310 612h1v1h-1zM311 611h1v1h-1zM312 610h1v1h-1zM313 609h1v1h-1zM314 610h1v2h-1zM315 612h1v1h-1zM316 613h1v2h-1zM317 615h1v1h-1zM318 615h1v1h-1zM319 615h1v1h-1zM320 616h1v1h-1zM321 616h1v1h-1zM322 614h1v2h-1zM323 613h1v1h-1zM324 612h1v1h-1zM325 610h1v2h-1zM326 607h1v3h-1zM327 605h1v2h-1zM328 603h1v2h-1zM329 602h1v1h-1zM330 602h1v1h-1zM331 602h1v1h-1zM332 602h1v1h-1zM333 602h1v1h-1zM334 602h1v1h-1zM335 602h1v1h-1zM336 602h1v1h-1zM337 602h1v1h-1zM338 602h1v1h-1zM339 602h1v1h-1zM340 602h1v1h-1zM341 602h1v3h-1zM342 605h1v3h-1zM343 608h1v3h-1zM344 611h1v3h-1zM345 614h1v1h-1zM346 614h1v1h-1zM347 614h1v1h-1zM348 614h1v1h-1zM349 613h1v2h-1zM350 612h1v1h-1zM351 610h1v2h-1zM352 609h1v1h-1zM353 608h1v1h-1zM354 608h1v1h-1zM355 608h1v1h-1zM356 608h1v1h-1zM357 608h1v1h-1zM358 608h1v1h-1zM359 607h1v1h-1zM360 607h1v1h-1zM361 607h1v1h-1zM362 606h1v1h-1zM363 605h1v1h-1zM364 604h1v1h-1zM365 603h1v1h-1zM366 603h1v1h-1zM367 603h1v1h-1zM368 602h1v1h-1zM369 602h1v1h-1zM370 602h1v1h-1zM371 602h1v1h-1zM372 602h1v1h-1zM373 602h1v1h-1zM374 603h1v2h-1zM375 605h1v1h-1zM376 606h1v2h-1zM377 608h1v1h-1zM378 608h1v1h-1zM379 608h1v1h-1zM380 608h1v1h-1zM381 608h1v1h-1zM382 607h1v1h-1zM383 607h1v1h-1zM384 606h1v1h-1zM385 605h1v1h-1zM386 605h1v1h-1zM387 604h1v1h-1zM388 603h1v1h-1zM389 603h1v1h-1zM390 604h1v1h-1zM391 605h1v1h-1zM392 606h1v1h-1zM393 607h1v1h-1zM394 608h1v1h-1zM395 608h1v1h-1zM396 609h1v1h-1zM397 609h1v1h-1zM398 609h1v1h-1zM399 609h1v1h-1zM400 609h1v1h-1zM401 609h1v1h-1zM402 609h1v1h-1zM403 609h1v1h-1zM404 609h1v1h-1zM405 609h1v1h-1zM406 608h1v1h-1zM407 607h1v1h-1zM408 606h1v1h-1zM409 605h1v1h-1zM410 604h1v1h-1zM411 604h1v1h-1zM412 604h1v1h-1zM413 604h1v1h-1zM414 605h1v2h-1zM415 607h1v1h-1zM416 608h1v2h-1zM417 610h1v2h-1zM418 612h1v3h-1zM419 615h1v3h-1zM420 618h1v3h-1zM421 620h1v2h-1zM422 619h1v1h-1zM423 617h1v2h-1zM424 616h1v1h-1zM425 615h1v1h-1zM426 615h1v1h-1zM427 616h1v1h-1zM428 616h1v1h-1zM429 616h1v1h-1zM430 615h1v1h-1zM431 614h1v1h-1zM432 613h1v1h-1zM433 612h1v1h-1zM434 613h1v1h-1zM435 613h1v1h-1zM436 614h1v1h-1zM437 615h1v1h-1zM438 614h1v1h-1zM439 614h1v1h-1zM440 614h1v1h-1zM441 614h1v1h-1zM442 614h1v1h-1zM443 614h1v1h-1zM444 614h1v1h-1zM445 615h1v2h-1zM446 617h1v2h-1zM447 619h1v2h-1zM448 621h1v2h-1zM449 623h1v1h-1zM450 623h1v1h-1zM451 623h1v1h-1zM452 622h1v1h-1zM453 622h1v1h-1zM454 622h1v1h-1zM455 621h1v1h-1zM456 621h1v1h-1zM457 620h1v1h-1zM458 620h1v1h-1zM459 621h1v1h-1zM460 621h1v1h-1zM461 621h1v1h-1zM462 621h1v1h-1zM463 621h1v1h-1zM464 621h1v1h-1zM465 621h1v4h-1zM466 625h1v4h-1zM467 629h1v4h-1zM468 633h1v4h-1zM469 637h1v1h-1zM470 637h1v1h-1zM471 637h1v1h-1zM472 638h1v1h-1zM473 638h1v1h-1zM474 638h1v1h-1zM475 638h1v1h-1zM476 638h1v1h-1zM477 638h1v1h-1zM478 637h1v1h-1zM479 635h1v2h-1zM480 634h1v1h-1zM481 633h1v1h-1zM482 633h1v1h-1zM483 633h1v1h-1zM484 633h1v1h-1zM485 633h1v1h-1zM486 631h1v2h-1zM487 630h1v1h-1zM488 629h1v1h-1zM489 628h1v1h-1zM490 628h1v1h-1zM491 629h1v1h-1zM492 629h1v1h-1zM493 630h1v1h-1zM494 629h1v1h-1zM495 629h1v1h-1zM496 628h1v1h-1zM497 628h1v1h-1zM498 628h1v1h-1zM499 628h1v1h-1zM500 629h1v1h-1zM501 629h1v1h-1zM502 629h1v1h-1zM503 628h1v1h-1zM504 628h1v1h-1zM505 628h1v1h-1zM506 628h1v1h-1zM507 629h1v1h-1zM508 629h1v1h-1zM509 630h1v1h-1zM510 631h1v1h-1zM511 632h1v1h-1zM512 633h1v1h-1zM513 634h1v1h-1zM514 633h1v1h-1zM515 633h1v1h-1zM516 633h1v1h-1zM517 633h1v1h-1zM518 633h1v1h-1zM519 633h1v1h-1zM520 634h1v1h-1zM521 634h1v1h-1zM522 633h1v1h-1zM523 632h1v1h-1zM524 631h1v1h-1zM525 630h1v1h-1zM526 630h1v1h-1zM527 630h1v1h-1zM528 631h1v1h-1zM529 631h1v1h-1zM530 632h1v1h-1zM531 632h1v1h-1zM532 633h1v1h-1zM533 634h1v1h-1zM534 634h1v1h-1zM535 634h1v1h-1zM536 635h1v1h-1zM537 635h1v1h-1zM538 633h1v2h-1zM539 632h1v1h-1zM540 630h1v2h-1zM541 629h1v1h-1zM542 628h1v1h-1zM543 627h1v1h-1zM544 627h1v1h-1zM545 626h1v1h-1zM546 625h1v1h-1zM547 625h1v1h-1zM548 624h1v1h-1zM549 624h1v1h-1zM550 624h1v1h-1zM551 625h1v1h-1zM552 626h1v1h-1zM553 626h1v1h-1zM554 627h1v1h-1zM555 628h1v1h-1zM556 629h1v1h-1zM557 630h1v1h-1zM558 630h1v1h-1zM559 629h1v1h-1zM560 628h1v1h-1zM561 628h1v1h-1zM562 628h1v1h-1zM563 628h1v1h-1zM564 629h1v1h-1zM565 629h1v1h-1zM566 629h1v1h-1zM567 629h1v1h-1zM568 629h1v1h-1zM569 629h1v1h-1zM570 629h1v1h-1zM571 629h1v1h-1zM572 629h1v1h-1zM573 629h1v1h-1zM574 629h1v1h-1zM575 629h1v1h-1zM576 629h1v1h-1zM577 629h1v1h-1zM578 630h1v1h-1zM579 630h1v1h-1zM580 631h1v1h-1zM581 632h1v1h-1zM582 631h1v1h-1zM583 630h1v1h-1zM584 629h1v1h-1zM585 628h1v1h-1zM586 629h1v1h-1zM587 629h1v1h-1zM588 630h1v1h-1zM589 631h1v1h-1zM590 631h1v1h-1zM591 631h1v1h-1zM592 632h1v1h-1zM593 632h1v1h-1zM594 631h1v1h-1zM595 630h1v1h-1zM596 630h1v1h-1zM597 628h1v2h-1zM598 627h1v1h-1zM599 625h1v2h-1zM600 623h1v2h-1zM601 622h1v1h-1zM602 621h1v1h-1zM603 621h1v1h-1zM604 620h1v1h-1zM605 619h1v1h-1zM606 620h1v1h-1zM607 620h1v1h-1zM608 621h1v1h-1zM609 620h1v2h-1zM610 617h1v3h-1zM611 615h1v2h-1zM612 612h1v3h-1zM613 611h1v1h-1zM614 612h1v1h-1zM615 612h1v1h-1zM616 613h1v1h-1zM617 613h1v1h-1zM618 614h1v1h-1zM619 614h1v1h-1zM620 615h1v1h-1zM621 615h1v1h-1zM622 614h1v1h-1zM623 614h1v1h-1zM624 613h1v1h-1zM625 613h1v1h-1zM626 613h1v1h-1zM627 614h1v1h-1zM628 614h1v1h-1zM629 615h1v1h-1zM630 616h1v1h-1zM631 616h1v1h-1zM632 617h1v1h-1zM633 618h1v1h-1zM634 618h1v1h-1zM635 618h1v1h-1zM636 618h1v1h-1zM637 618h1v2h-1zM638 620h1v2h-1zM639 622h1v2h-1zM640 624h1v3h-1zM641 627h1v1h-1zM642 627h1v1h-1zM643 627h1v1h-1zM644 628h1v1h-1zM645 628h1v1h-1zM646 628h1v1h-1zM647 628h1v1h-1zM648 629h1v1h-1zM649 629h1v1h-1zM650 629h1v1h-1zM651 630h1v1h-1zM652 630h1v1h-1zM653 631h1v1h-1zM654 630h1v1h-1zM655 629h1v1h-1zM656 629h1v1h-1zM657 628h1v1h-1zM658 628h1v1h-1zM659 628h1v1h-1zM660 629h1v1h-1zM661 627h1v3h-1zM662 624h1v3h-1zM663 622h1v2h-1zM664 619h1v3h-1zM665 618h1v1h-1zM666 618h1v1h-1zM667 618h1v1h-1zM668 618h1v1h-1zM669 618h1v1h-1zM670 619h1v1h-1zM671 619h1v1h-1zM672 620h1v1h-1zM673 621h1v1h-1zM674 622h1v2h-1zM675 624h1v2h-1zM676 626h1v2h-1zM677 628h1v1h-1zM678 628h1v1h-1zM679 628h1v1h-1zM680 629h1v1h-1zM681 629h1v1h-1zM682 629h1v1h-1zM683 629h1v1h-1zM684 630h1v1h-1zM685 630h1v1h-1zM686 630h1v1h-1zM687 630h1v1h-1zM688 630h1v1h-1zM689 630h1v1h-1zM690 630h1v1h-1zM691 629h1v1h-1zM692 629h1v1h-1zM693 628h1v2h-1zM694 626h1v2h-1zM695 625h1v1h-1zM696 623h1v2h-1zM697 622h1v1h-1zM698 621h1v1h-1zM699 621h1v1h-1zM700 620h1v1h-1zM701 619h1v1h-1zM702 619h1v1h-1zM703 618h1v1h-1zM704 618h1v1h-1zM705 618h1v1h-1zM706 617h1v1h-1zM707 617h1v1h-1zM708 617h1v1h-1zM709 617h1v1h-1zM710 615h1v2h-1zM711 614h1v1h-1zM712 613h1v1h-1zM713 612h1v1h-1zM714 612h1v1h-1zM715 612h1v1h-1zM716 612h1v1h-1zM717 612h1v1h-1zM718 612h1v1h-1zM719 612h1v1h-1zM720 612h1v1h-1zM721 612h1v1h-1zM722 612h1v1h-1zM723 611h1v1h-1zM724 611h1v1h-1zM725 610h1v2h-1zM726 608h1v2h-1zM727 607h1v1h-1zM728 605h1v2h-1zM729 604h1v1h-1zM730 604h1v1h-1zM731 603h1v1h-1zM732 603h1v1h-1zM733 602h1v1h-1zM734 602h1v1h-1zM735 601h1v1h-1zM736 601h1v1h-1zM737 600h1v1h-1zM738 600h1v1h-1zM739 599h1v1h-1zM740 599h1v1h-1zM741 599h1v1h-1zM742 600h1v2h-1zM743 602h1v1h-1zM744 603h1v2h-1zM745 605h1v1h-1zM746 606h1v1h-1zM747 607h1v1h-1zM748 608h1v1h-1zM749 609h1v1h-1zM750 610h1v2h-1zM751 612h1v1h-1zM752 613h1v2h-1zM753 615h1v1h-1zM754 614h1v1h-1zM755 614h1v1h-1zM756 613h1v1h-1zM757 613h1v1h-1zM758 613h1v1h-1zM759 613h1v1h-1zM760 614h1v1h-1zM761 614h1v1h-1zM762 614h1v1h-1zM763 615h1v1h-1zM764 615h1v1h-1zM765 616h1v1h-1zM766 616h1v1h-1zM767 616h1v1h-1zM768 617h1v1h-1zM769 617h1v1h-1zM770 616h1v1h-1zM771 615h1v1h-1zM772 615h1v1h-1zM773 614h1v1h-1zM774 614h1v1h-1zM775 615h1v1h-1zM776 615h1v1h-1zM777 616h1v2h-1zM778 618h1v2h-1zM779 620h1v2h-1zM780 622h1v2h-1zM781 624h1v1h-1zM782 625h1v1h-1zM783 626h1v2h-1zM784 628h1v1h-1zM785 629h1v1h-1zM786 629h1v1h-1zM787 629h1v1h-1zM788 629h1v1h-1zM789 629h1v1h-1zM790 629h1v1h-1zM791 629h1v1h-1zM792 629h1v1h-1zM793 629h1v1h-1zM794 629h1v1h-1zM795 629h1v1h-1zM796 630h1v1h-1zM797 630h1v1h-1zM798 629h1v1h-1zM799 628h1v1h-1zM800 627h1v1h-1zM801 626h1v1h-1zM802 626h1v1h-1zM803 627h1v1h-1zM804 627h1v1h-1zM805 627h1v1h-1zM806 628h1v1h-1zM807 629h1v1h-1zM808 629h1v1h-1zM809 630h1v1h-1zM810 630h1v1h-1zM811 630h1v1h-1zM812 630h1v1h-1zM813 630h1v1h-1zM814 630h1v1h-1zM815 631h1v1h-1zM816 631h1v1h-1zM817 632h1v1h-1zM818 632h1v1h-1zM819 633h1v1h-1zM820 634h1v1h-1zM821 634h1v2h-1zM822 636h1v1h-1zM823 637h1v2h-1zM824 639h1v2h-1zM825 641h1v1h-1zM826 641h1v1h-1zM827 642h1v1h-1zM828 642h1v1h-1zM829 643h1v1h-1zM830 642h1v1h-1zM831 641h1v1h-1zM832 640h1v1h-1zM833 639h1v1h-1zM834 639h1v1h-1zM835 639h1v1h-1zM836 639h1v1h-1zM837 638h1v2h-1zM838 637h1v1h-1zM839 635h1v2h-1zM840 634h1v1h-1zM841 633h1v1h-1zM842 633h1v1h-1zM843 633h1v1h-1zM844 634h1v1h-1zM845 634h1v1h-1zM846 635h1v1h-1zM847 636h1v2h-1zM848 638h1v1h-1zM849 639h1v1h-1zM850 638h1v1h-1zM851 638h1v1h-1zM852 637h1v1h-1zM853 636h1v1h-1zM854 635h1v1h-1zM855 634h1v1h-1zM856 634h1v1h-1zM857 633h1v1h-1zM858 632h1v1h-1zM859 632h1v1h-1zM860 632h1v1h-1zM861 632h1v1h-1zM862 632h1v1h-1zM863 632h1v1h-1zM864 632h1v1h-1zM865 633h1v1h-1zM866 634h1v1h-1zM867 634h1v1h-1zM868 635h1v1h-1zM869 635h1v2h-1zM870 634h1v1h-1zM871 632h1v2h-1zM872 631h1v1h-1zM873 630h1v1h-1zM874 629h1v1h-1zM875 627h1v2h-1zM876 626h1v1h-1zM877 625h1v1h-1zM878 625h1v1h-1zM879 625h1v1h-1zM880 625h1v1h-1zM881 625h1v1h-1zM882 624h1v1h-1zM883 623h1v1h-1zM884 623h1v1h-1zM885 622h1v1h-1zM886 622h1v1h-1zM887 622h1v1h-1zM888 622h1v1h-1zM889 621h1v2h-1zM890 620h1v1h-1zM891 619h1v1h-1zM892 617h1v2h-1zM893 616h1v1h-1zM894 616h1v1h-1zM895 616h1v1h-1zM896 615h1v1h-1zM897 615h1v1h-1zM898 615h1v1h-1zM899 615h1v1h-1zM900 615h1v1h-1zM901 615h1v1h-1zM902 615h1v1h-1zM903 616h1v1h-1zM904 616h1v1h-1zM905 617h1v1h-1zM906 617h1v1h-1zM907 616h1v1h-1zM908 616h1v1h-1zM909 616h1v1h-1zM910 617h1v1h-1zM911 618h1v1h-1zM912 619h1v2h-1zM913 621h1v1h-1zM914 622h1v1h-1zM915 623h1v1h-1zM916 624h1v1h-1zM917 625h1v1h-1zM918 625h1v1h-1zM919 624h1v1h-1zM920 624h1v1h-1z" fill="#1e90ff"/>
</svg>
<div style="left:16.3px;top:29px;font-size:9.8px;text-rendering:geometricPrecision;line-height:10px;color:#000;-webkit-text-stroke:.1px #000;transform:scaleX(.969);transform-origin:0 0">EURUSD,Daily</div>
<div style="left:86px;top:29px;font-size:9.8px;text-rendering:geometricPrecision;line-height:10px;color:#000;-webkit-text-stroke:.1px #000;transform:scaleX(.955);transform-origin:0 0">1.15893 1.16006 1.15845 1.15947</div>
<div class="ax" style="top:49px">1.22565</div>
<div class="ax" style="top:82px">1.21995</div>
<div class="ax" style="top:115px">1.21410</div>
<div class="ax" style="top:148px">1.20840</div>
<div class="ax" style="top:181px">1.20270</div>
<div class="ax" style="top:214px">1.19685</div>
<div class="ax" style="top:247px">1.19115</div>
<div class="ax" style="top:280px">1.18545</div>
<div class="ax" style="top:313px">1.17960</div>
<div class="ax" style="top:346px">1.17390</div>
<div class="ax" style="top:379px">1.16820</div>
<div class="ax" style="top:412px">1.16235</div>
<div class="ax" style="top:445px">1.15665</div>
<div class="ax" style="top:478px">1.15095</div>
<div class="ax" style="left:1167px;top:490px">0.006193</div>
<div class="ax" style="left:1167px;top:521px">0.00</div>
<div class="ax" style="left:1167px;top:560px">-0.007621</div>
<div class="ax" style="left:1167px;top:576px">100</div>
<div class="ax" style="left:1167px;top:596px">70</div>
<div class="ax" style="left:1167px;top:631px">30</div>
<div class="ax" style="left:1167px;top:650px">0</div>
<div class="lb" style="top:427px;background:#000"><span>1.15947</span></div>
<div class="lb" style="top:251px;background:#ff0000"><span>1.18998</span></div>
<div class="lb" style="top:307px;background:#ff0000"><span>1.18024</span></div>
<div class="lb" style="top:365px;background:#00ff00"><span>1.17010</span></div>
<div class="lb" style="top:423px;background:#0000ff"><span>1.16007</span></div>
<div style="left:4.5px;top:492px;font-size:9.8px;text-rendering:geometricPrecision;line-height:10px;color:#000;-webkit-text-stroke:.1px #000;transform:scaleX(.953);transform-origin:0 0">MACD(12,26,9) -0.001576 -0.002135</div>
<div style="left:4.5px;top:578px;font-size:9.8px;text-rendering:geometricPrecision;line-height:10px;color:#000;-webkit-text-stroke:.1px #000;transform:scaleX(.951);transform-origin:0 0">RSI(14) 41.8007</div>
<div class="dt" style="left:0.5px">1 Feb 2021</div>
<div class="dt" style="left:64px">19 Feb 2021</div>
<div class="dt" style="left:128px">10 Mar 2021</div>
<div class="dt" style="left:192px">29 Mar 2021</div>
<div class="dt" style="left:256px">16 Apr 2021</div>
<div class="dt" style="left:320px">5 May 2021</div>
<div class="dt" style="left:384px">24 May 2021</div>
<div class="dt" style="left:448px">11 Jun 2021</div>
<div class="dt" style="left:512px">30 Jun 2021</div>
<div class="dt" style="left:576px">19 Jul 2021</div>
<div class="dt" style="left:640px">6 Aug 2021</div>
<div class="dt" style="left:704px">25 Aug 2021</div>
<div class="dt" style="left:768px">13 Sep 2021</div>
<div class="dt" style="left:832px">1 Oct 2021</div>
<div class="dt" style="left:896px">20 Oct 2021</div>
<svg width="230" height="110" viewBox="0 0 230 110" style="position:absolute;left:0;top:0;font-family:'Liberation Sans',sans-serif">
<defs><linearGradient id="rg" gradientUnits="userSpaceOnUse" x1="0" y1="44" x2="0" y2="101"><stop offset="0" stop-color="#fb5252"/><stop offset=".42" stop-color="#de2e2e"/><stop offset="1" stop-color="#b00606"/></linearGradient>
<linearGradient id="bg" x1="0" y1="0" x2="0" y2="1"><stop offset="0" stop-color="#f0f0f0"/><stop offset=".5" stop-color="#dedede"/><stop offset=".5" stop-color="#cfcfcf"/><stop offset="1" stop-color="#d9d9d9"/></linearGradient></defs>
<g shape-rendering="crispEdges">
<rect x="3" y="40" width="222" height="63" fill="#fff"/>
<path d="M4.5 44.5H55.5V68.5H112.5V100.5H4.5Z" fill="url(#rg)" stroke="#bb0a0a" stroke-width="1"/>
<path d="M222.5 44.5H171.5V68.5H115.5V100.5H222.5Z" fill="url(#rg)" stroke="#bb0a0a" stroke-width="1"/>
<rect x="8" y="67" width="44" height="1" fill="#8e0505"/><rect x="8" y="68" width="44" height="1" fill="#f07272"/>
<rect x="175" y="67" width="44" height="1" fill="#8e0505"/><rect x="175" y="68" width="44" height="1" fill="#f07272"/>
<rect x="58.5" y="44.5" width="110" height="21" fill="#fff" stroke="#a9adb6"/>
<rect x="60" y="46" width="18" height="18" fill="url(#bg)"/><rect x="59.5" y="45.5" width="19" height="19" fill="none" stroke="#d0d2d8"/>
<rect x="149" y="46" width="18" height="18" fill="url(#bg)"/><rect x="148.5" y="45.5" width="19" height="19" fill="none" stroke="#d0d2d8"/>
</g>
<path d="M3.8 35.3H11.2L7.5 30.9Z" fill="#000"/><path d="M66 53h6l-3 3.2z" fill="#4656b8"/><path d="M154 56.2h6l-3-3.2z" fill="#4656b8"/>
<text x="143.6" y="59" font-size="12px" text-anchor="end" fill="#000">3.00</text>
<text transform="translate(16 60) scale(.85 1)" font-size="12.8px" fill="#fff">SELL</text>
<text transform="translate(184.4 60) scale(.85 1)" font-size="12.8px" fill="#fff">BUY</text>
<text x="24.5" y="95.8" font-size="12px" font-weight="bold" fill="#fff">1.15</text>
<text x="134.5" y="95.8" font-size="12px" font-weight="bold" fill="#fff">1.15</text>
<text transform="translate(50.9 96.3) scale(.95 1)" font-size="34.5px" fill="#fff" stroke="url(#rg)" stroke-width=".8">95</text>
<text transform="translate(161.9 96.3) scale(.95 1)" font-size="34.5px" fill="#fff" stroke="url(#rg)" stroke-width=".8">96</text>
<text x="91" y="80" font-size="12.5px" font-weight="bold" fill="#fff">0</text>
<text x="202.3" y="80" font-size="12.5px" font-weight="bold" fill="#fff">5</text>
</svg>
<div style="left:0;top:681px;width:1205px;height:1px;background:#e6e6e6"></div>
<div style="left:0;top:683px;width:1205px;height:1px;background:#000"></div>
<div style="left:0;top:684px;width:1205px;height:23px;background:#f0f0f0"></div>
<div style="left:0;top:707px;width:1205px;height:1px;background:#a0a0a0"></div>
<div style="left:0;top:703px;width:1205px;height:1px;background:#fcfcfc"></div>
<div style="left:2px;top:683px;width:104px;height:19px;background:#fff;box-sizing:border-box;border:1px solid #000;border-top:none"></div>
<div class="tab" style="left:14px;color:#000">EURUSD,Daily</div>
<div class="tab" style="left:117px;transform:scaleX(1.01);transform-origin:0 0">AUDUSD,Daily</div>
<div class="tab" style="left:220.3px;transform:scaleX(1.0);transform-origin:0 0">USDCHF,H4</div>
<div class="tab" style="left:309px;transform:scaleX(1.012);transform-origin:0 0">USDCAD,Daily</div>
<div class="tab" style="left:412px;transform:scaleX(1.035);transform-origin:0 0">USDCNH,Daily</div>
<div class="tab" style="left:518px;transform:scaleX(1.04);transform-origin:0 0">UKOil,H4</div>
<div class="tab" style="left:592.6px;transform:scaleX(1.0);transform-origin:0 0">DJ30,H1</div>
<div class="tab" style="left:662px;transform:scaleX(1.01);transform-origin:0 0">USDX,H1</div>
<div class="tab" style="left:736px;transform:scaleX(1.025);transform-origin:0 0">XAUUSD,H4</div>
<div class="tab" style="left:830px;transform:scaleX(0.985);transform-origin:0 0">GBPUSD,H1</div>
<div class="tab" style="left:920.5px;transform:scaleX(1.04);transform-origin:0 0">USDX,Weekly</div>
<div class="sep" style="left:210px"></div>
<div class="sep" style="left:298px"></div>
<div class="sep" style="left:402px"></div>
<div class="sep" style="left:506px"></div>
<div class="sep" style="left:582px"></div>
<div class="sep" style="left:650px"></div>
<div class="sep" style="left:725px"></div>
<div class="sep" style="left:818px"></div>
<div class="sep" style="left:910px"></div>
<div class="sep" style="left:1010px"></div>
<svg width="30" height="12" viewBox="1176 686 30 12" style="position:absolute;left:1176px;top:686px"><path d="M1182.1 688.8V695.6L1178.8 692.2Z" fill="#8c8c8c"/><path d="M1197.8 688.8V695.6L1201.3 692.2Z" fill="#8c8c8c"/></svg>
</body></html>
